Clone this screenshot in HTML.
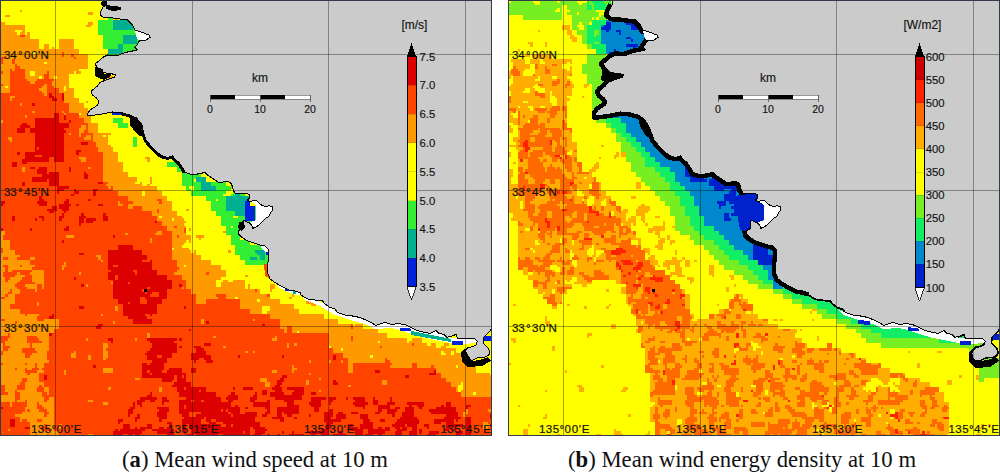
<!DOCTYPE html>
<html><head><meta charset="utf-8"><style>
html,body{margin:0;padding:0;background:#fff;width:1000px;height:472px;overflow:hidden}
.pa{position:absolute;left:0;top:0}
.pb{position:absolute;left:508px;top:0}
.cap{position:absolute;top:447px;font-family:"Liberation Serif",serif;font-size:22.7px;color:#111;white-space:nowrap}
</style></head><body>
<div class="pa"><svg width="492" height="436" viewBox="0 0 492 436" shape-rendering="crispEdges">
<path fill="#ffff00" d="M0 0h210.5v2.5h-210.5zM213 0h211v2.5h-211zM426.5 0h65.5v2.5h-65.5zM0 2.5h326v2.5h-326zM328.5 2.5h163.5v2.5h-163.5zM0 5h157v2.5h-157zM159 5h113v2.5h-113zM274.5 5h80.5v2.5h-80.5zM357.5 5h134.5v2.5h-134.5zM0 7.5h186v2.5h-186zM191 7.5h81v2.5h-81zM274.5 7.5h12v2.5h-12zM289 7.5h203v2.5h-203zM0 10h19.5v2h-19.5zM22 10h166.5v2h-166.5zM191 10h78.5v2h-78.5zM272 10h10v2h-10zM284 10h2.5v2h-2.5zM289 10h147v2h-147zM441 10h51v2h-51zM0 12h88v2.5h-88zM93 12h54v2.5h-54zM149.5 12h245v2.5h-245zM402 12h34v2.5h-34zM438.5 12h53.5v2.5h-53.5zM0 14.5h5v2.5h-5zM10 14.5h98v2.5h-98zM112.5 14.5h223v2.5h-223zM338 14.5h56.5v2.5h-56.5zM402 14.5h90v2.5h-90zM0 17h108v2.5h-108zM112.5 17h2.5v2.5h-2.5zM117.5 17h196v2.5h-196zM316 17h19.5v2.5h-19.5zM338 17h78.5v2.5h-78.5zM419 17h73v2.5h-73zM0 19.5h98v2.5h-98zM132.5 19.5h181v2.5h-181zM316 19.5h19.5v2.5h-19.5zM338 19.5h78.5v2.5h-78.5zM419 19.5h73v2.5h-73zM5 22h83v2.5h-83zM93 22h5v2.5h-5zM132.5 22h63.5v2.5h-63.5zM198.5 22h218v2.5h-218zM419 22h73v2.5h-73zM24.5 24.5h61.5v2.5h-61.5zM90.5 24.5h7.5v2.5h-7.5zM142 24.5h51.5v2.5h-51.5zM196 24.5h10v2.5h-10zM210.5 24.5h24.5v2.5h-24.5zM237.5 24.5h27v2.5h-27zM269.5 24.5h85.5v2.5h-85.5zM357.5 24.5h134.5v2.5h-134.5zM24.5 27h73.5v2.5h-73.5zM142 27h39.5v2.5h-39.5zM184 27h7v2.5h-7zM193.5 27h103v2.5h-103zM301.5 27h112.5v2.5h-112.5zM416.5 27h75.5v2.5h-75.5zM14.5 29.5h7.5v2.5h-7.5zM24.5 29.5h73.5v2.5h-73.5zM152 29.5h144.5v2.5h-144.5zM301.5 29.5h110v2.5h-110zM416.5 29.5h39v2.5h-39zM458 29.5h34v2.5h-34zM17 32h2.5v2.5h-2.5zM24.5 32h2.5v2.5h-2.5zM29.5 32h68.5v2.5h-68.5zM152 32h257v2.5h-257zM416.5 32h37v2.5h-37zM458 32h34v2.5h-34zM29.5 34.5h73.5v2.5h-73.5zM152 34.5h66v2.5h-66zM220.5 34.5h59v2.5h-59zM282 34.5h4.5v2.5h-4.5zM291.5 34.5h88.5v2.5h-88.5zM384.5 34.5h69v2.5h-69zM455.5 34.5h36.5v2.5h-36.5zM29.5 37h73.5v2h-73.5zM152 37h54v2h-54zM208.5 37h73.5v2h-73.5zM289 37h91v2h-91zM387 37h105v2h-105zM39 39h20v2.5h-20zM73.5 39h29.5v2.5h-29.5zM147 39h59v2.5h-59zM208.5 39h73.5v2.5h-73.5zM286.5 39h81v2.5h-81zM370 39h122v2.5h-122zM39 41.5h20v2.5h-20zM73.5 41.5h29.5v2.5h-29.5zM147 41.5h196v2.5h-196zM345.5 41.5h146.5v2.5h-146.5zM39 44h5v2.5h-5zM49 44h10v2.5h-10zM73.5 44h29.5v2.5h-29.5zM147 44h12v2.5h-12zM166.5 44h122.5v2.5h-122.5zM296.5 44h195.5v2.5h-195.5zM39 46.5h5v2.5h-5zM49 46.5h2.5v2.5h-2.5zM54 46.5h5v2.5h-5zM73.5 46.5h29.5v2.5h-29.5zM147 46.5h14.5v2.5h-14.5zM166.5 46.5h125v2.5h-125zM294 46.5h32v2.5h-32zM328.5 46.5h163.5v2.5h-163.5zM78.5 49h29.5v2.5h-29.5zM137 49h34.5v2.5h-34.5zM174 49h103v2.5h-103zM279.5 49h210.5v2.5h-210.5zM32 51.5h5v2.5h-5zM78.5 51.5h29.5v2.5h-29.5zM137 51.5h34.5v2.5h-34.5zM174 51.5h103v2.5h-103zM279.5 51.5h66v2.5h-66zM348 51.5h93v2.5h-93zM443.5 51.5h48.5v2.5h-48.5zM88 54h20v2.5h-20zM117.5 54h54v2.5h-54zM174 54h188.5v2.5h-188.5zM367.5 54h78.5v2.5h-78.5zM448.5 54h43.5v2.5h-43.5zM88 56.5h20v2.5h-20zM117.5 56.5h51.5v2.5h-51.5zM174 56.5h272v2.5h-272zM448.5 56.5h43.5v2.5h-43.5zM88 59h147v2.5h-147zM237.5 59h233v2.5h-233zM475.5 59h16.5v2.5h-16.5zM44 61.5h2.5v2h-2.5zM88 61.5h110.5v2h-110.5zM201 61.5h291v2h-291zM88 63.5h108v2.5h-108zM201 63.5h90.5v2.5h-90.5zM294 63.5h198v2.5h-198zM88 66h39.5v2.5h-39.5zM130 66h159v2.5h-159zM291.5 66h171.5v2.5h-171.5zM465.5 66h26.5v2.5h-26.5zM78.5 68.5h413.5v2.5h-413.5zM29.5 71h5v2.5h-5zM73.5 71h2.5v2.5h-2.5zM81 71h85.5v2.5h-85.5zM171.5 71h83.5v2.5h-83.5zM257 71h135v2.5h-135zM394.5 71h97.5v2.5h-97.5zM29.5 73.5h5v2.5h-5zM68.5 73.5h39.5v2.5h-39.5zM110.5 73.5h110v2.5h-110zM223 73.5h166.5v2.5h-166.5zM394.5 73.5h97.5v2.5h-97.5zM39 76h2.5v2.5h-2.5zM54 76h2.5v2.5h-2.5zM68.5 76h39.5v2.5h-39.5zM112.5 76h379.5v2.5h-379.5zM68.5 78.5h127.5v2.5h-127.5zM198.5 78.5h34.5v2.5h-34.5zM235 78.5h132.5v2.5h-132.5zM370 78.5h93v2.5h-93zM468 78.5h24v2.5h-24zM68.5 81h296.5v2.5h-296.5zM367.5 81h7.5v2.5h-7.5zM377.5 81h114.5v2.5h-114.5zM68.5 83.5h228v2.5h-228zM299 83.5h7v2.5h-7zM311 83.5h51.5v2.5h-51.5zM367.5 83.5h95.5v2.5h-95.5zM465.5 83.5h26.5v2.5h-26.5zM5 86h2.5v2h-2.5zM63.5 86h2.5v2h-2.5zM68.5 86h423.5v2h-423.5zM63.5 88h2.5v2.5h-2.5zM73.5 88h81v2.5h-81zM157 88h88v2.5h-88zM250 88h242v2.5h-242zM73.5 90.5h418.5v2.5h-418.5zM73.5 93h71v2.5h-71zM147 93h345v2.5h-345zM73.5 95.5h71v2.5h-71zM149.5 95.5h17v2.5h-17zM169 95.5h223v2.5h-223zM394.5 95.5h97.5v2.5h-97.5zM78.5 98h66v2.5h-66zM152 98h14.5v2.5h-14.5zM169 98h22v2.5h-22zM193.5 98h135v2.5h-135zM333 98h59v2.5h-59zM394.5 98h97.5v2.5h-97.5zM78.5 100.5h7.5v2.5h-7.5zM88 100.5h22.5v2.5h-22.5zM115 100.5h12.5v2.5h-12.5zM130 100.5h58.5v2.5h-58.5zM196 100.5h132.5v2.5h-132.5zM335.5 100.5h156.5v2.5h-156.5zM83.5 103h105v2.5h-105zM196 103h135v2.5h-135zM335.5 103h34.5v2.5h-34.5zM375 103h117v2.5h-117zM83.5 105.5h125v2.5h-125zM210.5 105.5h64v2.5h-64zM277 105.5h90.5v2.5h-90.5zM375 105.5h117v2.5h-117zM88 108h88.5v2.5h-88.5zM179 108h27v2.5h-27zM215.5 108h51.5v2.5h-51.5zM272 108h2.5v2.5h-2.5zM277 108h44v2.5h-44zM323.5 108h46.5v2.5h-46.5zM372.5 108h119.5v2.5h-119.5zM88 110.5h88.5v2h-88.5zM179 110.5h29.5v2h-29.5zM210.5 110.5h7.5v2h-7.5zM220.5 110.5h271.5v2h-271.5zM78.5 112.5h2.5v2.5h-2.5zM90.5 112.5h108v2.5h-108zM203.5 112.5h288.5v2.5h-288.5zM90.5 115h71v2.5h-71zM169 115h201v2.5h-201zM372.5 115h119.5v2.5h-119.5zM90.5 117.5h22v2.5h-22zM122.5 117.5h49v2.5h-49zM176.5 117.5h134.5v2.5h-134.5zM316 117.5h135v2.5h-135zM455.5 117.5h36.5v2.5h-36.5zM90.5 120h22v2.5h-22zM122.5 120h171.5v2.5h-171.5zM296.5 120h115v2.5h-115zM414 120h39.5v2.5h-39.5zM455.5 120h36.5v2.5h-36.5zM98 122.5h19.5v2.5h-19.5zM127.5 122.5h301.5v2.5h-301.5zM433.5 122.5h58.5v2.5h-58.5zM98 125h19.5v2.5h-19.5zM127.5 125h54v2.5h-54zM184 125h2v2.5h-2zM188.5 125h68.5v2.5h-68.5zM262 125h12.5v2.5h-12.5zM279.5 125h149.5v2.5h-149.5zM433.5 125h32v2.5h-32zM470.5 125h21.5v2.5h-21.5zM98 127.5h159v2.5h-159zM262 127.5h12.5v2.5h-12.5zM279.5 127.5h58.5v2.5h-58.5zM340.5 127.5h125v2.5h-125zM473 127.5h19v2.5h-19zM98 130h132.5v2.5h-132.5zM233 130h105v2.5h-105zM340.5 130h127.5v2.5h-127.5zM470.5 130h21.5v2.5h-21.5zM110.5 132.5h242.5v2.5h-242.5zM355 132.5h137v2.5h-137zM103 135h2.5v2h-2.5zM108 135h112.5v2h-112.5zM225.5 135h78.5v2h-78.5zM306 135h66.5v2h-66.5zM375 135h117v2h-117zM108 137h24.5v2.5h-24.5zM137 137h47v2.5h-47zM186 137h37v2.5h-37zM225.5 137h134.5v2.5h-134.5zM362.5 137h37v2.5h-37zM402 137h90v2.5h-90zM108 139.5h24.5v2.5h-24.5zM137 139.5h223v2.5h-223zM365 139.5h127v2.5h-127zM108 142h24.5v2.5h-24.5zM137 142h71.5v2.5h-71.5zM213 142h24.5v2.5h-24.5zM242.5 142h115v2.5h-115zM360 142h22v2.5h-22zM384.5 142h107.5v2.5h-107.5zM110.5 144.5h22v2.5h-22zM137 144.5h27v2.5h-27zM166.5 144.5h73.5v2.5h-73.5zM242.5 144.5h137.5v2.5h-137.5zM384.5 144.5h107.5v2.5h-107.5zM112.5 147h267.5v2.5h-267.5zM382 147h110v2.5h-110zM112.5 149.5h191.5v2.5h-191.5zM306 149.5h59v2.5h-59zM367.5 149.5h41.5v2.5h-41.5zM419 149.5h44v2.5h-44zM465.5 149.5h26.5v2.5h-26.5zM117.5 152h247.5v2.5h-247.5zM370 152h39v2.5h-39zM419 152h44v2.5h-44zM465.5 152h26.5v2.5h-26.5zM117.5 154.5h188.5v2.5h-188.5zM308.5 154.5h56.5v2.5h-56.5zM370 154.5h29.5v2.5h-29.5zM402 154.5h7v2.5h-7zM421.5 154.5h41.5v2.5h-41.5zM465.5 154.5h12.5v2.5h-12.5zM480 154.5h10v2.5h-10zM117.5 157h27v2h-27zM149.5 157h36.5v2h-36.5zM188.5 157h117.5v2h-117.5zM308.5 157h20v2h-20zM335.5 157h29.5v2h-29.5zM367.5 157h34.5v2h-34.5zM404.5 157h14.5v2h-14.5zM421.5 157h70.5v2h-70.5zM117.5 159h29.5v2.5h-29.5zM149.5 159h36.5v2.5h-36.5zM188.5 159h108v2.5h-108zM299 159h32v2.5h-32zM333 159h159v2.5h-159zM122.5 161.5h44v2.5h-44zM181.5 161.5h112.5v2.5h-112.5zM299 161.5h193v2.5h-193zM122.5 164h44v2.5h-44zM181.5 164h75.5v2.5h-75.5zM259.5 164h37v2.5h-37zM301.5 164h159v2.5h-159zM463 164h29v2.5h-29zM122.5 166.5h54v2.5h-54zM181.5 166.5h7v2.5h-7zM191 166.5h27v2.5h-27zM220.5 166.5h110.5v2.5h-110.5zM333 166.5h125v2.5h-125zM460.5 166.5h31.5v2.5h-31.5zM122.5 169h54v2.5h-54zM181.5 169h7v2.5h-7zM191 169h184v2.5h-184zM377.5 169h114.5v2.5h-114.5zM127.5 171.5h54v2.5h-54zM201 171.5h291v2.5h-291zM127.5 174h54v2.5h-54zM201 174h90.5v2.5h-90.5zM294 174h61v2.5h-61zM362.5 174h129.5v2.5h-129.5zM137 176.5h12.5v2.5h-12.5zM152 176.5h29.5v2.5h-29.5zM206 176.5h9.5v2.5h-9.5zM218 176.5h233v2.5h-233zM453.5 176.5h38.5v2.5h-38.5zM137 179h12.5v2.5h-12.5zM152 179h29.5v2.5h-29.5zM193.5 179h2.5v2.5h-2.5zM206 179h186v2.5h-186zM394.5 179h56.5v2.5h-56.5zM453.5 179h38.5v2.5h-38.5zM135 181.5h4.5v2.5h-4.5zM142 181.5h7.5v2.5h-7.5zM152 181.5h29.5v2.5h-29.5zM225.5 181.5h183.5v2.5h-183.5zM411.5 181.5h42v2.5h-42zM458 181.5h34v2.5h-34zM142 184h5v2h-5zM149.5 184h32v2h-32zM225.5 184h58.5v2h-58.5zM286.5 184h51.5v2h-51.5zM340.5 184h151.5v2h-151.5zM157 186h29v2.5h-29zM188.5 186h5v2.5h-5zM233 186h46.5v2.5h-46.5zM284 186h7.5v2.5h-7.5zM294 186h198v2.5h-198zM157 188.5h29v2.5h-29zM191 188.5h2.5v2.5h-2.5zM230.5 188.5h61v2.5h-61zM294 188.5h198v2.5h-198zM142 191h2.5v2.5h-2.5zM161.5 191h29.5v2.5h-29.5zM225.5 191h7.5v2.5h-7.5zM245 191h245v2.5h-245zM142 193.5h2.5v2.5h-2.5zM161.5 193.5h29.5v2.5h-29.5zM223 193.5h7.5v2.5h-7.5zM245 193.5h120v2.5h-120zM367.5 193.5h124.5v2.5h-124.5zM166.5 196h39.5v2.5h-39.5zM250 196h76v2.5h-76zM328.5 196h9.5v2.5h-9.5zM340.5 196h108v2.5h-108zM451 196h41v2.5h-41zM166.5 198.5h39.5v2.5h-39.5zM215.5 198.5h2.5v2.5h-2.5zM250 198.5h76v2.5h-76zM328.5 198.5h9.5v2.5h-9.5zM340.5 198.5h151.5v2.5h-151.5zM171.5 201h39v2.5h-39zM250 201h76v2.5h-76zM333 201h59v2.5h-59zM394.5 201h97.5v2.5h-97.5zM171.5 203.5h39v2.5h-39zM250 203.5h22v2.5h-22zM274.5 203.5h54v2.5h-54zM338 203.5h54v2.5h-54zM394.5 203.5h97.5v2.5h-97.5zM171.5 206h39v2.5h-39zM264.5 206h66.5v2.5h-66.5zM338 206h42v2.5h-42zM382 206h10v2.5h-10zM394.5 206h97.5v2.5h-97.5zM171.5 208.5h14.5v2h-14.5zM188.5 208.5h22v2h-22zM264.5 208.5h68.5v2h-68.5zM335.5 208.5h46.5v2h-46.5zM384.5 208.5h107.5v2h-107.5zM176.5 210.5h39v2.5h-39zM269.5 210.5h12.5v2.5h-12.5zM286.5 210.5h115.5v2.5h-115.5zM404.5 210.5h87.5v2.5h-87.5zM176.5 213h39v2.5h-39zM269.5 213h14.5v2.5h-14.5zM289 213h140v2.5h-140zM433.5 213h34.5v2.5h-34.5zM473 213h19v2.5h-19zM159 215.5h2.5v2.5h-2.5zM181.5 215.5h39v2.5h-39zM233 215.5h4.5v2.5h-4.5zM269.5 215.5h108v2.5h-108zM380 215.5h51v2.5h-51zM433.5 215.5h34.5v2.5h-34.5zM473 215.5h19v2.5h-19zM171.5 218h2.5v2.5h-2.5zM184 218h36.5v2.5h-36.5zM269.5 218h14.5v2.5h-14.5zM286.5 218h91v2.5h-91zM380 218h26.5v2.5h-26.5zM409 218h56.5v2.5h-56.5zM475.5 218h16.5v2.5h-16.5zM186 220.5h34.5v2.5h-34.5zM257 220.5h2.5v2.5h-2.5zM264.5 220.5h19.5v2.5h-19.5zM286.5 220.5h49v2.5h-49zM338 220.5h130v2.5h-130zM475.5 220.5h16.5v2.5h-16.5zM184 223h36.5v2.5h-36.5zM259.5 223h61.5v2.5h-61.5zM323.5 223h27v2.5h-27zM357.5 223h115.5v2.5h-115.5zM475.5 223h14.5v2.5h-14.5zM186 225.5h39.5v2.5h-39.5zM230.5 225.5h2.5v2.5h-2.5zM245 225.5h108v2.5h-108zM360 225.5h44.5v2.5h-44.5zM406.5 225.5h81v2.5h-81zM186 228h2.5v2.5h-2.5zM191 228h34.5v2.5h-34.5zM245 228h83.5v2.5h-83.5zM331 228h24v2.5h-24zM357.5 228h86v2.5h-86zM448.5 228h39v2.5h-39zM186 230.5h37v2.5h-37zM240 230.5h86v2.5h-86zM331 230.5h112.5v2.5h-112.5zM448.5 230.5h41.5v2.5h-41.5zM186 233h39.5v2h-39.5zM240 233h86v2h-86zM331 233h115v2h-115zM448.5 233h5v2h-5zM455.5 233h36.5v2h-36.5zM191 235h5v2.5h-5zM203.5 235h27v2.5h-27zM240 235h252v2.5h-252zM191 237.5h7.5v2.5h-7.5zM201 237.5h29.5v2.5h-29.5zM240 237.5h135v2.5h-135zM377.5 237.5h107.5v2.5h-107.5zM487.5 237.5h4.5v2.5h-4.5zM186 240h2.5v2.5h-2.5zM191 240h39.5v2.5h-39.5zM250 240h242v2.5h-242zM184 242.5h46.5v2.5h-46.5zM250 242.5h132v2.5h-132zM384.5 242.5h81v2.5h-81zM470.5 242.5h21.5v2.5h-21.5zM181.5 245h53.5v2.5h-53.5zM264.5 245h37v2.5h-37zM304 245h14.5v2.5h-14.5zM321 245h59v2.5h-59zM387 245h81v2.5h-81zM470.5 245h21.5v2.5h-21.5zM171.5 247.5h2.5v2.5h-2.5zM188.5 247.5h46.5v2.5h-46.5zM264.5 247.5h37v2.5h-37zM304 247.5h183.5v2.5h-183.5zM490 247.5h2v2.5h-2zM191 250h2.5v2.5h-2.5zM196 250h32v2.5h-32zM230.5 250h4.5v2.5h-4.5zM269.5 250h215.5v2.5h-215.5zM196 252.5h39v2.5h-39zM269.5 252.5h218v2.5h-218zM201 255h39v2h-39zM269.5 255h34.5v2h-34.5zM306 255h32v2h-32zM340.5 255h34.5v2h-34.5zM380 255h112v2h-112zM201 257h39v2.5h-39zM269.5 257h196v2.5h-196zM470.5 257h21.5v2.5h-21.5zM210.5 259.5h34.5v2.5h-34.5zM269.5 259.5h56.5v2.5h-56.5zM328.5 259.5h29v2.5h-29zM362.5 259.5h73.5v2.5h-73.5zM441 259.5h22v2.5h-22zM468 259.5h24v2.5h-24zM210.5 262h34.5v2.5h-34.5zM269.5 262h56.5v2.5h-56.5zM331 262h26.5v2.5h-26.5zM362.5 262h73.5v2.5h-73.5zM441 262h49v2.5h-49zM184 264.5h2v2.5h-2zM220.5 264.5h137v2.5h-137zM360 264.5h127.5v2.5h-127.5zM220.5 267h174v2.5h-174zM399.5 267h88v2.5h-88zM490 267h2v2.5h-2zM225.5 269.5h105.5v2.5h-105.5zM333 269.5h54v2.5h-54zM389.5 269.5h2.5v2.5h-2.5zM399.5 269.5h7v2.5h-7zM409 269.5h42v2.5h-42zM453.5 269.5h38.5v2.5h-38.5zM225.5 272h105.5v2.5h-105.5zM333 272h73.5v2.5h-73.5zM409 272h10v2.5h-10zM421.5 272h70.5v2.5h-70.5zM225.5 274.5h19.5v2.5h-19.5zM247.5 274.5h125v2.5h-125zM375 274.5h41.5v2.5h-41.5zM419 274.5h73v2.5h-73zM220.5 277h154.5v2.5h-154.5zM377.5 277h14.5v2.5h-14.5zM394.5 277h34.5v2.5h-34.5zM431 277h61v2.5h-61zM215.5 279.5h7.5v2.5h-7.5zM228 279.5h5v2.5h-5zM245 279.5h81v2.5h-81zM331 279.5h44v2.5h-44zM377.5 279.5h14.5v2.5h-14.5zM394.5 279.5h97.5v2.5h-97.5zM215.5 282h5v2h-5zM245 282h81v2h-81zM331 282h161v2h-161zM215.5 284h5v2.5h-5zM245 284h2.5v2.5h-2.5zM250 284h19.5v2.5h-19.5zM274.5 284h217.5v2.5h-217.5zM245 286.5h2.5v2.5h-2.5zM250 286.5h19.5v2.5h-19.5zM274.5 286.5h217.5v2.5h-217.5zM259.5 289h10v2.5h-10zM272 289h24.5v2.5h-24.5zM299 289h93v2.5h-93zM399.5 289h63.5v2.5h-63.5zM465.5 289h26.5v2.5h-26.5zM259.5 291.5h34.5v2.5h-34.5zM296.5 291.5h85.5v2.5h-85.5zM384.5 291.5h10v2.5h-10zM399.5 291.5h92.5v2.5h-92.5zM269.5 294h22v2.5h-22zM294 294h27v2.5h-27zM323.5 294h58.5v2.5h-58.5zM387 294h42v2.5h-42zM433.5 294h58.5v2.5h-58.5zM235 296.5h2.5v2.5h-2.5zM269.5 296.5h19.5v2.5h-19.5zM291.5 296.5h66v2.5h-66zM360 296.5h22v2.5h-22zM387 296.5h42v2.5h-42zM433.5 296.5h58.5v2.5h-58.5zM257 299h2.5v2.5h-2.5zM279.5 299h26.5v2.5h-26.5zM308.5 299h183.5v2.5h-183.5zM279.5 301.5h26.5v2.5h-26.5zM313.5 301.5h73.5v2.5h-73.5zM389.5 301.5h102.5v2.5h-102.5zM294 304h17v2h-17zM316 304h176v2h-176zM262 306h7.5v2.5h-7.5zM294 306h56.5v2.5h-56.5zM353 306h139v2.5h-139zM262 308.5h7.5v2.5h-7.5zM299 308.5h49v2.5h-49zM353 308.5h139v2.5h-139zM262 311h5v2.5h-5zM299 311h49v2.5h-49zM353 311h139v2.5h-139zM323.5 313.5h27v2.5h-27zM353 313.5h139v2.5h-139zM323.5 316h166.5v2.5h-166.5zM338 318.5h152v2.5h-152zM338 321h103v2.5h-103zM443.5 321h46.5v2.5h-46.5zM353 323.5h2v2.5h-2zM362.5 323.5h129.5v2.5h-129.5zM362.5 326h129.5v2.5h-129.5zM377.5 328.5h114.5v2.5h-114.5zM296.5 331h2.5v2h-2.5zM377.5 331h56v2h-56zM436 331h56v2h-56zM387 333h86v2.5h-86zM475.5 333h16.5v2.5h-16.5zM387 335.5h105v2.5h-105zM406.5 338h5v2.5h-5zM421.5 338h70.5v2.5h-70.5zM377.5 340.5h2.5v2.5h-2.5zM406.5 340.5h2.5v2.5h-2.5zM421.5 340.5h70.5v2.5h-70.5zM426.5 343h4.5v2.5h-4.5zM436 343h7.5v2.5h-7.5zM448.5 343h43.5v2.5h-43.5zM328.5 345.5h2.5v2.5h-2.5zM436 345.5h5v2.5h-5zM446 345.5h46v2.5h-46zM340.5 348h2.5v2.5h-2.5zM455.5 348h36.5v2.5h-36.5zM441 350.5h2.5v2.5h-2.5zM451 350.5h2.5v2.5h-2.5zM455.5 350.5h5v2.5h-5zM463 350.5h29v2.5h-29zM441 353h5v2h-5zM451 353h2.5v2h-2.5zM465.5 353h26.5v2h-26.5zM370 355h2.5v2.5h-2.5zM465.5 355h26.5v2.5h-26.5zM465.5 357.5h26.5v2.5h-26.5zM465.5 360h26.5v2.5h-26.5zM475.5 362.5h16.5v2.5h-16.5zM455.5 365h2.5v2.5h-2.5zM475.5 365h16.5v2.5h-16.5zM475.5 367.5h16.5v2.5h-16.5zM475.5 370h16.5v2.5h-16.5zM490 372.5h2v2.5h-2zM460.5 382h2.5v2.5h-2.5zM458 384.5h5v2.5h-5zM458 387h5v2.5h-5zM458 389.5h2.5v2.5h-2.5zM473 392h2.5v2.5h-2.5z"/>
<path fill="#ff9900" d="M210.5 0h2.5v2.5h-2.5zM424 0h2.5v2.5h-2.5zM326 2.5h2.5v2.5h-2.5zM157 5h2v2.5h-2zM272 5h2.5v2.5h-2.5zM355 5h2.5v2.5h-2.5zM186 7.5h5v2.5h-5zM272 7.5h2.5v2.5h-2.5zM286.5 7.5h2.5v2.5h-2.5zM19.5 10h2.5v2h-2.5zM188.5 10h2.5v2h-2.5zM269.5 10h2.5v2h-2.5zM282 10h2v2h-2zM286.5 10h2.5v2h-2.5zM436 10h5v2h-5zM88 12h5v2.5h-5zM147 12h2.5v2.5h-2.5zM394.5 12h7.5v2.5h-7.5zM436 12h2.5v2.5h-2.5zM5 14.5h5v2.5h-5zM335.5 14.5h2.5v2.5h-2.5zM394.5 14.5h7.5v2.5h-7.5zM115 17h2.5v2.5h-2.5zM313.5 17h2.5v2.5h-2.5zM335.5 17h2.5v2.5h-2.5zM416.5 17h2.5v2.5h-2.5zM313.5 19.5h2.5v2.5h-2.5zM335.5 19.5h2.5v2.5h-2.5zM416.5 19.5h2.5v2.5h-2.5zM0 22h5v2.5h-5zM88 22h5v2.5h-5zM196 22h2.5v2.5h-2.5zM416.5 22h2.5v2.5h-2.5zM0 24.5h24.5v2.5h-24.5zM86 24.5h4.5v2.5h-4.5zM193.5 24.5h2.5v2.5h-2.5zM206 24.5h4.5v2.5h-4.5zM235 24.5h2.5v2.5h-2.5zM264.5 24.5h5v2.5h-5zM355 24.5h2.5v2.5h-2.5zM0 27h24.5v2.5h-24.5zM181.5 27h2.5v2.5h-2.5zM191 27h2.5v2.5h-2.5zM296.5 27h5v2.5h-5zM414 27h2.5v2.5h-2.5zM0 29.5h14.5v2.5h-14.5zM22 29.5h2.5v2.5h-2.5zM296.5 29.5h5v2.5h-5zM411.5 29.5h5v2.5h-5zM455.5 29.5h2.5v2.5h-2.5zM0 32h17v2.5h-17zM19.5 32h5v2.5h-5zM27 32h2.5v2.5h-2.5zM409 32h7.5v2.5h-7.5zM453.5 32h4.5v2.5h-4.5zM0 34.5h19.5v2.5h-19.5zM24.5 34.5h5v2.5h-5zM218 34.5h2.5v2.5h-2.5zM279.5 34.5h2.5v2.5h-2.5zM286.5 34.5h5v2.5h-5zM380 34.5h4.5v2.5h-4.5zM453.5 34.5h2v2.5h-2zM0 37h29.5v2h-29.5zM206 37h2.5v2h-2.5zM282 37h7v2h-7zM380 37h7v2h-7zM0 39h39v2.5h-39zM59 39h14.5v2.5h-14.5zM206 39h2.5v2.5h-2.5zM282 39h4.5v2.5h-4.5zM367.5 39h2.5v2.5h-2.5zM0 41.5h39v2.5h-39zM59 41.5h14.5v2.5h-14.5zM343 41.5h2.5v2.5h-2.5zM0 44h39v2.5h-39zM44 44h5v2.5h-5zM59 44h14.5v2.5h-14.5zM159 44h7.5v2.5h-7.5zM289 44h7.5v2.5h-7.5zM0 46.5h39v2.5h-39zM44 46.5h5v2.5h-5zM51.5 46.5h2.5v2.5h-2.5zM59 46.5h14.5v2.5h-14.5zM161.5 46.5h5v2.5h-5zM291.5 46.5h2.5v2.5h-2.5zM326 46.5h2.5v2.5h-2.5zM0 49h78.5v2.5h-78.5zM171.5 49h2.5v2.5h-2.5zM277 49h2.5v2.5h-2.5zM490 49h2v2.5h-2zM0 51.5h32v2.5h-32zM37 51.5h24.5v2.5h-24.5zM63.5 51.5h15v2.5h-15zM171.5 51.5h2.5v2.5h-2.5zM277 51.5h2.5v2.5h-2.5zM345.5 51.5h2.5v2.5h-2.5zM441 51.5h2.5v2.5h-2.5zM0 54h61.5v2.5h-61.5zM63.5 54h7.5v2.5h-7.5zM73.5 54h14.5v2.5h-14.5zM171.5 54h2.5v2.5h-2.5zM362.5 54h5v2.5h-5zM446 54h2.5v2.5h-2.5zM5 56.5h68.5v2.5h-68.5zM76 56.5h12v2.5h-12zM169 56.5h5v2.5h-5zM446 56.5h2.5v2.5h-2.5zM2.5 59h9.5v2.5h-9.5zM14.5 59h73.5v2.5h-73.5zM235 59h2.5v2.5h-2.5zM470.5 59h5v2.5h-5zM2.5 61.5h9.5v2h-9.5zM14.5 61.5h29.5v2h-29.5zM46.5 61.5h41.5v2h-41.5zM198.5 61.5h2.5v2h-2.5zM0 63.5h14.5v2.5h-14.5zM17 63.5h71v2.5h-71zM196 63.5h5v2.5h-5zM291.5 63.5h2.5v2.5h-2.5zM0 66h14.5v2.5h-14.5zM19.5 66h68.5v2.5h-68.5zM127.5 66h2.5v2.5h-2.5zM289 66h2.5v2.5h-2.5zM463 66h2.5v2.5h-2.5zM0 68.5h10v2.5h-10zM12 68.5h2.5v2.5h-2.5zM24.5 68.5h54v2.5h-54zM2.5 71h7.5v2.5h-7.5zM24.5 71h5v2.5h-5zM34.5 71h12v2.5h-12zM49 71h24.5v2.5h-24.5zM76 71h5v2.5h-5zM166.5 71h5v2.5h-5zM255 71h2v2.5h-2zM392 71h2.5v2.5h-2.5zM0 73.5h10v2.5h-10zM24.5 73.5h5v2.5h-5zM34.5 73.5h9.5v2.5h-9.5zM49 73.5h19.5v2.5h-19.5zM108 73.5h2.5v2.5h-2.5zM220.5 73.5h2.5v2.5h-2.5zM389.5 73.5h5v2.5h-5zM0 76h10v2.5h-10zM24.5 76h14.5v2.5h-14.5zM41.5 76h2.5v2.5h-2.5zM49 76h5v2.5h-5zM56.5 76h12v2.5h-12zM108 76h4.5v2.5h-4.5zM0 78.5h10v2.5h-10zM27 78.5h10v2.5h-10zM54 78.5h14.5v2.5h-14.5zM196 78.5h2.5v2.5h-2.5zM233 78.5h2v2.5h-2zM367.5 78.5h2.5v2.5h-2.5zM463 78.5h5v2.5h-5zM0 81h10v2.5h-10zM29.5 81h5v2.5h-5zM51.5 81h17v2.5h-17zM365 81h2.5v2.5h-2.5zM375 81h2.5v2.5h-2.5zM2.5 83.5h7.5v2.5h-7.5zM44 83.5h2.5v2.5h-2.5zM51.5 83.5h17v2.5h-17zM296.5 83.5h2.5v2.5h-2.5zM306 83.5h5v2.5h-5zM362.5 83.5h5v2.5h-5zM463 83.5h2.5v2.5h-2.5zM0 86h5v2h-5zM7.5 86h2.5v2h-2.5zM41.5 86h5v2h-5zM54 86h9.5v2h-9.5zM66 86h2.5v2h-2.5zM0 88h10v2.5h-10zM39 88h7.5v2.5h-7.5zM59 88h4.5v2.5h-4.5zM66 88h7.5v2.5h-7.5zM154.5 88h2.5v2.5h-2.5zM245 88h5v2.5h-5zM0 90.5h10v2.5h-10zM41.5 90.5h5v2.5h-5zM59 90.5h14.5v2.5h-14.5zM44 93h2.5v2.5h-2.5zM63.5 93h10v2.5h-10zM144.5 93h2.5v2.5h-2.5zM10 95.5h4.5v2.5h-4.5zM63.5 95.5h10v2.5h-10zM144.5 95.5h5v2.5h-5zM166.5 95.5h2.5v2.5h-2.5zM392 95.5h2.5v2.5h-2.5zM10 98h2v2.5h-2zM63.5 98h15v2.5h-15zM144.5 98h7.5v2.5h-7.5zM166.5 98h2.5v2.5h-2.5zM191 98h2.5v2.5h-2.5zM328.5 98h4.5v2.5h-4.5zM392 98h2.5v2.5h-2.5zM63.5 100.5h15v2.5h-15zM86 100.5h2v2.5h-2zM110.5 100.5h4.5v2.5h-4.5zM127.5 100.5h2.5v2.5h-2.5zM188.5 100.5h7.5v2.5h-7.5zM328.5 100.5h7v2.5h-7zM19.5 103h2.5v2.5h-2.5zM68.5 103h15v2.5h-15zM188.5 103h7.5v2.5h-7.5zM331 103h4.5v2.5h-4.5zM370 103h5v2.5h-5zM68.5 105.5h15v2.5h-15zM208.5 105.5h2v2.5h-2zM274.5 105.5h2.5v2.5h-2.5zM367.5 105.5h7.5v2.5h-7.5zM68.5 108h19.5v2.5h-19.5zM176.5 108h2.5v2.5h-2.5zM206 108h9.5v2.5h-9.5zM267 108h5v2.5h-5zM274.5 108h2.5v2.5h-2.5zM321 108h2.5v2.5h-2.5zM370 108h2.5v2.5h-2.5zM32 110.5h2.5v2h-2.5zM61.5 110.5h2v2h-2zM68.5 110.5h19.5v2h-19.5zM176.5 110.5h2.5v2h-2.5zM208.5 110.5h2v2h-2zM218 110.5h2.5v2h-2.5zM63.5 112.5h2.5v2.5h-2.5zM81 112.5h9.5v2.5h-9.5zM198.5 112.5h5v2.5h-5zM24.5 115h2.5v2.5h-2.5zM78.5 115h12v2.5h-12zM161.5 115h7.5v2.5h-7.5zM370 115h2.5v2.5h-2.5zM83.5 117.5h7v2.5h-7zM171.5 117.5h5v2.5h-5zM311 117.5h5v2.5h-5zM451 117.5h4.5v2.5h-4.5zM0 120h2.5v2.5h-2.5zM83.5 120h7v2.5h-7zM294 120h2.5v2.5h-2.5zM411.5 120h2.5v2.5h-2.5zM453.5 120h2v2.5h-2zM88 122.5h10v2.5h-10zM429 122.5h4.5v2.5h-4.5zM81 125h5v2.5h-5zM88 125h10v2.5h-10zM181.5 125h2.5v2.5h-2.5zM186 125h2.5v2.5h-2.5zM257 125h5v2.5h-5zM274.5 125h5v2.5h-5zM429 125h4.5v2.5h-4.5zM465.5 125h5v2.5h-5zM78.5 127.5h7.5v2.5h-7.5zM88 127.5h10v2.5h-10zM257 127.5h5v2.5h-5zM274.5 127.5h5v2.5h-5zM338 127.5h2.5v2.5h-2.5zM465.5 127.5h7.5v2.5h-7.5zM78.5 130h5v2.5h-5zM88 130h10v2.5h-10zM230.5 130h2.5v2.5h-2.5zM338 130h2.5v2.5h-2.5zM468 130h2.5v2.5h-2.5zM68.5 132.5h2.5v2.5h-2.5zM78.5 132.5h2.5v2.5h-2.5zM93 132.5h17.5v2.5h-17.5zM353 132.5h2v2.5h-2zM78.5 135h2.5v2h-2.5zM86 135h4.5v2h-4.5zM93 135h10v2h-10zM105.5 135h2.5v2h-2.5zM220.5 135h5v2h-5zM304 135h2v2h-2zM372.5 135h2.5v2h-2.5zM7.5 137h4.5v2.5h-4.5zM83.5 137h7v2.5h-7zM93 137h15v2.5h-15zM184 137h2v2.5h-2zM223 137h2.5v2.5h-2.5zM360 137h2.5v2.5h-2.5zM399.5 137h2.5v2.5h-2.5zM10 139.5h2v2.5h-2zM93 139.5h15v2.5h-15zM360 139.5h5v2.5h-5zM95.5 142h12.5v2.5h-12.5zM208.5 142h4.5v2.5h-4.5zM237.5 142h5v2.5h-5zM357.5 142h2.5v2.5h-2.5zM382 142h2.5v2.5h-2.5zM95.5 144.5h15v2.5h-15zM164 144.5h2.5v2.5h-2.5zM240 144.5h2.5v2.5h-2.5zM380 144.5h4.5v2.5h-4.5zM98 147h14.5v2.5h-14.5zM380 147h2v2.5h-2zM98 149.5h14.5v2.5h-14.5zM304 149.5h2v2.5h-2zM365 149.5h2.5v2.5h-2.5zM409 149.5h10v2.5h-10zM463 149.5h2.5v2.5h-2.5zM103 152h14.5v2.5h-14.5zM365 152h5v2.5h-5zM409 152h10v2.5h-10zM463 152h2.5v2.5h-2.5zM103 154.5h14.5v2.5h-14.5zM306 154.5h2.5v2.5h-2.5zM365 154.5h5v2.5h-5zM399.5 154.5h2.5v2.5h-2.5zM409 154.5h12.5v2.5h-12.5zM463 154.5h2.5v2.5h-2.5zM478 154.5h2v2.5h-2zM490 154.5h2v2.5h-2zM78.5 157h7.5v2h-7.5zM103 157h14.5v2h-14.5zM144.5 157h5v2h-5zM186 157h2.5v2h-2.5zM306 157h2.5v2h-2.5zM328.5 157h7v2h-7zM365 157h2.5v2h-2.5zM402 157h2.5v2h-2.5zM419 157h2.5v2h-2.5zM81 159h5v2.5h-5zM103 159h14.5v2.5h-14.5zM147 159h2.5v2.5h-2.5zM186 159h2.5v2.5h-2.5zM296.5 159h2.5v2.5h-2.5zM331 159h2v2.5h-2zM103 161.5h19.5v2.5h-19.5zM294 161.5h5v2.5h-5zM103 164h19.5v2.5h-19.5zM257 164h2.5v2.5h-2.5zM296.5 164h5v2.5h-5zM460.5 164h2.5v2.5h-2.5zM22 166.5h2.5v2.5h-2.5zM88 166.5h2.5v2.5h-2.5zM103 166.5h19.5v2.5h-19.5zM188.5 166.5h2.5v2.5h-2.5zM218 166.5h2.5v2.5h-2.5zM331 166.5h2v2.5h-2zM458 166.5h2.5v2.5h-2.5zM22 169h2.5v2.5h-2.5zM103 169h19.5v2.5h-19.5zM188.5 169h2.5v2.5h-2.5zM375 169h2.5v2.5h-2.5zM103 171.5h24.5v2.5h-24.5zM103 174h24.5v2.5h-24.5zM291.5 174h2.5v2.5h-2.5zM355 174h7.5v2.5h-7.5zM103 176.5h34v2.5h-34zM149.5 176.5h2.5v2.5h-2.5zM215.5 176.5h2.5v2.5h-2.5zM451 176.5h2.5v2.5h-2.5zM103 179h34v2.5h-34zM149.5 179h2.5v2.5h-2.5zM392 179h2.5v2.5h-2.5zM451 179h2.5v2.5h-2.5zM108 181.5h27v2.5h-27zM139.5 181.5h2.5v2.5h-2.5zM149.5 181.5h2.5v2.5h-2.5zM409 181.5h2.5v2.5h-2.5zM453.5 181.5h4.5v2.5h-4.5zM105.5 184h36.5v2h-36.5zM147 184h2.5v2h-2.5zM284 184h2.5v2h-2.5zM338 184h2.5v2h-2.5zM108 186h2.5v2.5h-2.5zM112.5 186h44.5v2.5h-44.5zM230.5 186h2.5v2.5h-2.5zM279.5 186h4.5v2.5h-4.5zM291.5 186h2.5v2.5h-2.5zM112.5 188.5h44.5v2.5h-44.5zM291.5 188.5h2.5v2.5h-2.5zM117.5 191h24.5v2.5h-24.5zM144.5 191h17v2.5h-17zM490 191h2v2.5h-2zM117.5 193.5h24.5v2.5h-24.5zM144.5 193.5h17v2.5h-17zM365 193.5h2.5v2.5h-2.5zM127.5 196h39v2.5h-39zM326 196h2.5v2.5h-2.5zM338 196h2.5v2.5h-2.5zM448.5 196h2.5v2.5h-2.5zM127.5 198.5h29.5v2.5h-29.5zM161.5 198.5h5v2.5h-5zM326 198.5h2.5v2.5h-2.5zM338 198.5h2.5v2.5h-2.5zM117.5 201h2.5v2.5h-2.5zM132.5 201h26.5v2.5h-26.5zM161.5 201h10v2.5h-10zM326 201h7v2.5h-7zM392 201h2.5v2.5h-2.5zM117.5 203.5h5v2.5h-5zM127.5 203.5h44v2.5h-44zM272 203.5h2.5v2.5h-2.5zM328.5 203.5h9.5v2.5h-9.5zM392 203.5h2.5v2.5h-2.5zM127.5 206h5v2.5h-5zM142 206h29.5v2.5h-29.5zM331 206h7v2.5h-7zM380 206h2v2.5h-2zM392 206h2.5v2.5h-2.5zM142 208.5h15v2h-15zM159 208.5h12.5v2h-12.5zM186 208.5h2.5v2h-2.5zM333 208.5h2.5v2h-2.5zM382 208.5h2.5v2h-2.5zM152 210.5h5v2.5h-5zM159 210.5h17.5v2.5h-17.5zM282 210.5h4.5v2.5h-4.5zM402 210.5h2.5v2.5h-2.5zM152 213h24.5v2.5h-24.5zM284 213h5v2.5h-5zM429 213h4.5v2.5h-4.5zM468 213h5v2.5h-5zM157 215.5h2v2.5h-2zM161.5 215.5h20v2.5h-20zM377.5 215.5h2.5v2.5h-2.5zM431 215.5h2.5v2.5h-2.5zM468 215.5h5v2.5h-5zM157 218h14.5v2.5h-14.5zM174 218h10v2.5h-10zM284 218h2.5v2.5h-2.5zM377.5 218h2.5v2.5h-2.5zM406.5 218h2.5v2.5h-2.5zM465.5 218h10v2.5h-10zM161.5 220.5h24.5v2.5h-24.5zM284 220.5h2.5v2.5h-2.5zM335.5 220.5h2.5v2.5h-2.5zM468 220.5h7.5v2.5h-7.5zM161.5 223h22.5v2.5h-22.5zM321 223h2.5v2.5h-2.5zM350.5 223h7v2.5h-7zM473 223h2.5v2.5h-2.5zM490 223h2v2.5h-2zM166.5 225.5h7.5v2.5h-7.5zM176.5 225.5h9.5v2.5h-9.5zM353 225.5h7v2.5h-7zM404.5 225.5h2v2.5h-2zM487.5 225.5h4.5v2.5h-4.5zM166.5 228h17.5v2.5h-17.5zM188.5 228h2.5v2.5h-2.5zM328.5 228h2.5v2.5h-2.5zM355 228h2.5v2.5h-2.5zM443.5 228h5v2.5h-5zM487.5 228h4.5v2.5h-4.5zM0 230.5h5v2.5h-5zM157 230.5h4.5v2.5h-4.5zM171.5 230.5h12.5v2.5h-12.5zM223 230.5h2.5v2.5h-2.5zM326 230.5h5v2.5h-5zM443.5 230.5h5v2.5h-5zM490 230.5h2v2.5h-2zM0 233h5v2h-5zM125 233h2.5v2h-2.5zM154.5 233h7v2h-7zM171.5 233h14.5v2h-14.5zM326 233h5v2h-5zM446 233h2.5v2h-2.5zM453.5 233h2v2h-2zM0 235h2.5v2.5h-2.5zM66 235h7.5v2.5h-7.5zM171.5 235h5v2.5h-5zM179 235h12v2.5h-12zM196 235h7.5v2.5h-7.5zM0 237.5h2.5v2.5h-2.5zM149.5 237.5h2.5v2.5h-2.5zM171.5 237.5h19.5v2.5h-19.5zM198.5 237.5h2.5v2.5h-2.5zM375 237.5h2.5v2.5h-2.5zM485 237.5h2.5v2.5h-2.5zM0 240h10v2.5h-10zM149.5 240h2.5v2.5h-2.5zM171.5 240h14.5v2.5h-14.5zM188.5 240h2.5v2.5h-2.5zM0 242.5h10v2.5h-10zM171.5 242.5h12.5v2.5h-12.5zM382 242.5h2.5v2.5h-2.5zM465.5 242.5h5v2.5h-5zM0 245h10v2.5h-10zM171.5 245h10v2.5h-10zM301.5 245h2.5v2.5h-2.5zM318.5 245h2.5v2.5h-2.5zM380 245h7v2.5h-7zM468 245h2.5v2.5h-2.5zM2.5 247.5h7.5v2.5h-7.5zM174 247.5h14.5v2.5h-14.5zM301.5 247.5h2.5v2.5h-2.5zM487.5 247.5h2.5v2.5h-2.5zM2.5 250h12v2.5h-12zM171.5 250h19.5v2.5h-19.5zM193.5 250h2.5v2.5h-2.5zM228 250h2.5v2.5h-2.5zM485 250h7v2.5h-7zM0 252.5h14.5v2.5h-14.5zM171.5 252.5h24.5v2.5h-24.5zM487.5 252.5h4.5v2.5h-4.5zM0 255h19.5v2h-19.5zM95.5 255h5v2h-5zM171.5 255h29.5v2h-29.5zM304 255h2v2h-2zM338 255h2.5v2h-2.5zM375 255h5v2h-5zM0 257h2.5v2.5h-2.5zM7.5 257h9.5v2.5h-9.5zM29.5 257h5v2.5h-5zM98 257h2.5v2.5h-2.5zM171.5 257h29.5v2.5h-29.5zM465.5 257h5v2.5h-5zM0 259.5h29.5v2.5h-29.5zM100.5 259.5h2.5v2.5h-2.5zM176.5 259.5h34v2.5h-34zM326 259.5h2.5v2.5h-2.5zM357.5 259.5h5v2.5h-5zM436 259.5h5v2.5h-5zM463 259.5h5v2.5h-5zM0 262h29.5v2.5h-29.5zM63.5 262h2.5v2.5h-2.5zM176.5 262h34v2.5h-34zM326 262h5v2.5h-5zM357.5 262h5v2.5h-5zM436 262h5v2.5h-5zM490 262h2v2.5h-2zM0 264.5h2.5v2.5h-2.5zM7.5 264.5h12v2.5h-12zM22 264.5h12.5v2.5h-12.5zM61.5 264.5h4.5v2.5h-4.5zM176.5 264.5h7.5v2.5h-7.5zM186 264.5h34.5v2.5h-34.5zM357.5 264.5h2.5v2.5h-2.5zM487.5 264.5h4.5v2.5h-4.5zM0 267h5v2.5h-5zM7.5 267h24.5v2.5h-24.5zM61.5 267h2v2.5h-2zM179 267h41.5v2.5h-41.5zM394.5 267h5v2.5h-5zM487.5 267h2.5v2.5h-2.5zM0 269.5h5v2.5h-5zM7.5 269.5h4.5v2.5h-4.5zM32 269.5h12v2.5h-12zM176.5 269.5h49v2.5h-49zM331 269.5h2v2.5h-2zM387 269.5h2.5v2.5h-2.5zM392 269.5h7.5v2.5h-7.5zM406.5 269.5h2.5v2.5h-2.5zM451 269.5h2.5v2.5h-2.5zM0 272h2.5v2.5h-2.5zM17 272h2.5v2.5h-2.5zM29.5 272h14.5v2.5h-14.5zM78.5 272h2.5v2.5h-2.5zM174 272h32v2.5h-32zM208.5 272h17v2.5h-17zM331 272h2v2.5h-2zM406.5 272h2.5v2.5h-2.5zM419 272h2.5v2.5h-2.5zM0 274.5h2.5v2.5h-2.5zM14.5 274.5h10v2.5h-10zM32 274.5h12v2.5h-12zM181.5 274.5h44v2.5h-44zM245 274.5h2.5v2.5h-2.5zM372.5 274.5h2.5v2.5h-2.5zM416.5 274.5h2.5v2.5h-2.5zM0 277h5v2.5h-5zM10 277h12v2.5h-12zM32 277h12v2.5h-12zM181.5 277h39v2.5h-39zM375 277h2.5v2.5h-2.5zM392 277h2.5v2.5h-2.5zM429 277h2v2.5h-2zM0 279.5h5v2.5h-5zM7.5 279.5h12v2.5h-12zM32 279.5h12v2.5h-12zM186 279.5h29.5v2.5h-29.5zM223 279.5h5v2.5h-5zM233 279.5h12v2.5h-12zM326 279.5h5v2.5h-5zM375 279.5h2.5v2.5h-2.5zM392 279.5h2.5v2.5h-2.5zM0 282h17v2h-17zM34.5 282h9.5v2h-9.5zM110.5 282h2v2h-2zM186 282h29.5v2h-29.5zM220.5 282h24.5v2h-24.5zM326 282h5v2h-5zM0 284h14.5v2.5h-14.5zM24.5 284h12.5v2.5h-12.5zM41.5 284h2.5v2.5h-2.5zM86 284h2v2.5h-2zM186 284h29.5v2.5h-29.5zM220.5 284h24.5v2.5h-24.5zM247.5 284h2.5v2.5h-2.5zM269.5 284h5v2.5h-5zM0 286.5h17v2.5h-17zM27 286.5h10v2.5h-10zM41.5 286.5h2.5v2.5h-2.5zM181.5 286.5h2.5v2.5h-2.5zM186 286.5h59v2.5h-59zM247.5 286.5h2.5v2.5h-2.5zM269.5 286.5h5v2.5h-5zM0 289h10v2.5h-10zM12 289h7.5v2.5h-7.5zM34.5 289h2.5v2.5h-2.5zM191 289h64v2.5h-64zM257 289h2.5v2.5h-2.5zM269.5 289h2.5v2.5h-2.5zM296.5 289h2.5v2.5h-2.5zM392 289h7.5v2.5h-7.5zM463 289h2.5v2.5h-2.5zM0 291.5h7.5v2.5h-7.5zM12 291.5h7.5v2.5h-7.5zM191 291.5h68.5v2.5h-68.5zM294 291.5h2.5v2.5h-2.5zM382 291.5h2.5v2.5h-2.5zM394.5 291.5h5v2.5h-5zM0 294h5v2.5h-5zM7.5 294h7v2.5h-7zM196 294h19.5v2.5h-19.5zM225.5 294h41.5v2.5h-41.5zM291.5 294h2.5v2.5h-2.5zM321 294h2.5v2.5h-2.5zM382 294h5v2.5h-5zM429 294h4.5v2.5h-4.5zM5 296.5h9.5v2.5h-9.5zM196 296.5h22v2.5h-22zM225.5 296.5h9.5v2.5h-9.5zM237.5 296.5h32v2.5h-32zM289 296.5h2.5v2.5h-2.5zM357.5 296.5h2.5v2.5h-2.5zM382 296.5h5v2.5h-5zM429 296.5h4.5v2.5h-4.5zM0 299h14.5v2.5h-14.5zM196 299h10v2.5h-10zM240 299h17v2.5h-17zM259.5 299h20v2.5h-20zM306 299h2.5v2.5h-2.5zM0 301.5h14.5v2.5h-14.5zM37 301.5h2v2.5h-2zM196 301.5h10v2.5h-10zM240 301.5h39.5v2.5h-39.5zM306 301.5h7.5v2.5h-7.5zM387 301.5h2.5v2.5h-2.5zM0 304h10v2h-10zM37 304h2v2h-2zM240 304h54v2h-54zM311 304h5v2h-5zM0 306h10v2.5h-10zM115 306h2.5v2.5h-2.5zM240 306h22v2.5h-22zM269.5 306h24.5v2.5h-24.5zM350.5 306h2.5v2.5h-2.5zM0 308.5h19.5v2.5h-19.5zM115 308.5h2.5v2.5h-2.5zM250 308.5h12v2.5h-12zM269.5 308.5h29.5v2.5h-29.5zM348 308.5h5v2.5h-5zM0 311h19.5v2.5h-19.5zM250 311h12v2.5h-12zM267 311h32v2.5h-32zM348 311h5v2.5h-5zM0 313.5h24.5v2.5h-24.5zM27 313.5h12v2.5h-12zM100.5 313.5h2.5v2.5h-2.5zM269.5 313.5h54v2.5h-54zM350.5 313.5h2.5v2.5h-2.5zM0 316h37v2.5h-37zM269.5 316h54v2.5h-54zM490 316h2v2.5h-2zM5 318.5h32v2.5h-32zM44 318.5h15v2.5h-15zM201 318.5h2.5v2.5h-2.5zM252.5 318.5h2.5v2.5h-2.5zM279.5 318.5h58.5v2.5h-58.5zM490 318.5h2v2.5h-2zM0 321h14.5v2.5h-14.5zM17 321h42v2.5h-42zM112.5 321h2.5v2.5h-2.5zM201 321h2.5v2.5h-2.5zM279.5 321h58.5v2.5h-58.5zM441 321h2.5v2.5h-2.5zM490 321h2v2.5h-2zM0 323.5h59v2.5h-59zM279.5 323.5h71v2.5h-71zM355 323.5h7.5v2.5h-7.5zM0 326h59v2.5h-59zM279.5 326h7v2.5h-7zM291.5 326h59v2.5h-59zM353 326h9.5v2.5h-9.5zM0 328.5h54v2.5h-54zM284 328.5h2.5v2.5h-2.5zM291.5 328.5h86v2.5h-86zM0 331h54v2h-54zM284 331h2.5v2h-2.5zM291.5 331h5v2h-5zM299 331h78.5v2h-78.5zM433.5 331h2.5v2h-2.5zM0 333h7.5v2.5h-7.5zM10 333h39v2.5h-39zM147 333h2.5v2.5h-2.5zM328.5 333h58.5v2.5h-58.5zM473 333h2.5v2.5h-2.5zM10 335.5h17v2.5h-17zM37 335.5h12v2.5h-12zM147 335.5h2.5v2.5h-2.5zM213 335.5h2.5v2.5h-2.5zM274.5 335.5h2.5v2.5h-2.5zM328.5 335.5h22v2.5h-22zM353 335.5h34v2.5h-34zM7.5 338h19.5v2.5h-19.5zM39 338h10v2.5h-10zM86 338h2v2.5h-2zM135 338h2v2.5h-2zM272 338h5v2.5h-5zM328.5 338h22v2.5h-22zM353 338h53.5v2.5h-53.5zM411.5 338h10v2.5h-10zM5 340.5h22v2.5h-22zM41.5 340.5h7.5v2.5h-7.5zM328.5 340.5h49v2.5h-49zM380 340.5h26.5v2.5h-26.5zM409 340.5h12.5v2.5h-12.5zM0 343h2.5v2.5h-2.5zM5 343h24.5v2.5h-24.5zM32 343h17v2.5h-17zM103 343h5v2.5h-5zM286.5 343h2.5v2.5h-2.5zM294 343h2.5v2.5h-2.5zM328.5 343h83v2.5h-83zM414 343h12.5v2.5h-12.5zM431 343h5v2.5h-5zM443.5 343h5v2.5h-5zM0 345.5h2.5v2.5h-2.5zM10 345.5h19.5v2.5h-19.5zM32 345.5h17v2.5h-17zM103 345.5h5v2.5h-5zM223 345.5h2.5v2.5h-2.5zM286.5 345.5h2.5v2.5h-2.5zM331 345.5h49v2.5h-49zM382 345.5h54v2.5h-54zM441 345.5h5v2.5h-5zM0 348h2.5v2.5h-2.5zM7.5 348h14.5v2.5h-14.5zM34.5 348h14.5v2.5h-14.5zM103 348h2.5v2.5h-2.5zM333 348h7.5v2.5h-7.5zM343 348h112.5v2.5h-112.5zM2.5 350.5h19.5v2.5h-19.5zM37 350.5h9.5v2.5h-9.5zM73.5 350.5h2.5v2.5h-2.5zM103 350.5h5v2.5h-5zM245 350.5h2.5v2.5h-2.5zM252.5 350.5h2.5v2.5h-2.5zM333 350.5h108v2.5h-108zM443.5 350.5h7.5v2.5h-7.5zM453.5 350.5h2v2.5h-2zM460.5 350.5h2.5v2.5h-2.5zM2.5 353h22v2h-22zM32 353h14.5v2h-14.5zM71 353h5v2h-5zM103 353h5v2h-5zM343 353h98v2h-98zM446 353h5v2h-5zM453.5 353h12v2h-12zM0 355h24.5v2.5h-24.5zM29.5 355h17v2.5h-17zM71 355h5v2.5h-5zM88 355h2.5v2.5h-2.5zM103 355h5v2.5h-5zM343 355h27v2.5h-27zM372.5 355h93v2.5h-93zM0 357.5h46.5v2.5h-46.5zM88 357.5h2.5v2.5h-2.5zM103 357.5h2.5v2.5h-2.5zM348 357.5h36.5v2.5h-36.5zM387 357.5h78.5v2.5h-78.5zM0 360h49v2.5h-49zM308.5 360h2.5v2.5h-2.5zM328.5 360h2.5v2.5h-2.5zM340.5 360h2.5v2.5h-2.5zM348 360h36.5v2.5h-36.5zM389.5 360h76v2.5h-76zM2.5 362.5h22v2.5h-22zM27 362.5h7.5v2.5h-7.5zM37 362.5h7v2.5h-7zM348 362.5h5v2.5h-5zM392 362.5h19.5v2.5h-19.5zM416.5 362.5h59v2.5h-59zM0 365h34.5v2.5h-34.5zM37 365h7v2.5h-7zM291.5 365h2.5v2.5h-2.5zM348 365h5v2.5h-5zM389.5 365h22v2.5h-22zM416.5 365h14.5v2.5h-14.5zM433.5 365h22v2.5h-22zM458 365h17.5v2.5h-17.5zM0 367.5h14.5v2.5h-14.5zM17 367.5h7.5v2.5h-7.5zM27 367.5h5v2.5h-5zM39 367.5h2.5v2.5h-2.5zM103 367.5h9.5v2.5h-9.5zM291.5 367.5h5v2.5h-5zM348 367.5h5v2.5h-5zM436 367.5h39.5v2.5h-39.5zM0 370h24.5v2.5h-24.5zM37 370h7v2.5h-7zM63.5 370h2.5v2.5h-2.5zM103 370h9.5v2.5h-9.5zM272 370h5v2.5h-5zM291.5 370h2.5v2.5h-2.5zM348 370h5v2.5h-5zM436 370h39.5v2.5h-39.5zM0 372.5h27v2.5h-27zM29.5 372.5h9.5v2.5h-9.5zM63.5 372.5h2.5v2.5h-2.5zM308.5 372.5h2.5v2.5h-2.5zM441 372.5h49v2.5h-49zM0 375h39v2.5h-39zM441 375h51v2.5h-51zM0 377.5h22v2.5h-22zM27 377.5h12v2.5h-12zM135 377.5h4.5v2.5h-4.5zM259.5 377.5h7.5v2.5h-7.5zM318.5 377.5h2.5v2.5h-2.5zM446 377.5h46v2.5h-46zM0 380h22v2h-22zM27 380h12v2h-12zM259.5 380h7.5v2h-7.5zM306 380h2.5v2h-2.5zM382 380h5v2h-5zM446 380h46v2h-46zM0 382h19.5v2.5h-19.5zM24.5 382h19.5v2.5h-19.5zM264.5 382h5v2.5h-5zM306 382h2.5v2.5h-2.5zM382 382h5v2.5h-5zM451 382h9.5v2.5h-9.5zM463 382h29v2.5h-29zM5 384.5h12v2.5h-12zM24.5 384.5h14.5v2.5h-14.5zM41.5 384.5h2.5v2.5h-2.5zM264.5 384.5h5v2.5h-5zM348 384.5h2.5v2.5h-2.5zM451 384.5h7v2.5h-7zM463 384.5h29v2.5h-29zM5 387h12v2.5h-12zM24.5 387h12.5v2.5h-12.5zM44 387h5v2.5h-5zM108 387h2.5v2.5h-2.5zM159 387h2.5v2.5h-2.5zM455.5 387h2.5v2.5h-2.5zM463 387h29v2.5h-29zM5 389.5h9.5v2.5h-9.5zM17 389.5h20v2.5h-20zM44 389.5h5v2.5h-5zM159 389.5h2.5v2.5h-2.5zM318.5 389.5h2.5v2.5h-2.5zM455.5 389.5h2.5v2.5h-2.5zM460.5 389.5h31.5v2.5h-31.5zM7.5 392h7v2.5h-7zM19.5 392h22v2.5h-22zM46.5 392h2.5v2.5h-2.5zM460.5 392h12.5v2.5h-12.5zM475.5 392h16.5v2.5h-16.5zM0 394.5h14.5v2.5h-14.5zM19.5 394.5h22v2.5h-22zM460.5 394.5h31.5v2.5h-31.5zM0 397h14.5v2.5h-14.5zM19.5 397h24.5v2.5h-24.5zM49 397h5v2.5h-5zM0 399.5h14.5v2.5h-14.5zM17 399.5h7.5v2.5h-7.5zM27 399.5h17v2.5h-17zM46.5 399.5h7.5v2.5h-7.5zM88 399.5h5v2.5h-5zM10 402h2v2.5h-2zM27 402h10v2.5h-10zM39 402h15v2.5h-15zM103 402h5v2.5h-5zM10 404.5h2v2h-2zM27 404.5h10v2h-10zM41.5 404.5h12.5v2h-12.5zM24.5 406.5h12.5v2.5h-12.5zM44 406.5h10v2.5h-10zM24.5 409h2.5v2.5h-2.5zM29.5 409h9.5v2.5h-9.5zM46.5 409h7.5v2.5h-7.5zM465.5 409h2.5v2.5h-2.5zM487.5 409h4.5v2.5h-4.5zM22 411.5h22v2.5h-22zM49 411.5h5v2.5h-5zM463 411.5h5v2.5h-5zM14.5 414h29.5v2.5h-29.5zM46.5 414h7.5v2.5h-7.5zM463 414h2.5v2.5h-2.5zM19.5 416.5h34.5v2.5h-34.5zM19.5 419h2.5v2.5h-2.5zM27 419h10v2.5h-10zM41.5 419h12.5v2.5h-12.5zM29.5 421.5h24.5v2.5h-24.5zM482.5 421.5h5v2.5h-5zM29.5 424h14.5v2.5h-14.5zM46.5 424h7.5v2.5h-7.5zM59 424h2.5v2.5h-2.5zM482.5 424h7.5v2.5h-7.5zM29.5 426.5h9.5v2.5h-9.5zM49 426.5h5v2.5h-5zM59 426.5h2.5v2.5h-2.5zM482.5 426.5h5v2.5h-5zM7.5 429h2.5v2h-2.5zM29.5 429h12v2h-12zM51.5 429h2.5v2h-2.5zM29.5 431h29.5v2.5h-29.5zM29.5 433.5h5v2.5h-5zM37 433.5h9.5v2.5h-9.5zM49 433.5h10v2.5h-10zM88 433.5h5v2.5h-5z"/>
<path fill="#33ee33" d="M108 14.5h4.5v2.5h-4.5zM108 17h4.5v2.5h-4.5zM98 19.5h14.5v2.5h-14.5zM98 22h14.5v2.5h-14.5zM98 24.5h14.5v2.5h-14.5zM132.5 24.5h9.5v2.5h-9.5zM98 27h14.5v2.5h-14.5zM132.5 27h9.5v2.5h-9.5zM98 29.5h54v2.5h-54zM98 32h54v2.5h-54zM103 34.5h19.5v2.5h-19.5zM137 34.5h15v2.5h-15zM103 37h19.5v2h-19.5zM137 37h15v2h-15zM103 39h19.5v2.5h-19.5zM137 39h10v2.5h-10zM103 41.5h19.5v2.5h-19.5zM137 41.5h10v2.5h-10zM103 44h14.5v2.5h-14.5zM122.5 44h24.5v2.5h-24.5zM103 46.5h14.5v2.5h-14.5zM122.5 46.5h24.5v2.5h-24.5zM122.5 49h14.5v2.5h-14.5zM122.5 51.5h14.5v2.5h-14.5zM108 54h9.5v2.5h-9.5zM108 56.5h9.5v2.5h-9.5zM112.5 117.5h10v2.5h-10zM112.5 120h10v2.5h-10zM117.5 122.5h10v2.5h-10zM117.5 125h10v2.5h-10zM132.5 137h4.5v2.5h-4.5zM132.5 139.5h4.5v2.5h-4.5zM132.5 142h4.5v2.5h-4.5zM132.5 144.5h4.5v2.5h-4.5zM166.5 161.5h15v2.5h-15zM166.5 164h15v2.5h-15zM176.5 166.5h5v2.5h-5zM176.5 169h5v2.5h-5zM181.5 171.5h19.5v2.5h-19.5zM181.5 174h19.5v2.5h-19.5zM181.5 176.5h14.5v2.5h-14.5zM181.5 179h12v2.5h-12zM181.5 181.5h19.5v2.5h-19.5zM210.5 181.5h15v2.5h-15zM181.5 184h19.5v2h-19.5zM210.5 184h15v2h-15zM186 186h2.5v2.5h-2.5zM193.5 186h7.5v2.5h-7.5zM215.5 186h15v2.5h-15zM186 188.5h5v2.5h-5zM193.5 188.5h7.5v2.5h-7.5zM215.5 188.5h15v2.5h-15zM191 191h34.5v2.5h-34.5zM233 191h2v2.5h-2zM240 191h5v2.5h-5zM191 193.5h32v2.5h-32zM230.5 193.5h4.5v2.5h-4.5zM240 193.5h5v2.5h-5zM206 196h19.5v2.5h-19.5zM206 198.5h9.5v2.5h-9.5zM218 198.5h7.5v2.5h-7.5zM210.5 201h15v2.5h-15zM210.5 203.5h15v2.5h-15zM210.5 206h15v2.5h-15zM255 206h9.5v2.5h-9.5zM210.5 208.5h15v2h-15zM255 208.5h9.5v2h-9.5zM215.5 210.5h19.5v2.5h-19.5zM255 210.5h14.5v2.5h-14.5zM215.5 213h19.5v2.5h-19.5zM255 213h14.5v2.5h-14.5zM220.5 215.5h12.5v2.5h-12.5zM237.5 215.5h7.5v2.5h-7.5zM255 215.5h14.5v2.5h-14.5zM220.5 218h24.5v2.5h-24.5zM255 218h14.5v2.5h-14.5zM220.5 220.5h36.5v2.5h-36.5zM259.5 220.5h5v2.5h-5zM220.5 223h39v2.5h-39zM225.5 225.5h5v2.5h-5zM233 225.5h12v2.5h-12zM225.5 228h19.5v2.5h-19.5zM225.5 230.5h14.5v2.5h-14.5zM225.5 233h14.5v2h-14.5zM230.5 235h9.5v2.5h-9.5zM230.5 237.5h9.5v2.5h-9.5zM230.5 240h19.5v2.5h-19.5zM230.5 242.5h19.5v2.5h-19.5zM235 245h29.5v2.5h-29.5zM235 247.5h29.5v2.5h-29.5zM235 250h20v2.5h-20zM264.5 250h5v2.5h-5zM235 252.5h22v2.5h-22zM264.5 252.5h5v2.5h-5zM240 255h19.5v2h-19.5zM264.5 255h5v2h-5zM240 257h10v2.5h-10zM257 257h2.5v2.5h-2.5zM264.5 257h5v2.5h-5zM245 259.5h24.5v2.5h-24.5zM245 262h24.5v2.5h-24.5z"/>
<path fill="#00b090" d="M112.5 19.5h20v2.5h-20zM112.5 22h20v2.5h-20zM112.5 24.5h20v2.5h-20zM112.5 27h20v2.5h-20zM122.5 34.5h14.5v2.5h-14.5zM122.5 37h14.5v2h-14.5zM122.5 39h14.5v2.5h-14.5zM122.5 41.5h14.5v2.5h-14.5zM117.5 44h5v2.5h-5zM117.5 46.5h5v2.5h-5zM108 49h14.5v2.5h-14.5zM108 51.5h14.5v2.5h-14.5zM196 176.5h10v2.5h-10zM196 179h10v2.5h-10zM201 181.5h9.5v2.5h-9.5zM201 184h9.5v2h-9.5zM201 186h14.5v2.5h-14.5zM201 188.5h14.5v2.5h-14.5zM235 191h5v2.5h-5zM235 193.5h5v2.5h-5zM225.5 196h24.5v2.5h-24.5zM225.5 198.5h24.5v2.5h-24.5zM225.5 201h19.5v2.5h-19.5zM225.5 203.5h19.5v2.5h-19.5zM225.5 206h19.5v2.5h-19.5zM225.5 208.5h19.5v2h-19.5zM235 210.5h10v2.5h-10zM235 213h10v2.5h-10zM255 250h9.5v2.5h-9.5zM257 252.5h7.5v2.5h-7.5zM259.5 255h5v2h-5zM250 257h7v2.5h-7zM259.5 257h5v2.5h-5z"/>
<path fill="#ff4400" d="M19.5 34.5h5v2.5h-5zM61.5 51.5h2v2.5h-2zM61.5 54h2v2.5h-2zM71 54h2.5v2.5h-2.5zM0 56.5h5v2.5h-5zM73.5 56.5h2.5v2.5h-2.5zM0 59h2.5v2.5h-2.5zM12 59h2.5v2.5h-2.5zM0 61.5h2.5v2h-2.5zM12 61.5h2.5v2h-2.5zM14.5 63.5h2.5v2.5h-2.5zM14.5 66h5v2.5h-5zM10 68.5h2v2.5h-2zM14.5 68.5h10v2.5h-10zM0 71h2.5v2.5h-2.5zM10 71h14.5v2.5h-14.5zM46.5 71h2.5v2.5h-2.5zM10 73.5h14.5v2.5h-14.5zM44 73.5h5v2.5h-5zM10 76h14.5v2.5h-14.5zM44 76h5v2.5h-5zM10 78.5h17v2.5h-17zM37 78.5h17v2.5h-17zM10 81h19.5v2.5h-19.5zM34.5 81h17v2.5h-17zM0 83.5h2.5v2.5h-2.5zM10 83.5h34v2.5h-34zM46.5 83.5h5v2.5h-5zM10 86h31.5v2h-31.5zM46.5 86h7.5v2h-7.5zM10 88h29v2.5h-29zM46.5 88h12.5v2.5h-12.5zM10 90.5h31.5v2.5h-31.5zM46.5 90.5h12.5v2.5h-12.5zM0 93h44v2.5h-44zM46.5 93h2.5v2.5h-2.5zM51.5 93h10v2.5h-10zM0 95.5h10v2.5h-10zM14.5 95.5h34.5v2.5h-34.5zM54 95.5h7.5v2.5h-7.5zM0 98h10v2.5h-10zM12 98h39.5v2.5h-39.5zM56.5 98h5v2.5h-5zM0 100.5h63.5v2.5h-63.5zM0 103h19.5v2.5h-19.5zM22 103h10v2.5h-10zM34.5 103h34v2.5h-34zM0 105.5h68.5v2.5h-68.5zM0 108h68.5v2.5h-68.5zM0 110.5h32v2h-32zM34.5 110.5h27v2h-27zM63.5 110.5h5v2h-5zM0 112.5h54v2.5h-54zM59 112.5h4.5v2.5h-4.5zM66 112.5h12.5v2.5h-12.5zM0 115h24.5v2.5h-24.5zM27 115h27v2.5h-27zM59 115h4.5v2.5h-4.5zM66 115h12.5v2.5h-12.5zM0 117.5h34.5v2.5h-34.5zM59 117.5h4.5v2.5h-4.5zM66 117.5h17.5v2.5h-17.5zM2.5 120h32v2.5h-32zM59 120h9.5v2.5h-9.5zM71 120h12.5v2.5h-12.5zM0 122.5h22v2.5h-22zM27 122.5h7.5v2.5h-7.5zM68.5 122.5h19.5v2.5h-19.5zM0 125h19.5v2.5h-19.5zM29.5 125h5v2.5h-5zM68.5 125h12.5v2.5h-12.5zM86 125h2v2.5h-2zM0 127.5h17v2.5h-17zM24.5 127.5h5v2.5h-5zM63.5 127.5h15v2.5h-15zM86 127.5h2v2.5h-2zM0 130h17v2.5h-17zM24.5 130h5v2.5h-5zM66 130h12.5v2.5h-12.5zM83.5 130h4.5v2.5h-4.5zM0 132.5h34.5v2.5h-34.5zM63.5 132.5h5v2.5h-5zM71 132.5h7.5v2.5h-7.5zM81 132.5h12v2.5h-12zM0 135h34.5v2h-34.5zM63.5 135h15v2h-15zM81 135h5v2h-5zM90.5 135h2.5v2h-2.5zM0 137h7.5v2.5h-7.5zM12 137h22.5v2.5h-22.5zM63.5 137h20v2.5h-20zM90.5 137h2.5v2.5h-2.5zM0 139.5h10v2.5h-10zM12 139.5h22.5v2.5h-22.5zM63.5 139.5h29.5v2.5h-29.5zM0 142h34.5v2.5h-34.5zM63.5 142h17.5v2.5h-17.5zM88 142h7.5v2.5h-7.5zM0 144.5h34.5v2.5h-34.5zM63.5 144.5h32v2.5h-32zM0 147h34.5v2.5h-34.5zM37 147h2v2.5h-2zM63.5 147h34.5v2.5h-34.5zM0 149.5h34.5v2.5h-34.5zM63.5 149.5h12.5v2.5h-12.5zM81 149.5h17v2.5h-17zM0 152h17v2.5h-17zM19.5 152h5v2.5h-5zM63.5 152h12.5v2.5h-12.5zM78.5 152h24.5v2.5h-24.5zM0 154.5h24.5v2.5h-24.5zM34.5 154.5h7v2.5h-7zM63.5 154.5h39.5v2.5h-39.5zM0 157h24.5v2h-24.5zM49 157h5v2h-5zM63.5 157h15v2h-15zM86 157h17v2h-17zM0 159h22v2.5h-22zM49 159h5v2.5h-5zM63.5 159h17.5v2.5h-17.5zM86 159h17v2.5h-17zM0 161.5h12v2.5h-12zM17 161.5h5v2.5h-5zM27 161.5h76v2.5h-76zM0 164h12v2.5h-12zM17 164h86v2.5h-86zM0 166.5h22v2.5h-22zM24.5 166.5h5v2.5h-5zM34.5 166.5h4.5v2.5h-4.5zM46.5 166.5h22v2.5h-22zM71 166.5h17v2.5h-17zM90.5 166.5h12.5v2.5h-12.5zM0 169h22v2.5h-22zM24.5 169h12.5v2.5h-12.5zM46.5 169h22v2.5h-22zM71 169h32v2.5h-32zM0 171.5h37v2.5h-37zM46.5 171.5h2.5v2.5h-2.5zM59 171.5h24.5v2.5h-24.5zM86 171.5h17v2.5h-17zM0 174h41.5v2.5h-41.5zM59 174h24.5v2.5h-24.5zM88 174h15v2.5h-15zM0 176.5h32v2.5h-32zM59 176.5h24.5v2.5h-24.5zM88 176.5h15v2.5h-15zM0 179h32v2.5h-32zM46.5 179h2.5v2.5h-2.5zM59 179h44v2.5h-44zM0 181.5h22v2.5h-22zM24.5 181.5h24.5v2.5h-24.5zM59 181.5h39v2.5h-39zM103 181.5h5v2.5h-5zM0 184h22v2h-22zM24.5 184h24.5v2h-24.5zM59 184h46.5v2h-46.5zM0 186h56.5v2.5h-56.5zM68.5 186h39.5v2.5h-39.5zM110.5 186h2v2.5h-2zM0 188.5h56.5v2.5h-56.5zM63.5 188.5h10v2.5h-10zM76 188.5h17v2.5h-17zM98 188.5h14.5v2.5h-14.5zM0 191h56.5v2.5h-56.5zM59 191h14.5v2.5h-14.5zM78.5 191h14.5v2.5h-14.5zM95.5 191h22v2.5h-22zM0 193.5h46.5v2.5h-46.5zM49 193.5h22v2.5h-22zM73.5 193.5h19.5v2.5h-19.5zM95.5 193.5h22v2.5h-22zM0 196h39v2.5h-39zM41.5 196h86v2.5h-86zM0 198.5h39v2.5h-39zM44 198.5h22v2.5h-22zM68.5 198.5h19.5v2.5h-19.5zM90.5 198.5h37v2.5h-37zM157 198.5h4.5v2.5h-4.5zM5 201h32v2.5h-32zM46.5 201h17v2.5h-17zM68.5 201h49v2.5h-49zM120 201h12.5v2.5h-12.5zM159 201h2.5v2.5h-2.5zM2.5 203.5h36.5v2.5h-36.5zM46.5 203.5h12.5v2.5h-12.5zM71 203.5h5v2.5h-5zM78.5 203.5h19.5v2.5h-19.5zM103 203.5h14.5v2.5h-14.5zM122.5 203.5h5v2.5h-5zM0 206h51.5v2.5h-51.5zM56.5 206h2.5v2.5h-2.5zM68.5 206h59v2.5h-59zM132.5 206h9.5v2.5h-9.5zM0 208.5h46.5v2h-46.5zM56.5 208.5h5v2h-5zM68.5 208.5h73.5v2h-73.5zM157 208.5h2v2h-2zM0 210.5h49v2.5h-49zM54 210.5h9.5v2.5h-9.5zM66 210.5h86v2.5h-86zM157 210.5h2v2.5h-2zM0 213h61.5v2.5h-61.5zM63.5 213h17.5v2.5h-17.5zM83.5 213h19.5v2.5h-19.5zM105.5 213h46.5v2.5h-46.5zM0 215.5h12v2.5h-12zM14.5 215.5h24.5v2.5h-24.5zM44 215.5h15v2.5h-15zM63.5 215.5h15v2.5h-15zM86 215.5h17v2.5h-17zM108 215.5h49v2.5h-49zM0 218h12v2.5h-12zM14.5 218h20v2.5h-20zM37 218h4.5v2.5h-4.5zM44 218h15v2.5h-15zM61.5 218h17v2.5h-17zM83.5 218h2.5v2.5h-2.5zM95.5 218h7.5v2.5h-7.5zM108 218h49v2.5h-49zM0 220.5h78.5v2.5h-78.5zM83.5 220.5h2.5v2.5h-2.5zM93 220.5h61.5v2.5h-61.5zM157 220.5h4.5v2.5h-4.5zM0 223h78.5v2.5h-78.5zM81 223h80.5v2.5h-80.5zM0 225.5h66v2.5h-66zM68.5 225.5h98v2.5h-98zM174 225.5h2.5v2.5h-2.5zM2.5 228h27v2.5h-27zM32 228h31.5v2.5h-31.5zM68.5 228h98v2.5h-98zM184 228h2v2.5h-2zM5 230.5h152v2.5h-152zM161.5 230.5h10v2.5h-10zM184 230.5h2v2.5h-2zM5 233h120v2h-120zM127.5 233h27v2h-27zM161.5 233h10v2h-10zM2.5 235h63.5v2.5h-63.5zM73.5 235h39v2.5h-39zM115 235h56.5v2.5h-56.5zM176.5 235h2.5v2.5h-2.5zM2.5 237.5h147v2.5h-147zM152 237.5h19.5v2.5h-19.5zM10 240h51.5v2.5h-51.5zM63.5 240h86v2.5h-86zM152 240h19.5v2.5h-19.5zM10 242.5h161.5v2.5h-161.5zM10 245h107.5v2.5h-107.5zM132.5 245h39v2.5h-39zM0 247.5h2.5v2.5h-2.5zM10 247.5h107.5v2.5h-107.5zM132.5 247.5h39v2.5h-39zM0 250h2.5v2.5h-2.5zM14.5 250h93.5v2.5h-93.5zM142 250h29.5v2.5h-29.5zM14.5 252.5h64v2.5h-64zM83.5 252.5h24.5v2.5h-24.5zM142 252.5h29.5v2.5h-29.5zM19.5 255h76v2h-76zM100.5 255h7.5v2h-7.5zM147 255h24.5v2h-24.5zM2.5 257h5v2.5h-5zM17 257h12.5v2.5h-12.5zM34.5 257h63.5v2.5h-63.5zM100.5 257h7.5v2.5h-7.5zM147 257h24.5v2.5h-24.5zM29.5 259.5h71v2.5h-71zM103 259.5h5v2.5h-5zM142 259.5h7.5v2.5h-7.5zM152 259.5h24.5v2.5h-24.5zM29.5 262h34v2.5h-34zM66 262h42v2.5h-42zM152 262h24.5v2.5h-24.5zM2.5 264.5h5v2.5h-5zM19.5 264.5h2.5v2.5h-2.5zM34.5 264.5h27v2.5h-27zM66 264.5h42v2.5h-42zM112.5 264.5h5v2.5h-5zM152 264.5h24.5v2.5h-24.5zM5 267h2.5v2.5h-2.5zM32 267h29.5v2.5h-29.5zM63.5 267h44.5v2.5h-44.5zM152 267h27v2.5h-27zM5 269.5h2.5v2.5h-2.5zM12 269.5h20v2.5h-20zM44 269.5h66.5v2.5h-66.5zM132.5 269.5h4.5v2.5h-4.5zM157 269.5h19.5v2.5h-19.5zM2.5 272h14.5v2.5h-14.5zM19.5 272h10v2.5h-10zM44 272h34.5v2.5h-34.5zM81 272h27v2.5h-27zM135 272h2v2.5h-2zM157 272h17v2.5h-17zM206 272h2.5v2.5h-2.5zM2.5 274.5h12v2.5h-12zM24.5 274.5h7.5v2.5h-7.5zM44 274.5h64v2.5h-64zM115 274.5h2.5v2.5h-2.5zM166.5 274.5h15v2.5h-15zM5 277h5v2.5h-5zM22 277h10v2.5h-10zM44 277h29.5v2.5h-29.5zM76 277h32v2.5h-32zM115 277h2.5v2.5h-2.5zM166.5 277h15v2.5h-15zM5 279.5h2.5v2.5h-2.5zM19.5 279.5h12.5v2.5h-12.5zM44 279.5h68.5v2.5h-68.5zM171.5 279.5h14.5v2.5h-14.5zM17 282h17.5v2h-17.5zM44 282h66.5v2h-66.5zM127.5 282h2.5v2h-2.5zM171.5 282h14.5v2h-14.5zM14.5 284h10v2.5h-10zM37 284h4.5v2.5h-4.5zM44 284h37v2.5h-37zM83.5 284h2.5v2.5h-2.5zM88 284h24.5v2.5h-24.5zM171.5 284h7.5v2.5h-7.5zM181.5 284h4.5v2.5h-4.5zM17 286.5h10v2.5h-10zM37 286.5h4.5v2.5h-4.5zM44 286.5h68.5v2.5h-68.5zM147 286.5h2.5v2.5h-2.5zM171.5 286.5h10v2.5h-10zM184 286.5h2v2.5h-2zM10 289h2v2.5h-2zM19.5 289h15v2.5h-15zM37 289h75.5v2.5h-75.5zM142 289h5v2.5h-5zM166.5 289h24.5v2.5h-24.5zM255 289h2v2.5h-2zM7.5 291.5h4.5v2.5h-4.5zM19.5 291.5h93v2.5h-93zM144.5 291.5h2.5v2.5h-2.5zM152 291.5h7v2.5h-7zM166.5 291.5h24.5v2.5h-24.5zM5 294h2.5v2.5h-2.5zM14.5 294h98v2.5h-98zM149.5 294h9.5v2.5h-9.5zM166.5 294h29.5v2.5h-29.5zM215.5 294h10v2.5h-10zM267 294h2.5v2.5h-2.5zM0 296.5h5v2.5h-5zM14.5 296.5h98v2.5h-98zM139.5 296.5h5v2.5h-5zM166.5 296.5h29.5v2.5h-29.5zM218 296.5h7.5v2.5h-7.5zM14.5 299h103v2.5h-103zM139.5 299h7.5v2.5h-7.5zM161.5 299h34.5v2.5h-34.5zM206 299h34v2.5h-34zM14.5 301.5h22.5v2.5h-22.5zM39 301.5h78.5v2.5h-78.5zM127.5 301.5h2.5v2.5h-2.5zM139.5 301.5h7.5v2.5h-7.5zM161.5 301.5h34.5v2.5h-34.5zM206 301.5h34v2.5h-34zM10 304h27v2h-27zM39 304h83.5v2h-83.5zM157 304h83v2h-83zM10 306h68.5v2.5h-68.5zM83.5 306h31.5v2.5h-31.5zM117.5 306h5v2.5h-5zM157 306h27v2.5h-27zM186 306h54v2.5h-54zM19.5 308.5h95.5v2.5h-95.5zM117.5 308.5h5v2.5h-5zM157 308.5h93v2.5h-93zM19.5 311h103v2.5h-103zM157 311h93v2.5h-93zM24.5 313.5h2.5v2.5h-2.5zM39 313.5h12.5v2.5h-12.5zM54 313.5h46.5v2.5h-46.5zM103 313.5h19.5v2.5h-19.5zM144.5 313.5h5v2.5h-5zM152 313.5h117.5v2.5h-117.5zM37 316h12v2.5h-12zM54 316h73.5v2.5h-73.5zM147 316h122.5v2.5h-122.5zM0 318.5h5v2.5h-5zM37 318.5h7v2.5h-7zM59 318.5h73.5v2.5h-73.5zM152 318.5h49v2.5h-49zM203.5 318.5h49v2.5h-49zM255 318.5h24.5v2.5h-24.5zM14.5 321h2.5v2.5h-2.5zM59 321h53.5v2.5h-53.5zM115 321h17.5v2.5h-17.5zM152 321h49v2.5h-49zM203.5 321h2.5v2.5h-2.5zM208.5 321h71v2.5h-71zM59 323.5h39v2.5h-39zM103 323.5h159v2.5h-159zM264.5 323.5h15v2.5h-15zM350.5 323.5h2.5v2.5h-2.5zM59 326h36.5v2.5h-36.5zM100.5 326h179v2.5h-179zM286.5 326h5v2.5h-5zM350.5 326h2.5v2.5h-2.5zM54 328.5h134.5v2.5h-134.5zM191 328.5h93v2.5h-93zM286.5 328.5h5v2.5h-5zM54 331h230v2h-230zM286.5 331h5v2h-5zM7.5 333h2.5v2.5h-2.5zM51.5 333h95.5v2.5h-95.5zM149.5 333h179v2.5h-179zM0 335.5h10v2.5h-10zM27 335.5h10v2.5h-10zM49 335.5h98v2.5h-98zM149.5 335.5h63.5v2.5h-63.5zM215.5 335.5h59v2.5h-59zM277 335.5h51.5v2.5h-51.5zM350.5 335.5h2.5v2.5h-2.5zM0 338h7.5v2.5h-7.5zM27 338h12v2.5h-12zM49 338h37v2.5h-37zM88 338h20v2.5h-20zM112.5 338h22.5v2.5h-22.5zM137 338h10v2.5h-10zM176.5 338h2.5v2.5h-2.5zM181.5 338h90.5v2.5h-90.5zM277 338h51.5v2.5h-51.5zM350.5 338h2.5v2.5h-2.5zM0 340.5h5v2.5h-5zM27 340.5h14.5v2.5h-14.5zM49 340.5h61.5v2.5h-61.5zM112.5 340.5h37v2.5h-37zM174 340.5h154.5v2.5h-154.5zM2.5 343h2.5v2.5h-2.5zM29.5 343h2.5v2.5h-2.5zM49 343h54v2.5h-54zM108 343h44v2.5h-44zM176.5 343h27v2.5h-27zM210.5 343h76v2.5h-76zM289 343h5v2.5h-5zM296.5 343h32v2.5h-32zM411.5 343h2.5v2.5h-2.5zM2.5 345.5h7.5v2.5h-7.5zM29.5 345.5h2.5v2.5h-2.5zM49 345.5h54v2.5h-54zM108 345.5h44v2.5h-44zM176.5 345.5h2.5v2.5h-2.5zM181.5 345.5h12v2.5h-12zM201 345.5h22v2.5h-22zM225.5 345.5h61v2.5h-61zM289 345.5h39.5v2.5h-39.5zM380 345.5h2v2.5h-2zM2.5 348h5v2.5h-5zM22 348h12.5v2.5h-12.5zM49 348h54v2.5h-54zM105.5 348h44v2.5h-44zM176.5 348h19.5v2.5h-19.5zM203.5 348h129.5v2.5h-129.5zM0 350.5h2.5v2.5h-2.5zM22 350.5h15v2.5h-15zM46.5 350.5h27v2.5h-27zM76 350.5h27v2.5h-27zM108 350.5h39v2.5h-39zM176.5 350.5h19.5v2.5h-19.5zM206 350.5h39v2.5h-39zM247.5 350.5h5v2.5h-5zM255 350.5h78v2.5h-78zM0 353h2.5v2h-2.5zM24.5 353h7.5v2h-7.5zM46.5 353h24.5v2h-24.5zM76 353h27v2h-27zM108 353h36.5v2h-36.5zM171.5 353h19.5v2h-19.5zM206 353h137v2h-137zM24.5 355h5v2.5h-5zM46.5 355h24.5v2.5h-24.5zM76 355h12v2.5h-12zM90.5 355h12.5v2.5h-12.5zM108 355h39v2.5h-39zM157 355h4.5v2.5h-4.5zM171.5 355h19.5v2.5h-19.5zM210.5 355h27v2.5h-27zM240 355h42v2.5h-42zM284 355h49v2.5h-49zM335.5 355h7.5v2.5h-7.5zM46.5 357.5h41.5v2.5h-41.5zM90.5 357.5h12.5v2.5h-12.5zM105.5 357.5h41.5v2.5h-41.5zM166.5 357.5h24.5v2.5h-24.5zM198.5 357.5h5v2.5h-5zM210.5 357.5h122.5v2.5h-122.5zM335.5 357.5h12.5v2.5h-12.5zM384.5 357.5h2.5v2.5h-2.5zM49 360h103v2.5h-103zM166.5 360h27v2.5h-27zM196 360h10v2.5h-10zM213 360h95.5v2.5h-95.5zM311 360h17.5v2.5h-17.5zM331 360h9.5v2.5h-9.5zM343 360h5v2.5h-5zM384.5 360h5v2.5h-5zM0 362.5h2.5v2.5h-2.5zM24.5 362.5h2.5v2.5h-2.5zM34.5 362.5h2.5v2.5h-2.5zM44 362.5h98v2.5h-98zM147 362.5h2.5v2.5h-2.5zM164 362.5h184v2.5h-184zM353 362.5h39v2.5h-39zM411.5 362.5h5v2.5h-5zM34.5 365h2.5v2.5h-2.5zM44 365h49v2.5h-49zM95.5 365h46.5v2.5h-46.5zM164 365h127.5v2.5h-127.5zM294 365h54v2.5h-54zM353 365h36.5v2.5h-36.5zM411.5 365h5v2.5h-5zM431 365h2.5v2.5h-2.5zM14.5 367.5h2.5v2.5h-2.5zM24.5 367.5h2.5v2.5h-2.5zM32 367.5h7v2.5h-7zM41.5 367.5h61.5v2.5h-61.5zM112.5 367.5h29.5v2.5h-29.5zM164 367.5h5v2.5h-5zM181.5 367.5h9.5v2.5h-9.5zM196 367.5h95.5v2.5h-95.5zM296.5 367.5h51.5v2.5h-51.5zM353 367.5h83v2.5h-83zM24.5 370h12.5v2.5h-12.5zM44 370h19.5v2.5h-19.5zM66 370h37v2.5h-37zM112.5 370h29.5v2.5h-29.5zM147 370h2.5v2.5h-2.5zM161.5 370h5v2.5h-5zM181.5 370h9.5v2.5h-9.5zM196 370h76v2.5h-76zM277 370h14.5v2.5h-14.5zM294 370h54v2.5h-54zM353 370h22v2.5h-22zM380 370h53.5v2.5h-53.5zM27 372.5h2.5v2.5h-2.5zM39 372.5h24.5v2.5h-24.5zM66 372.5h76v2.5h-76zM149.5 372.5h2.5v2.5h-2.5zM186 372.5h122.5v2.5h-122.5zM311 372.5h118v2.5h-118zM436 372.5h5v2.5h-5zM39 375h5v2.5h-5zM46.5 375h95.5v2.5h-95.5zM174 375h2.5v2.5h-2.5zM181.5 375h2.5v2.5h-2.5zM186 375h96v2.5h-96zM286.5 375h118v2.5h-118zM409 375h32v2.5h-32zM22 377.5h5v2.5h-5zM39 377.5h5v2.5h-5zM46.5 377.5h88.5v2.5h-88.5zM139.5 377.5h22v2.5h-22zM174 377.5h2.5v2.5h-2.5zM186 377.5h73.5v2.5h-73.5zM267 377.5h12.5v2.5h-12.5zM284 377.5h34.5v2.5h-34.5zM321 377.5h125v2.5h-125zM22 380h5v2h-5zM39 380h122.5v2h-122.5zM171.5 380h5v2h-5zM186 380h73.5v2h-73.5zM267 380h10v2h-10zM284 380h22v2h-22zM308.5 380h24.5v2h-24.5zM335.5 380h46.5v2h-46.5zM387 380h59v2h-59zM19.5 382h5v2.5h-5zM44 382h130v2.5h-130zM191 382h73.5v2.5h-73.5zM269.5 382h7.5v2.5h-7.5zM282 382h24v2.5h-24zM308.5 382h24.5v2.5h-24.5zM338 382h44v2.5h-44zM387 382h64v2.5h-64zM0 384.5h5v2.5h-5zM17 384.5h7.5v2.5h-7.5zM39 384.5h2.5v2.5h-2.5zM44 384.5h127.5v2.5h-127.5zM191 384.5h73.5v2.5h-73.5zM269.5 384.5h5v2.5h-5zM279.5 384.5h68.5v2.5h-68.5zM350.5 384.5h100.5v2.5h-100.5zM0 387h5v2.5h-5zM17 387h7.5v2.5h-7.5zM37 387h7v2.5h-7zM49 387h59v2.5h-59zM110.5 387h48.5v2.5h-48.5zM161.5 387h15v2.5h-15zM184 387h2v2.5h-2zM206 387h27v2.5h-27zM235 387h7.5v2.5h-7.5zM252.5 387h19.5v2.5h-19.5zM282 387h4.5v2.5h-4.5zM304 387h151.5v2.5h-151.5zM0 389.5h5v2.5h-5zM14.5 389.5h2.5v2.5h-2.5zM37 389.5h7v2.5h-7zM49 389.5h110v2.5h-110zM161.5 389.5h15v2.5h-15zM198.5 389.5h2.5v2.5h-2.5zM206 389.5h56v2.5h-56zM267 389.5h7.5v2.5h-7.5zM282 389.5h12v2.5h-12zM304 389.5h14.5v2.5h-14.5zM321 389.5h134.5v2.5h-134.5zM0 392h7.5v2.5h-7.5zM14.5 392h5v2.5h-5zM41.5 392h5v2.5h-5zM49 392h100.5v2.5h-100.5zM152 392h27v2.5h-27zM215.5 392h15v2.5h-15zM235 392h20v2.5h-20zM257 392h5v2.5h-5zM267 392h2.5v2.5h-2.5zM284 392h7.5v2.5h-7.5zM304 392h7v2.5h-7zM316 392h144.5v2.5h-144.5zM14.5 394.5h5v2.5h-5zM41.5 394.5h105.5v2.5h-105.5zM152 394.5h27v2.5h-27zM215.5 394.5h12.5v2.5h-12.5zM237.5 394.5h15v2.5h-15zM257 394.5h12.5v2.5h-12.5zM301.5 394.5h159v2.5h-159zM14.5 397h5v2.5h-5zM44 397h5v2.5h-5zM54 397h85.5v2.5h-85.5zM157 397h4.5v2.5h-4.5zM166.5 397h19.5v2.5h-19.5zM220.5 397h5v2.5h-5zM237.5 397h12.5v2.5h-12.5zM257 397h17.5v2.5h-17.5zM301.5 397h9.5v2.5h-9.5zM326 397h2.5v2.5h-2.5zM335.5 397h10v2.5h-10zM348 397h5v2.5h-5zM365 397h7.5v2.5h-7.5zM375 397h14.5v2.5h-14.5zM392 397h100v2.5h-100zM14.5 399.5h2.5v2.5h-2.5zM24.5 399.5h2.5v2.5h-2.5zM44 399.5h2.5v2.5h-2.5zM54 399.5h34v2.5h-34zM93 399.5h44v2.5h-44zM144.5 399.5h5v2.5h-5zM154.5 399.5h7v2.5h-7zM169 399.5h10v2.5h-10zM191 399.5h2.5v2.5h-2.5zM201 399.5h2.5v2.5h-2.5zM220.5 399.5h7.5v2.5h-7.5zM233 399.5h17v2.5h-17zM255 399.5h12v2.5h-12zM269.5 399.5h14.5v2.5h-14.5zM294 399.5h17v2.5h-17zM321 399.5h7.5v2.5h-7.5zM333 399.5h22v2.5h-22zM365 399.5h7.5v2.5h-7.5zM377.5 399.5h12v2.5h-12zM392 399.5h100v2.5h-100zM0 402h10v2.5h-10zM12 402h15v2.5h-15zM37 402h2v2.5h-2zM54 402h49v2.5h-49zM108 402h24.5v2.5h-24.5zM135 402h2v2.5h-2zM142 402h19.5v2.5h-19.5zM164 402h15v2.5h-15zM230.5 402h22v2.5h-22zM269.5 402h17v2.5h-17zM294 402h14.5v2.5h-14.5zM321 402h7.5v2.5h-7.5zM331 402h22v2.5h-22zM367.5 402h5v2.5h-5zM377.5 402h9.5v2.5h-9.5zM394.5 402h12v2.5h-12zM424 402h22v2.5h-22zM451 402h41v2.5h-41zM0 404.5h10v2h-10zM12 404.5h15v2h-15zM37 404.5h4.5v2h-4.5zM54 404.5h78.5v2h-78.5zM135 404.5h4.5v2h-4.5zM142 404.5h37v2h-37zM184 404.5h2v2h-2zM230.5 404.5h4.5v2h-4.5zM237.5 404.5h15v2h-15zM269.5 404.5h17v2h-17zM299 404.5h12v2h-12zM321 404.5h34v2h-34zM365 404.5h12.5v2h-12.5zM389.5 404.5h19.5v2h-19.5zM411.5 404.5h5v2h-5zM424 404.5h17v2h-17zM443.5 404.5h2.5v2h-2.5zM451 404.5h14.5v2h-14.5zM470.5 404.5h21.5v2h-21.5zM2.5 406.5h22v2.5h-22zM37 406.5h7v2.5h-7zM54 406.5h76v2.5h-76zM135 406.5h22v2.5h-22zM169 406.5h10v2.5h-10zM184 406.5h2v2.5h-2zM240 406.5h5v2.5h-5zM247.5 406.5h17v2.5h-17zM269.5 406.5h7.5v2.5h-7.5zM299 406.5h14.5v2.5h-14.5zM318.5 406.5h44v2.5h-44zM365 406.5h12.5v2.5h-12.5zM389.5 406.5h5v2.5h-5zM399.5 406.5h5v2.5h-5zM414 406.5h5v2.5h-5zM421.5 406.5h14.5v2.5h-14.5zM455.5 406.5h10v2.5h-10zM468 406.5h24v2.5h-24zM0 409h24.5v2.5h-24.5zM27 409h2.5v2.5h-2.5zM39 409h7.5v2.5h-7.5zM54 409h73.5v2.5h-73.5zM132.5 409h26.5v2.5h-26.5zM169 409h10v2.5h-10zM220.5 409h2.5v2.5h-2.5zM225.5 409h2.5v2.5h-2.5zM240 409h27v2.5h-27zM269.5 409h7.5v2.5h-7.5zM299 409h14.5v2.5h-14.5zM318.5 409h10v2.5h-10zM333 409h44.5v2.5h-44.5zM382 409h5v2.5h-5zM397 409h7.5v2.5h-7.5zM414 409h15v2.5h-15zM455.5 409h10v2.5h-10zM468 409h19.5v2.5h-19.5zM0 411.5h22v2.5h-22zM44 411.5h5v2.5h-5zM54 411.5h73.5v2.5h-73.5zM132.5 411.5h24.5v2.5h-24.5zM166.5 411.5h12.5v2.5h-12.5zM188.5 411.5h12.5v2.5h-12.5zM228 411.5h2.5v2.5h-2.5zM240 411.5h5v2.5h-5zM257 411.5h7.5v2.5h-7.5zM269.5 411.5h7.5v2.5h-7.5zM282 411.5h2v2.5h-2zM299 411.5h24.5v2.5h-24.5zM333 411.5h5v2.5h-5zM343 411.5h7.5v2.5h-7.5zM357.5 411.5h17.5v2.5h-17.5zM380 411.5h7v2.5h-7zM394.5 411.5h7.5v2.5h-7.5zM414 411.5h17v2.5h-17zM458 411.5h5v2.5h-5zM468 411.5h24v2.5h-24zM0 414h14.5v2.5h-14.5zM44 414h2.5v2.5h-2.5zM54 414h73.5v2.5h-73.5zM130 414h7v2.5h-7zM139.5 414h17.5v2.5h-17.5zM166.5 414h15v2.5h-15zM188.5 414h7.5v2.5h-7.5zM230.5 414h2.5v2.5h-2.5zM257 414h5v2.5h-5zM267 414h10v2.5h-10zM282 414h4.5v2.5h-4.5zM291.5 414h17v2.5h-17zM311 414h12.5v2.5h-12.5zM333 414h2.5v2.5h-2.5zM345.5 414h14.5v2.5h-14.5zM367.5 414h24.5v2.5h-24.5zM394.5 414h7.5v2.5h-7.5zM414 414h32v2.5h-32zM458 414h5v2.5h-5zM465.5 414h24.5v2.5h-24.5zM0 416.5h19.5v2.5h-19.5zM54 416.5h81v2.5h-81zM139.5 416.5h19.5v2.5h-19.5zM166.5 416.5h17.5v2.5h-17.5zM203.5 416.5h2.5v2.5h-2.5zM255 416.5h17v2.5h-17zM284 416.5h10v2.5h-10zM296.5 416.5h27v2.5h-27zM331 416.5h4.5v2.5h-4.5zM345.5 416.5h14.5v2.5h-14.5zM367.5 416.5h32v2.5h-32zM416.5 416.5h27v2.5h-27zM460.5 416.5h5v2.5h-5zM470.5 416.5h19.5v2.5h-19.5zM0 419h10v2.5h-10zM14.5 419h5v2.5h-5zM22 419h5v2.5h-5zM37 419h4.5v2.5h-4.5zM54 419h63.5v2.5h-63.5zM122.5 419h12.5v2.5h-12.5zM137 419h22v2.5h-22zM161.5 419h20v2.5h-20zM201 419h5v2.5h-5zM210.5 419h5v2.5h-5zM255 419h24.5v2.5h-24.5zM284 419h39.5v2.5h-39.5zM340.5 419h22v2.5h-22zM370 419h10v2.5h-10zM384.5 419h12.5v2.5h-12.5zM419 419h14.5v2.5h-14.5zM453.5 419h2v2.5h-2zM458 419h7.5v2.5h-7.5zM470.5 419h21.5v2.5h-21.5zM0 421.5h10v2.5h-10zM14.5 421.5h15v2.5h-15zM54 421.5h63.5v2.5h-63.5zM120 421.5h46.5v2.5h-46.5zM171.5 421.5h10v2.5h-10zM201 421.5h7.5v2.5h-7.5zM215.5 421.5h7.5v2.5h-7.5zM259.5 421.5h66.5v2.5h-66.5zM333 421.5h29.5v2.5h-29.5zM372.5 421.5h22v2.5h-22zM419 421.5h14.5v2.5h-14.5zM441 421.5h5v2.5h-5zM453.5 421.5h12v2.5h-12zM470.5 421.5h12v2.5h-12zM487.5 421.5h4.5v2.5h-4.5zM0 424h10v2.5h-10zM14.5 424h15v2.5h-15zM44 424h2.5v2.5h-2.5zM54 424h5v2.5h-5zM61.5 424h61v2.5h-61zM130 424h17v2.5h-17zM152 424h17v2.5h-17zM171.5 424h10v2.5h-10zM186 424h2.5v2.5h-2.5zM220.5 424h5v2.5h-5zM230.5 424h2.5v2.5h-2.5zM259.5 424h66.5v2.5h-66.5zM331 424h17v2.5h-17zM353 424h7v2.5h-7zM372.5 424h19.5v2.5h-19.5zM404.5 424h2v2.5h-2zM416.5 424h7.5v2.5h-7.5zM429 424h17v2.5h-17zM463 424h2.5v2.5h-2.5zM470.5 424h12v2.5h-12zM0 426.5h24.5v2.5h-24.5zM39 426.5h10v2.5h-10zM54 426.5h5v2.5h-5zM61.5 426.5h61v2.5h-61zM130 426.5h5v2.5h-5zM137 426.5h2.5v2.5h-2.5zM152 426.5h7v2.5h-7zM164 426.5h2.5v2.5h-2.5zM171.5 426.5h10v2.5h-10zM186 426.5h2.5v2.5h-2.5zM250 426.5h2.5v2.5h-2.5zM264.5 426.5h61.5v2.5h-61.5zM331 426.5h17v2.5h-17zM357.5 426.5h2.5v2.5h-2.5zM372.5 426.5h5v2.5h-5zM382 426.5h2.5v2.5h-2.5zM389.5 426.5h5v2.5h-5zM399.5 426.5h2.5v2.5h-2.5zM406.5 426.5h5v2.5h-5zM416.5 426.5h10v2.5h-10zM429 426.5h17v2.5h-17zM451 426.5h2.5v2.5h-2.5zM455.5 426.5h10v2.5h-10zM470.5 426.5h12v2.5h-12zM487.5 426.5h4.5v2.5h-4.5zM0 429h7.5v2h-7.5zM10 429h19.5v2h-19.5zM41.5 429h10v2h-10zM54 429h61v2h-61zM117.5 429h2.5v2h-2.5zM144.5 429h7.5v2h-7.5zM174 429h7.5v2h-7.5zM186 429h5v2h-5zM250 429h5v2h-5zM267 429h54v2h-54zM328.5 429h22v2h-22zM362.5 429h5v2h-5zM389.5 429h7.5v2h-7.5zM406.5 429h5v2h-5zM416.5 429h2.5v2h-2.5zM421.5 429h22v2h-22zM448.5 429h2.5v2h-2.5zM455.5 429h10v2h-10zM470.5 429h21.5v2h-21.5zM0 431h29.5v2.5h-29.5zM59 431h53.5v2.5h-53.5zM142 431h15v2.5h-15zM174 431h10v2.5h-10zM186 431h5v2.5h-5zM242.5 431h2.5v2.5h-2.5zM250 431h5v2.5h-5zM264.5 431h17.5v2.5h-17.5zM284 431h7.5v2.5h-7.5zM294 431h14.5v2.5h-14.5zM328.5 431h9.5v2.5h-9.5zM343 431h12v2.5h-12zM362.5 431h5v2.5h-5zM384.5 431h10v2.5h-10zM402 431h7v2.5h-7zM416.5 431h2.5v2.5h-2.5zM421.5 431h7.5v2.5h-7.5zM438.5 431h17v2.5h-17zM463 431h2.5v2.5h-2.5zM470.5 431h21.5v2.5h-21.5zM0 433.5h29.5v2.5h-29.5zM34.5 433.5h2.5v2.5h-2.5zM46.5 433.5h2.5v2.5h-2.5zM59 433.5h29v2.5h-29zM93 433.5h19.5v2.5h-19.5zM122.5 433.5h5v2.5h-5zM132.5 433.5h2.5v2.5h-2.5zM139.5 433.5h27v2.5h-27zM174 433.5h12v2.5h-12zM193.5 433.5h2.5v2.5h-2.5zM218 433.5h5v2.5h-5zM250 433.5h2.5v2.5h-2.5zM262 433.5h5v2.5h-5zM269.5 433.5h7.5v2.5h-7.5zM279.5 433.5h9.5v2.5h-9.5zM304 433.5h7v2.5h-7zM316 433.5h5v2.5h-5zM328.5 433.5h4.5v2.5h-4.5zM345.5 433.5h9.5v2.5h-9.5zM362.5 433.5h2.5v2.5h-2.5zM372.5 433.5h5v2.5h-5zM382 433.5h12.5v2.5h-12.5zM402 433.5h7v2.5h-7zM416.5 433.5h10v2.5h-10zM436 433.5h19.5v2.5h-19.5zM460.5 433.5h5v2.5h-5zM470.5 433.5h21.5v2.5h-21.5z"/>
<path fill="#dd0000" d="M49 93h2.5v2.5h-2.5zM61.5 93h2v2.5h-2zM49 95.5h5v2.5h-5zM61.5 95.5h2v2.5h-2zM51.5 98h5v2.5h-5zM61.5 98h2v2.5h-2zM32 103h2.5v2.5h-2.5zM54 112.5h5v2.5h-5zM54 115h5v2.5h-5zM63.5 115h2.5v2.5h-2.5zM34.5 117.5h24.5v2.5h-24.5zM63.5 117.5h2.5v2.5h-2.5zM34.5 120h24.5v2.5h-24.5zM68.5 120h2.5v2.5h-2.5zM22 122.5h5v2.5h-5zM34.5 122.5h34v2.5h-34zM19.5 125h10v2.5h-10zM34.5 125h34v2.5h-34zM17 127.5h7.5v2.5h-7.5zM29.5 127.5h34v2.5h-34zM17 130h7.5v2.5h-7.5zM29.5 130h36.5v2.5h-36.5zM34.5 132.5h29v2.5h-29zM34.5 135h29v2h-29zM34.5 137h29v2.5h-29zM34.5 139.5h29v2.5h-29zM34.5 142h29v2.5h-29zM81 142h7v2.5h-7zM34.5 144.5h29v2.5h-29zM34.5 147h2.5v2.5h-2.5zM39 147h24.5v2.5h-24.5zM34.5 149.5h29v2.5h-29zM76 149.5h5v2.5h-5zM17 152h2.5v2.5h-2.5zM24.5 152h39v2.5h-39zM76 152h2.5v2.5h-2.5zM24.5 154.5h10v2.5h-10zM41.5 154.5h22v2.5h-22zM24.5 157h24.5v2h-24.5zM54 157h9.5v2h-9.5zM22 159h27v2.5h-27zM54 159h9.5v2.5h-9.5zM12 161.5h5v2.5h-5zM22 161.5h5v2.5h-5zM12 164h5v2.5h-5zM29.5 166.5h5v2.5h-5zM39 166.5h7.5v2.5h-7.5zM68.5 166.5h2.5v2.5h-2.5zM37 169h9.5v2.5h-9.5zM68.5 169h2.5v2.5h-2.5zM37 171.5h9.5v2.5h-9.5zM49 171.5h10v2.5h-10zM83.5 171.5h2.5v2.5h-2.5zM41.5 174h17.5v2.5h-17.5zM83.5 174h4.5v2.5h-4.5zM32 176.5h27v2.5h-27zM83.5 176.5h4.5v2.5h-4.5zM32 179h14.5v2.5h-14.5zM49 179h10v2.5h-10zM22 181.5h2.5v2.5h-2.5zM49 181.5h10v2.5h-10zM98 181.5h5v2.5h-5zM22 184h2.5v2h-2.5zM49 184h10v2h-10zM56.5 186h12v2.5h-12zM56.5 188.5h7v2.5h-7zM73.5 188.5h2.5v2.5h-2.5zM93 188.5h5v2.5h-5zM56.5 191h2.5v2.5h-2.5zM73.5 191h5v2.5h-5zM93 191h2.5v2.5h-2.5zM46.5 193.5h2.5v2.5h-2.5zM71 193.5h2.5v2.5h-2.5zM93 193.5h2.5v2.5h-2.5zM39 196h2.5v2.5h-2.5zM39 198.5h5v2.5h-5zM66 198.5h2.5v2.5h-2.5zM88 198.5h2.5v2.5h-2.5zM0 201h5v2.5h-5zM37 201h9.5v2.5h-9.5zM63.5 201h5v2.5h-5zM0 203.5h2.5v2.5h-2.5zM39 203.5h7.5v2.5h-7.5zM59 203.5h12v2.5h-12zM76 203.5h2.5v2.5h-2.5zM98 203.5h5v2.5h-5zM51.5 206h5v2.5h-5zM59 206h9.5v2.5h-9.5zM46.5 208.5h10v2h-10zM61.5 208.5h7v2h-7zM49 210.5h5v2.5h-5zM63.5 210.5h2.5v2.5h-2.5zM61.5 213h2v2.5h-2zM81 213h2.5v2.5h-2.5zM103 213h2.5v2.5h-2.5zM12 215.5h2.5v2.5h-2.5zM39 215.5h5v2.5h-5zM59 215.5h4.5v2.5h-4.5zM78.5 215.5h7.5v2.5h-7.5zM103 215.5h5v2.5h-5zM12 218h2.5v2.5h-2.5zM34.5 218h2.5v2.5h-2.5zM41.5 218h2.5v2.5h-2.5zM59 218h2.5v2.5h-2.5zM78.5 218h5v2.5h-5zM86 218h9.5v2.5h-9.5zM103 218h5v2.5h-5zM78.5 220.5h5v2.5h-5zM86 220.5h7v2.5h-7zM154.5 220.5h2.5v2.5h-2.5zM78.5 223h2.5v2.5h-2.5zM66 225.5h2.5v2.5h-2.5zM0 228h2.5v2.5h-2.5zM29.5 228h2.5v2.5h-2.5zM63.5 228h5v2.5h-5zM112.5 235h2.5v2.5h-2.5zM61.5 240h2v2.5h-2zM117.5 245h15v2.5h-15zM117.5 247.5h15v2.5h-15zM108 250h34v2.5h-34zM78.5 252.5h5v2.5h-5zM108 252.5h34v2.5h-34zM108 255h39v2h-39zM108 257h39v2.5h-39zM108 259.5h34v2.5h-34zM149.5 259.5h2.5v2.5h-2.5zM108 262h44v2.5h-44zM108 264.5h4.5v2.5h-4.5zM117.5 264.5h34.5v2.5h-34.5zM108 267h44v2.5h-44zM110.5 269.5h22v2.5h-22zM137 269.5h20v2.5h-20zM108 272h27v2.5h-27zM137 272h20v2.5h-20zM108 274.5h7v2.5h-7zM117.5 274.5h49v2.5h-49zM73.5 277h2.5v2.5h-2.5zM108 277h7v2.5h-7zM117.5 277h49v2.5h-49zM112.5 279.5h59v2.5h-59zM112.5 282h15v2h-15zM130 282h41.5v2h-41.5zM81 284h2.5v2.5h-2.5zM112.5 284h59v2.5h-59zM179 284h2.5v2.5h-2.5zM112.5 286.5h34.5v2.5h-34.5zM149.5 286.5h22v2.5h-22zM112.5 289h29.5v2.5h-29.5zM147 289h19.5v2.5h-19.5zM112.5 291.5h32v2.5h-32zM147 291.5h5v2.5h-5zM159 291.5h7.5v2.5h-7.5zM112.5 294h37v2.5h-37zM159 294h7.5v2.5h-7.5zM112.5 296.5h27v2.5h-27zM144.5 296.5h22v2.5h-22zM117.5 299h22v2.5h-22zM147 299h14.5v2.5h-14.5zM117.5 301.5h10v2.5h-10zM130 301.5h9.5v2.5h-9.5zM147 301.5h14.5v2.5h-14.5zM122.5 304h34.5v2h-34.5zM78.5 306h5v2.5h-5zM122.5 306h34.5v2.5h-34.5zM184 306h2v2.5h-2zM122.5 308.5h34.5v2.5h-34.5zM122.5 311h34.5v2.5h-34.5zM51.5 313.5h2.5v2.5h-2.5zM122.5 313.5h22v2.5h-22zM149.5 313.5h2.5v2.5h-2.5zM49 316h5v2.5h-5zM127.5 316h19.5v2.5h-19.5zM132.5 318.5h19.5v2.5h-19.5zM132.5 321h19.5v2.5h-19.5zM206 321h2.5v2.5h-2.5zM98 323.5h5v2.5h-5zM262 323.5h2.5v2.5h-2.5zM95.5 326h5v2.5h-5zM188.5 328.5h2.5v2.5h-2.5zM49 333h2.5v2.5h-2.5zM108 338h4.5v2.5h-4.5zM147 338h29.5v2.5h-29.5zM179 338h2.5v2.5h-2.5zM110.5 340.5h2v2.5h-2zM149.5 340.5h24.5v2.5h-24.5zM152 343h24.5v2.5h-24.5zM203.5 343h7v2.5h-7zM152 345.5h24.5v2.5h-24.5zM179 345.5h2.5v2.5h-2.5zM193.5 345.5h7.5v2.5h-7.5zM149.5 348h27v2.5h-27zM196 348h7.5v2.5h-7.5zM147 350.5h29.5v2.5h-29.5zM196 350.5h10v2.5h-10zM144.5 353h27v2h-27zM191 353h15v2h-15zM147 355h10v2.5h-10zM161.5 355h10v2.5h-10zM191 355h19.5v2.5h-19.5zM237.5 355h2.5v2.5h-2.5zM282 355h2v2.5h-2zM333 355h2.5v2.5h-2.5zM147 357.5h19.5v2.5h-19.5zM191 357.5h7.5v2.5h-7.5zM203.5 357.5h7v2.5h-7zM333 357.5h2.5v2.5h-2.5zM152 360h14.5v2.5h-14.5zM193.5 360h2.5v2.5h-2.5zM206 360h7v2.5h-7zM142 362.5h5v2.5h-5zM149.5 362.5h14.5v2.5h-14.5zM93 365h2.5v2.5h-2.5zM142 365h22v2.5h-22zM142 367.5h22v2.5h-22zM169 367.5h12.5v2.5h-12.5zM191 367.5h5v2.5h-5zM142 370h5v2.5h-5zM149.5 370h12v2.5h-12zM166.5 370h15v2.5h-15zM191 370h5v2.5h-5zM375 370h5v2.5h-5zM433.5 370h2.5v2.5h-2.5zM142 372.5h7.5v2.5h-7.5zM152 372.5h34v2.5h-34zM429 372.5h7v2.5h-7zM44 375h2.5v2.5h-2.5zM142 375h32v2.5h-32zM176.5 375h5v2.5h-5zM184 375h2v2.5h-2zM282 375h4.5v2.5h-4.5zM404.5 375h4.5v2.5h-4.5zM44 377.5h2.5v2.5h-2.5zM161.5 377.5h12.5v2.5h-12.5zM176.5 377.5h9.5v2.5h-9.5zM279.5 377.5h4.5v2.5h-4.5zM161.5 380h10v2h-10zM176.5 380h9.5v2h-9.5zM277 380h7v2h-7zM333 380h2.5v2h-2.5zM174 382h17v2.5h-17zM277 382h5v2.5h-5zM333 382h5v2.5h-5zM171.5 384.5h19.5v2.5h-19.5zM274.5 384.5h5v2.5h-5zM176.5 387h7.5v2.5h-7.5zM186 387h20v2.5h-20zM233 387h2v2.5h-2zM242.5 387h10v2.5h-10zM272 387h10v2.5h-10zM286.5 387h17.5v2.5h-17.5zM176.5 389.5h22v2.5h-22zM201 389.5h5v2.5h-5zM262 389.5h5v2.5h-5zM274.5 389.5h7.5v2.5h-7.5zM294 389.5h10v2.5h-10zM149.5 392h2.5v2.5h-2.5zM179 392h36.5v2.5h-36.5zM230.5 392h4.5v2.5h-4.5zM255 392h2v2.5h-2zM262 392h5v2.5h-5zM269.5 392h14.5v2.5h-14.5zM291.5 392h12.5v2.5h-12.5zM311 392h5v2.5h-5zM147 394.5h5v2.5h-5zM179 394.5h36.5v2.5h-36.5zM228 394.5h9.5v2.5h-9.5zM252.5 394.5h4.5v2.5h-4.5zM269.5 394.5h32v2.5h-32zM139.5 397h17.5v2.5h-17.5zM161.5 397h5v2.5h-5zM186 397h34.5v2.5h-34.5zM225.5 397h12v2.5h-12zM250 397h7v2.5h-7zM274.5 397h27v2.5h-27zM311 397h15v2.5h-15zM328.5 397h7v2.5h-7zM345.5 397h2.5v2.5h-2.5zM353 397h12v2.5h-12zM372.5 397h2.5v2.5h-2.5zM389.5 397h2.5v2.5h-2.5zM137 399.5h7.5v2.5h-7.5zM149.5 399.5h5v2.5h-5zM161.5 399.5h7.5v2.5h-7.5zM179 399.5h12v2.5h-12zM193.5 399.5h7.5v2.5h-7.5zM203.5 399.5h17v2.5h-17zM228 399.5h5v2.5h-5zM250 399.5h5v2.5h-5zM267 399.5h2.5v2.5h-2.5zM284 399.5h10v2.5h-10zM311 399.5h10v2.5h-10zM328.5 399.5h4.5v2.5h-4.5zM355 399.5h10v2.5h-10zM372.5 399.5h5v2.5h-5zM389.5 399.5h2.5v2.5h-2.5zM132.5 402h2.5v2.5h-2.5zM137 402h5v2.5h-5zM161.5 402h2.5v2.5h-2.5zM179 402h51.5v2.5h-51.5zM252.5 402h17v2.5h-17zM286.5 402h7.5v2.5h-7.5zM308.5 402h12.5v2.5h-12.5zM328.5 402h2.5v2.5h-2.5zM353 402h14.5v2.5h-14.5zM372.5 402h5v2.5h-5zM387 402h7.5v2.5h-7.5zM406.5 402h17.5v2.5h-17.5zM446 402h5v2.5h-5zM132.5 404.5h2.5v2h-2.5zM139.5 404.5h2.5v2h-2.5zM179 404.5h5v2h-5zM186 404.5h44.5v2h-44.5zM235 404.5h2.5v2h-2.5zM252.5 404.5h17v2h-17zM286.5 404.5h12.5v2h-12.5zM311 404.5h10v2h-10zM355 404.5h10v2h-10zM377.5 404.5h12v2h-12zM409 404.5h2.5v2h-2.5zM416.5 404.5h7.5v2h-7.5zM441 404.5h2.5v2h-2.5zM446 404.5h5v2h-5zM465.5 404.5h5v2h-5zM0 406.5h2.5v2.5h-2.5zM130 406.5h5v2.5h-5zM157 406.5h12v2.5h-12zM179 406.5h5v2.5h-5zM186 406.5h54v2.5h-54zM245 406.5h2.5v2.5h-2.5zM264.5 406.5h5v2.5h-5zM277 406.5h22v2.5h-22zM313.5 406.5h5v2.5h-5zM362.5 406.5h2.5v2.5h-2.5zM377.5 406.5h12v2.5h-12zM394.5 406.5h5v2.5h-5zM404.5 406.5h9.5v2.5h-9.5zM419 406.5h2.5v2.5h-2.5zM436 406.5h19.5v2.5h-19.5zM465.5 406.5h2.5v2.5h-2.5zM127.5 409h5v2.5h-5zM159 409h10v2.5h-10zM179 409h41.5v2.5h-41.5zM223 409h2.5v2.5h-2.5zM228 409h12v2.5h-12zM267 409h2.5v2.5h-2.5zM277 409h22v2.5h-22zM313.5 409h5v2.5h-5zM328.5 409h4.5v2.5h-4.5zM377.5 409h4.5v2.5h-4.5zM387 409h10v2.5h-10zM404.5 409h9.5v2.5h-9.5zM429 409h26.5v2.5h-26.5zM127.5 411.5h5v2.5h-5zM157 411.5h9.5v2.5h-9.5zM179 411.5h9.5v2.5h-9.5zM201 411.5h27v2.5h-27zM230.5 411.5h9.5v2.5h-9.5zM245 411.5h12v2.5h-12zM264.5 411.5h5v2.5h-5zM277 411.5h5v2.5h-5zM284 411.5h15v2.5h-15zM323.5 411.5h9.5v2.5h-9.5zM338 411.5h5v2.5h-5zM350.5 411.5h7v2.5h-7zM375 411.5h5v2.5h-5zM387 411.5h7.5v2.5h-7.5zM402 411.5h12v2.5h-12zM431 411.5h27v2.5h-27zM127.5 414h2.5v2.5h-2.5zM137 414h2.5v2.5h-2.5zM157 414h9.5v2.5h-9.5zM181.5 414h7v2.5h-7zM196 414h34.5v2.5h-34.5zM233 414h24v2.5h-24zM262 414h5v2.5h-5zM277 414h5v2.5h-5zM286.5 414h5v2.5h-5zM308.5 414h2.5v2.5h-2.5zM323.5 414h9.5v2.5h-9.5zM335.5 414h10v2.5h-10zM360 414h7.5v2.5h-7.5zM392 414h2.5v2.5h-2.5zM402 414h12v2.5h-12zM446 414h12v2.5h-12zM490 414h2v2.5h-2zM135 416.5h4.5v2.5h-4.5zM159 416.5h7.5v2.5h-7.5zM184 416.5h19.5v2.5h-19.5zM206 416.5h49v2.5h-49zM272 416.5h12v2.5h-12zM294 416.5h2.5v2.5h-2.5zM323.5 416.5h7.5v2.5h-7.5zM335.5 416.5h10v2.5h-10zM360 416.5h7.5v2.5h-7.5zM399.5 416.5h17v2.5h-17zM443.5 416.5h17v2.5h-17zM465.5 416.5h5v2.5h-5zM490 416.5h2v2.5h-2zM10 419h4.5v2.5h-4.5zM117.5 419h5v2.5h-5zM135 419h2v2.5h-2zM159 419h2.5v2.5h-2.5zM181.5 419h19.5v2.5h-19.5zM206 419h4.5v2.5h-4.5zM215.5 419h39.5v2.5h-39.5zM279.5 419h4.5v2.5h-4.5zM323.5 419h17v2.5h-17zM362.5 419h7.5v2.5h-7.5zM380 419h4.5v2.5h-4.5zM397 419h22v2.5h-22zM433.5 419h20v2.5h-20zM455.5 419h2.5v2.5h-2.5zM465.5 419h5v2.5h-5zM10 421.5h4.5v2.5h-4.5zM117.5 421.5h2.5v2.5h-2.5zM166.5 421.5h5v2.5h-5zM181.5 421.5h19.5v2.5h-19.5zM208.5 421.5h7v2.5h-7zM223 421.5h36.5v2.5h-36.5zM326 421.5h7v2.5h-7zM362.5 421.5h10v2.5h-10zM394.5 421.5h24.5v2.5h-24.5zM433.5 421.5h7.5v2.5h-7.5zM446 421.5h7.5v2.5h-7.5zM465.5 421.5h5v2.5h-5zM10 424h4.5v2.5h-4.5zM122.5 424h7.5v2.5h-7.5zM147 424h5v2.5h-5zM169 424h2.5v2.5h-2.5zM181.5 424h4.5v2.5h-4.5zM188.5 424h32v2.5h-32zM225.5 424h5v2.5h-5zM233 424h26.5v2.5h-26.5zM326 424h5v2.5h-5zM348 424h5v2.5h-5zM360 424h12.5v2.5h-12.5zM392 424h12.5v2.5h-12.5zM406.5 424h10v2.5h-10zM424 424h5v2.5h-5zM446 424h17v2.5h-17zM465.5 424h5v2.5h-5zM490 424h2v2.5h-2zM24.5 426.5h5v2.5h-5zM122.5 426.5h7.5v2.5h-7.5zM135 426.5h2v2.5h-2zM139.5 426.5h12.5v2.5h-12.5zM159 426.5h5v2.5h-5zM166.5 426.5h5v2.5h-5zM181.5 426.5h4.5v2.5h-4.5zM188.5 426.5h61.5v2.5h-61.5zM252.5 426.5h12v2.5h-12zM326 426.5h5v2.5h-5zM348 426.5h9.5v2.5h-9.5zM360 426.5h12.5v2.5h-12.5zM377.5 426.5h4.5v2.5h-4.5zM384.5 426.5h5v2.5h-5zM394.5 426.5h5v2.5h-5zM402 426.5h4.5v2.5h-4.5zM411.5 426.5h5v2.5h-5zM426.5 426.5h2.5v2.5h-2.5zM446 426.5h5v2.5h-5zM453.5 426.5h2v2.5h-2zM465.5 426.5h5v2.5h-5zM115 429h2.5v2h-2.5zM120 429h24.5v2h-24.5zM152 429h22v2h-22zM181.5 429h4.5v2h-4.5zM191 429h59v2h-59zM255 429h12v2h-12zM321 429h7.5v2h-7.5zM350.5 429h12v2h-12zM367.5 429h22v2h-22zM397 429h9.5v2h-9.5zM411.5 429h5v2h-5zM419 429h2.5v2h-2.5zM443.5 429h5v2h-5zM451 429h4.5v2h-4.5zM465.5 429h5v2h-5zM112.5 431h29.5v2.5h-29.5zM157 431h17v2.5h-17zM184 431h2v2.5h-2zM191 431h51.5v2.5h-51.5zM245 431h5v2.5h-5zM255 431h9.5v2.5h-9.5zM282 431h2v2.5h-2zM291.5 431h2.5v2.5h-2.5zM308.5 431h20v2.5h-20zM338 431h5v2.5h-5zM355 431h7.5v2.5h-7.5zM367.5 431h17v2.5h-17zM394.5 431h7.5v2.5h-7.5zM409 431h7.5v2.5h-7.5zM419 431h2.5v2.5h-2.5zM429 431h9.5v2.5h-9.5zM455.5 431h7.5v2.5h-7.5zM465.5 431h5v2.5h-5zM112.5 433.5h10v2.5h-10zM127.5 433.5h5v2.5h-5zM135 433.5h4.5v2.5h-4.5zM166.5 433.5h7.5v2.5h-7.5zM186 433.5h7.5v2.5h-7.5zM196 433.5h22v2.5h-22zM223 433.5h27v2.5h-27zM252.5 433.5h9.5v2.5h-9.5zM267 433.5h2.5v2.5h-2.5zM277 433.5h2.5v2.5h-2.5zM289 433.5h15v2.5h-15zM311 433.5h5v2.5h-5zM321 433.5h7.5v2.5h-7.5zM333 433.5h12.5v2.5h-12.5zM355 433.5h7.5v2.5h-7.5zM365 433.5h7.5v2.5h-7.5zM377.5 433.5h4.5v2.5h-4.5zM394.5 433.5h7.5v2.5h-7.5zM409 433.5h7.5v2.5h-7.5zM426.5 433.5h9.5v2.5h-9.5zM455.5 433.5h5v2.5h-5zM465.5 433.5h5v2.5h-5z"/>
<path fill="#0022dd" d="M245 201h5v2.5h-5zM245 203.5h5v2.5h-5zM245 206h10v2.5h-10zM245 208.5h10v2h-10zM245 210.5h10v2.5h-10zM245 213h10v2.5h-10zM245 215.5h10v2.5h-10zM245 218h10v2.5h-10z"/>
<polygon points="135.0,29.0 150.0,33.0 151.0,40.0 146.0,41.0 139.0,41.0 136.0,36.0" fill="#fff"/>
<polygon points="250.0,201.0 257.0,201.0 262.0,205.0 272.0,206.0 273.0,210.0 269.0,216.0 262.0,222.0 256.0,228.0 252.0,228.0 250.0,222.0 256.0,220.0 256.0,205.0" fill="#fff"/>
<polygon points="300.0,293.0 315.0,300.0 325.0,304.0 330.0,307.5 345.0,315.0 360.0,317.5 371.0,322.5 385.0,322.5 400.0,323.8 411.4,327.7 424.8,332.4 436.2,330.5 446.7,337.2 457.2,338.2 477.3,338.0 477.3,343.0 463.0,344.0 451.0,343.0 440.0,341.0 425.0,338.0 411.0,334.0 400.0,330.0 390.0,328.0 375.0,329.0 365.0,324.0 350.0,320.0 335.0,315.0 320.0,306.0 305.0,300.0" fill="#fff"/>
<polygon points="260,244 268,246 270,252 266,253 262,249" fill="#fff"/>
<rect x="266" y="252" width="3" height="3" fill="#0022dd"/>
<polygon points="264,264 268,264 269,278 265,276" fill="#ff4400"/>
<polygon points="277,283 290,288 300,293 298,296 288,292 278,287" fill="#fff"/>
<rect x="285" y="288" width="4" height="3" fill="#0022dd"/>
<rect x="293" y="291" width="3" height="3" fill="#00b090"/>
<polygon points="411.0,331.0 451.0,339.0 451.0,342.0 411.0,335.0" fill="#00b090"/>
<polygon points="400.0,327.6 411.0,328.6 411.0,331.5 400.0,331.0" fill="#0022dd"/>
<polygon points="451.5,341.0 463.0,341.0 463.0,345.0 451.5,345.0" fill="#0022dd"/>
<polygon points="483.0,336.0 491.0,336.0 491.0,341.0 483.0,341.0" fill="#0022dd"/>
<polyline points="185.0,172.5 182.5,167.5 179.0,162.5 175.0,159.0 172.5,156.0 167.5,157.5 161.0,155.5 156.0,151.0 151.0,146.0 146.0,140.0 144.0,134.0 140.0,125.0 136.0,119.0 130.0,115.0 121.0,112.5" fill="none" stroke="#000" stroke-width="5" stroke-linejoin="round"/>
<rect x="112" y="111" width="9" height="4" fill="#0022dd"/>
<polygon points="105.0,0.0 491.0,0.0 491.0,329.0 490.6,329.6 489.7,331.5 486.8,334.3 483.9,337.2 483.0,342.9 485.8,345.8 488.7,348.6 489.7,352.5 488.7,355.3 484.9,357.2 480.1,357.2 476.3,358.2 472.5,360.1 467.7,361.0 464.9,358.2 463.9,353.4 464.9,350.6 467.7,347.7 472.5,346.7 476.3,344.8 477.3,341.0 474.4,338.2 463.0,338.2 457.2,338.2 456.3,334.3 451.5,336.2 446.7,337.2 443.9,334.3 439.1,333.4 436.2,330.5 430.5,333.4 424.8,332.4 417.2,330.5 411.4,327.7 405.7,324.8 400.0,323.8 395.0,324.0 390.0,324.0 385.0,322.5 380.0,324.0 376.0,325.5 371.0,322.5 366.0,320.0 360.0,317.5 352.5,316.0 345.0,315.0 337.5,312.5 335.0,309.0 330.0,307.5 325.0,304.0 322.5,301.0 315.0,300.0 307.5,299.0 301.0,295.0 300.0,292.5 295.0,291.0 288.8,290.0 281.2,286.2 275.0,282.5 270.0,278.8 267.5,272.5 267.5,265.0 268.8,257.5 268.8,250.0 265.0,246.0 261.9,245.5 257.7,244.3 253.5,242.9 249.3,241.5 245.1,239.4 241.7,237.3 238.9,234.5 238.2,231.7 239.6,229.6 242.4,228.9 242.4,226.1 242.4,221.9 243.8,220.5 246.5,221.9 249.3,222.6 251.4,224.7 252.8,228.2 255.6,227.5 259.1,224.7 261.9,221.9 264.7,219.1 268.9,216.3 271.0,212.0 273.1,210.0 272.4,206.5 269.0,205.8 264.7,206.5 260.5,204.5 257.0,201.0 253.5,200.3 250.0,201.7 247.2,200.3 249.3,198.2 250.0,195.4 247.2,193.3 241.0,193.3 235.4,193.3 233.3,190.5 232.6,187.0 231.2,183.5 228.4,181.4 219.0,182.5 215.0,180.0 207.5,175.0 205.0,172.5 197.5,174.0 190.0,174.0 185.0,172.5 182.5,167.5 179.0,162.5 175.0,159.0 172.5,156.0 167.5,157.5 161.0,155.5 156.0,151.0 151.0,146.0 146.0,140.0 144.0,134.0 140.0,125.0 136.0,119.0 130.0,115.0 121.0,112.5 112.5,112.0 102.5,114.0 95.0,115.0 87.5,116.0 87.5,114.0 90.0,110.0 94.0,107.5 97.5,105.0 99.0,101.0 96.0,97.5 92.5,95.0 91.0,92.0 92.5,90.0 97.5,86.0 100.0,82.5 106.0,80.0 114.0,77.5 116.0,75.0 112.5,74.0 102.5,72.5 97.5,67.5 95.0,64.0 100.0,60.0 102.5,57.5 107.5,55.0 114.0,56.0 119.0,55.0 125.0,52.5 132.5,51.0 137.5,50.0 135.0,47.5 137.5,44.0 140.0,40.0 146.0,40.0 150.0,37.5 149.0,35.0 142.5,32.5 135.0,30.0 132.5,25.0 127.5,20.0 120.0,19.0 110.0,17.5 104.0,17.5 100.0,15.0 101.0,11.0 104.0,5.0" fill="#cbcbcb" stroke="#000" stroke-width="1"/>
<polygon points="102.0,0.0 107.0,0.0 107.0,5.0 104.0,7.0 101.0,5.0" fill="#000"/>
<polygon points="106.0,5.0 114.0,6.0 121.0,7.0 121.0,10.0 112.0,11.0 106.0,9.0" fill="#000"/>
<polygon points="239.0,222.0 244.0,221.0 245.0,228.0 241.0,231.0 238.0,228.0" fill="#000"/>
<polygon points="461.0,352.0 465.0,348.0 468.0,355.0 472.0,361.0 480.0,360.0 488.0,357.0 491.0,361.0 482.0,366.0 468.0,367.0 462.0,362.0" fill="#000"/>
<polygon points="95.0,67.0 103.0,69.0 104.0,74.0 99.0,78.0 95.0,76.0" fill="#000"/>
<polygon points="100.0,74.0 112.0,73.5 110.0,77.0 104.0,80.0 99.0,78.0" fill="#000"/>
<polygon points="128.0,114.0 137.0,117.6 142.6,124.8 144.4,135.6 139.0,135.6 133.6,130.0 130.0,124.8 130.0,119.4" fill="#000"/>
<rect x="143.5" y="289" width="3" height="3" fill="#000"/>
<line x1="55.5" y1="0" x2="55.5" y2="436" stroke="#000" stroke-opacity="0.36" stroke-width="1"/>
<line x1="192.5" y1="0" x2="192.5" y2="436" stroke="#000" stroke-opacity="0.36" stroke-width="1"/>
<line x1="328.5" y1="0" x2="328.5" y2="436" stroke="#000" stroke-opacity="0.36" stroke-width="1"/>
<line x1="465" y1="0" x2="465" y2="436" stroke="#000" stroke-opacity="0.36" stroke-width="1"/>
<line x1="0" y1="54.5" x2="492" y2="54.5" stroke="#000" stroke-opacity="0.36" stroke-width="1"/>
<line x1="0" y1="190.5" x2="492" y2="190.5" stroke="#000" stroke-opacity="0.36" stroke-width="1"/>
<line x1="0" y1="326.5" x2="492" y2="326.5" stroke="#000" stroke-opacity="0.36" stroke-width="1"/>
<text y="59" font-family="Liberation Sans" font-size="11.5" fill="#111" stroke="#111" stroke-width="0.2"><tspan x="3.9">34</tspan><tspan x="18.1">°</tspan><tspan x="24.1" letter-spacing="0.5">00'N</tspan></text>
<text y="195.5" font-family="Liberation Sans" font-size="11.5" fill="#111" stroke="#111" stroke-width="0.2"><tspan x="3.9">33</tspan><tspan x="18.1">°</tspan><tspan x="24.1" letter-spacing="0.5">45'N</tspan></text>
<text y="331.5" font-family="Liberation Sans" font-size="11.5" fill="#111" stroke="#111" stroke-width="0.2"><tspan x="3.9">33</tspan><tspan x="18.1">°</tspan><tspan x="24.1" letter-spacing="0.5">30'N</tspan></text>
<text y="433.3" font-family="Liberation Sans" font-size="11.5" fill="#111" stroke="#111" stroke-width="0.2"><tspan x="30.9" letter-spacing="0.5">135</tspan><tspan x="51.5">°</tspan><tspan x="56.5" letter-spacing="0.75">00'E</tspan></text>
<text y="433.3" font-family="Liberation Sans" font-size="11.5" fill="#111" stroke="#111" stroke-width="0.2"><tspan x="167.9" letter-spacing="0.5">135</tspan><tspan x="188.5">°</tspan><tspan x="193.5" letter-spacing="0.75">15'E</tspan></text>
<text y="433.3" font-family="Liberation Sans" font-size="11.5" fill="#111" stroke="#111" stroke-width="0.2"><tspan x="303.9" letter-spacing="0.5">135</tspan><tspan x="324.5">°</tspan><tspan x="329.5" letter-spacing="0.75">30'E</tspan></text>
<text y="433.3" font-family="Liberation Sans" font-size="11.5" fill="#111" stroke="#111" stroke-width="0.2"><tspan x="440.4" letter-spacing="0.5">135</tspan><tspan x="461.0">°</tspan><tspan x="466.0" letter-spacing="0.75">45'E</tspan></text>
<text x="260" y="82" text-anchor="middle" font-family="Liberation Sans" font-size="12" fill="#111" stroke="#111" stroke-width="0.15">km</text>
<rect x="210" y="95" width="100" height="4" fill="#fff" stroke="#555" stroke-width="0.6"/>
<rect x="210" y="95" width="25" height="4" fill="#000"/>
<rect x="260" y="95" width="25" height="4" fill="#000"/>
<line x1="210" y1="95" x2="210" y2="101.5" stroke="#555" stroke-width="0.8"/>
<line x1="260" y1="95" x2="260" y2="101.5" stroke="#555" stroke-width="0.8"/>
<line x1="310" y1="95" x2="310" y2="101.5" stroke="#555" stroke-width="0.8"/>
<text x="210" y="113" text-anchor="middle" font-family="Liberation Sans" font-size="10.5" fill="#111" stroke="#111" stroke-width="0.15">0</text>
<text x="260" y="113" text-anchor="middle" font-family="Liberation Sans" font-size="10.5" fill="#111" stroke="#111" stroke-width="0.15">10</text>
<text x="310" y="113" text-anchor="middle" font-family="Liberation Sans" font-size="10.5" fill="#111" stroke="#111" stroke-width="0.15">20</text>
<text x="414.4" y="28.8" text-anchor="middle" font-family="Liberation Sans" font-size="12" fill="#111" stroke="#111" stroke-width="0.15">[m/s]</text>
<rect x="407" y="56.50" width="9" height="29.10" fill="#dd0000"/>
<rect x="407" y="85.30" width="9" height="29.10" fill="#ff4400"/>
<rect x="407" y="114.10" width="9" height="29.10" fill="#ff9900"/>
<rect x="407" y="142.90" width="9" height="29.10" fill="#ffff00"/>
<rect x="407" y="171.70" width="9" height="29.10" fill="#ffff00"/>
<rect x="407" y="200.50" width="9" height="29.10" fill="#33ee33"/>
<rect x="407" y="229.30" width="9" height="29.10" fill="#00b090"/>
<rect x="407" y="258.10" width="9" height="29.10" fill="#0022dd"/>
<polygon points="407,56.5 411.5,42.5 416,56.5" fill="#000"/>
<polygon points="407,286.9 411.5,299.9 416,286.9" fill="#fff" stroke="#000" stroke-width="0.8"/>
<rect x="407" y="56.5" width="9" height="230.40" fill="none" stroke="#000" stroke-width="1"/>
<line x1="407" y1="85.30" x2="416" y2="85.30" stroke="#000" stroke-opacity="0.25" stroke-width="0.5"/>
<line x1="407" y1="114.10" x2="416" y2="114.10" stroke="#000" stroke-opacity="0.25" stroke-width="0.5"/>
<line x1="407" y1="142.90" x2="416" y2="142.90" stroke="#000" stroke-opacity="0.25" stroke-width="0.5"/>
<line x1="407" y1="171.70" x2="416" y2="171.70" stroke="#000" stroke-opacity="0.25" stroke-width="0.5"/>
<line x1="407" y1="200.50" x2="416" y2="200.50" stroke="#000" stroke-opacity="0.25" stroke-width="0.5"/>
<line x1="407" y1="229.30" x2="416" y2="229.30" stroke="#000" stroke-opacity="0.25" stroke-width="0.5"/>
<line x1="407" y1="258.10" x2="416" y2="258.10" stroke="#000" stroke-opacity="0.25" stroke-width="0.5"/>
<text x="419.5" y="60.50" font-family="Liberation Sans" font-size="11.3" fill="#111" stroke="#111" stroke-width="0.15">7.5</text>
<text x="419.5" y="89.30" font-family="Liberation Sans" font-size="11.3" fill="#111" stroke="#111" stroke-width="0.15">7.0</text>
<text x="419.5" y="118.10" font-family="Liberation Sans" font-size="11.3" fill="#111" stroke="#111" stroke-width="0.15">6.5</text>
<text x="419.5" y="146.90" font-family="Liberation Sans" font-size="11.3" fill="#111" stroke="#111" stroke-width="0.15">6.0</text>
<text x="419.5" y="175.70" font-family="Liberation Sans" font-size="11.3" fill="#111" stroke="#111" stroke-width="0.15">5.5</text>
<text x="419.5" y="204.50" font-family="Liberation Sans" font-size="11.3" fill="#111" stroke="#111" stroke-width="0.15">5.0</text>
<text x="419.5" y="233.30" font-family="Liberation Sans" font-size="11.3" fill="#111" stroke="#111" stroke-width="0.15">4.5</text>
<text x="419.5" y="262.10" font-family="Liberation Sans" font-size="11.3" fill="#111" stroke="#111" stroke-width="0.15">4.0</text>
<text x="419.5" y="290.90" font-family="Liberation Sans" font-size="11.3" fill="#111" stroke="#111" stroke-width="0.15">3.5</text>
<rect x="0.5" y="0.5" width="491" height="435" fill="none" stroke="#333a48" stroke-width="1.2"/>
</svg></div>
<div class="pb"><svg width="492" height="436" viewBox="0 0 492 436" shape-rendering="crispEdges">
<path fill="#ffff00" d="M0 0h2.5v2.5h-2.5zM24.5 0h7.5v2.5h-7.5zM49 0h2.5v2.5h-2.5zM68.5 0h10v2.5h-10zM103 0h2.5v2.5h-2.5zM108 0h129.5v2.5h-129.5zM242.5 0h41.5v2.5h-41.5zM286.5 0h17.5v2.5h-17.5zM306 0h54v2.5h-54zM362.5 0h15v2.5h-15zM380 0h112v2.5h-112zM27 2.5h5v2.5h-5zM71 2.5h2.5v2.5h-2.5zM108 2.5h176v2.5h-176zM291.5 2.5h200.5v2.5h-200.5zM54 5h5v2.5h-5zM105.5 5h181v2.5h-181zM289 5h203v2.5h-203zM49 7.5h2.5v2.5h-2.5zM54 7.5h5v2.5h-5zM103 7.5h2.5v2.5h-2.5zM108 7.5h269.5v2.5h-269.5zM382 7.5h110v2.5h-110zM46.5 10h5v2h-5zM54 10h7.5v2h-7.5zM88 10h7.5v2h-7.5zM103 10h379.5v2h-379.5zM485 10h7v2h-7zM54 12h5v2.5h-5zM68.5 12h2.5v2.5h-2.5zM90.5 12h5v2.5h-5zM103 12h213v2.5h-213zM323.5 12h168.5v2.5h-168.5zM0 14.5h14.5v2.5h-14.5zM54 14.5h9.5v2.5h-9.5zM90.5 14.5h2.5v2.5h-2.5zM147 14.5h10v2.5h-10zM159 14.5h159.5v2.5h-159.5zM323.5 14.5h58.5v2.5h-58.5zM384.5 14.5h107.5v2.5h-107.5zM0 17h14.5v2.5h-14.5zM54 17h9.5v2.5h-9.5zM83.5 17h2.5v2.5h-2.5zM88 17h2.5v2.5h-2.5zM147 17h7.5v2.5h-7.5zM159 17h223v2.5h-223zM384.5 17h44.5v2.5h-44.5zM433.5 17h58.5v2.5h-58.5zM0 19.5h63.5v2.5h-63.5zM149.5 19.5h147v2.5h-147zM299 19.5h193v2.5h-193zM0 22h63.5v2.5h-63.5zM71 22h2.5v2.5h-2.5zM81 22h2.5v2.5h-2.5zM147 22h147v2.5h-147zM301.5 22h115v2.5h-115zM419 22h73v2.5h-73zM0 24.5h54v2.5h-54zM61.5 24.5h2v2.5h-2zM68.5 24.5h7.5v2.5h-7.5zM147 24.5h340.5v2.5h-340.5zM0 27h54v2.5h-54zM61.5 27h2v2.5h-2zM71 27h5v2.5h-5zM147 27h115v2.5h-115zM264.5 27h227.5v2.5h-227.5zM0 29.5h29.5v2.5h-29.5zM32 29.5h27v2.5h-27zM63.5 29.5h5v2.5h-5zM152 29.5h110v2.5h-110zM264.5 29.5h49v2.5h-49zM316 29.5h73.5v2.5h-73.5zM392 29.5h81v2.5h-81zM475.5 29.5h16.5v2.5h-16.5zM0 32h59v2.5h-59zM63.5 32h5v2.5h-5zM152 32h340v2.5h-340zM0 34.5h61.5v2.5h-61.5zM66 34.5h7.5v2.5h-7.5zM152 34.5h340v2.5h-340zM0 37h61.5v2h-61.5zM68.5 37h5v2h-5zM152 37h201v2h-201zM355 37h137v2h-137zM0 39h63.5v2.5h-63.5zM68.5 39h5v2.5h-5zM152 39h198.5v2.5h-198.5zM355 39h22.5v2.5h-22.5zM380 39h112v2.5h-112zM0 41.5h19.5v2.5h-19.5zM24.5 41.5h12.5v2.5h-12.5zM39 41.5h34.5v2.5h-34.5zM152 41.5h340v2.5h-340zM0 44h22v2.5h-22zM24.5 44h12.5v2.5h-12.5zM39 44h39.5v2.5h-39.5zM147 44h345v2.5h-345zM0 46.5h78.5v2.5h-78.5zM147 46.5h19.5v2.5h-19.5zM169 46.5h279.5v2.5h-279.5zM453.5 46.5h38.5v2.5h-38.5zM0 49h10v2.5h-10zM12 49h76v2.5h-76zM142 49h24.5v2.5h-24.5zM169 49h323v2.5h-323zM0 51.5h88v2.5h-88zM142 51.5h140v2.5h-140zM284 51.5h100.5v2.5h-100.5zM387 51.5h105v2.5h-105zM0 54h17v2.5h-17zM22 54h2.5v2.5h-2.5zM44 54h34.5v2.5h-34.5zM98 54h39v2.5h-39zM142 54h135v2.5h-135zM284 54h100.5v2.5h-100.5zM387 54h105v2.5h-105zM0 56.5h24.5v2.5h-24.5zM44 56.5h34.5v2.5h-34.5zM98 56.5h39v2.5h-39zM139.5 56.5h215.5v2.5h-215.5zM360 56.5h132v2.5h-132zM0 59h2.5v2.5h-2.5zM17 59h5v2.5h-5zM32 59h2.5v2.5h-2.5zM63.5 59h15v2.5h-15zM98 59h95.5v2.5h-95.5zM196 59h147v2.5h-147zM345.5 59h9.5v2.5h-9.5zM360 59h132v2.5h-132zM0 61.5h5v2h-5zM17 61.5h5v2h-5zM32 61.5h5v2h-5zM59 61.5h2.5v2h-2.5zM63.5 61.5h15v2h-15zM98 61.5h95.5v2h-95.5zM198.5 61.5h269.5v2h-269.5zM470.5 61.5h21.5v2h-21.5zM0 63.5h5v2.5h-5zM22 63.5h5v2.5h-5zM54 63.5h19.5v2.5h-19.5zM98 63.5h76v2.5h-76zM176.5 63.5h17v2.5h-17zM198.5 63.5h17v2.5h-17zM218 63.5h110.5v2.5h-110.5zM331 63.5h137v2.5h-137zM473 63.5h19v2.5h-19zM0 66h5v2.5h-5zM22 66h5v2.5h-5zM54 66h7.5v2.5h-7.5zM63.5 66h10v2.5h-10zM98 66h76v2.5h-76zM179 66h27v2.5h-27zM208.5 66h120v2.5h-120zM331 66h129.5v2.5h-129.5zM463 66h29v2.5h-29zM0 68.5h2.5v2.5h-2.5zM17 68.5h10v2.5h-10zM59 68.5h2.5v2.5h-2.5zM63.5 68.5h10v2.5h-10zM98 68.5h235v2.5h-235zM340.5 68.5h151.5v2.5h-151.5zM14.5 71h12.5v2.5h-12.5zM63.5 71h10v2.5h-10zM98 71h159v2.5h-159zM259.5 71h232.5v2.5h-232.5zM14.5 73.5h10v2.5h-10zM63.5 73.5h15v2.5h-15zM98 73.5h76v2.5h-76zM179 73.5h313v2.5h-313zM2.5 76h2.5v2.5h-2.5zM29.5 76h2.5v2.5h-2.5zM44 76h5v2.5h-5zM59 76h19.5v2.5h-19.5zM98 76h76v2.5h-76zM176.5 76h14.5v2.5h-14.5zM193.5 76h298.5v2.5h-298.5zM0 78.5h5v2.5h-5zM27 78.5h5v2.5h-5zM61.5 78.5h17v2.5h-17zM98 78.5h68.5v2.5h-68.5zM169 78.5h22v2.5h-22zM193.5 78.5h296.5v2.5h-296.5zM0 81h5v2.5h-5zM63.5 81h15v2.5h-15zM98 81h250v2.5h-250zM350.5 81h141.5v2.5h-141.5zM0 83.5h2.5v2.5h-2.5zM27 83.5h2.5v2.5h-2.5zM66 83.5h10v2.5h-10zM81 83.5h2.5v2.5h-2.5zM98 83.5h215.5v2.5h-215.5zM316 83.5h32v2.5h-32zM353 83.5h139v2.5h-139zM24.5 86h7.5v2h-7.5zM66 86h10v2h-10zM78.5 86h5v2h-5zM98 86h215.5v2h-215.5zM316 86h32v2h-32zM353 86h29v2h-29zM384.5 86h54v2h-54zM441 86h51v2h-51zM17 88h5v2.5h-5zM27 88h10v2.5h-10zM63.5 88h20v2.5h-20zM103 88h210.5v2.5h-210.5zM316 88h122.5v2.5h-122.5zM441 88h51v2.5h-51zM0 90.5h2.5v2.5h-2.5zM14.5 90.5h7.5v2.5h-7.5zM29.5 90.5h7.5v2.5h-7.5zM41.5 90.5h2.5v2.5h-2.5zM63.5 90.5h20v2.5h-20zM103 90.5h389v2.5h-389zM0 93h2.5v2.5h-2.5zM41.5 93h2.5v2.5h-2.5zM63.5 93h20v2.5h-20zM98 93h127.5v2.5h-127.5zM230.5 93h29v2.5h-29zM267 93h225v2.5h-225zM41.5 95.5h5v2.5h-5zM59 95.5h14.5v2.5h-14.5zM76 95.5h7.5v2.5h-7.5zM98 95.5h127.5v2.5h-127.5zM230.5 95.5h31.5v2.5h-31.5zM264.5 95.5h122.5v2.5h-122.5zM389.5 95.5h102.5v2.5h-102.5zM41.5 98h7.5v2.5h-7.5zM61.5 98h22v2.5h-22zM98 98h2.5v2.5h-2.5zM103 98h125v2.5h-125zM230.5 98h261.5v2.5h-261.5zM14.5 100.5h5v2.5h-5zM41.5 100.5h7.5v2.5h-7.5zM59 100.5h24.5v2.5h-24.5zM98 100.5h2.5v2.5h-2.5zM103 100.5h389v2.5h-389zM44 103h5v2.5h-5zM59 103h24.5v2.5h-24.5zM98 103h2.5v2.5h-2.5zM103 103h29.5v2.5h-29.5zM206 103h286v2.5h-286zM10 105.5h2v2.5h-2zM19.5 105.5h5v2.5h-5zM32 105.5h5v2.5h-5zM59 105.5h24.5v2.5h-24.5zM103 105.5h29.5v2.5h-29.5zM206 105.5h78v2.5h-78zM289 105.5h203v2.5h-203zM22 108h2.5v2.5h-2.5zM59 108h24.5v2.5h-24.5zM206 108h235v2.5h-235zM446 108h46v2.5h-46zM7.5 110.5h2.5v2h-2.5zM59 110.5h24.5v2h-24.5zM206 110.5h151.5v2h-151.5zM360 110.5h12.5v2h-12.5zM377.5 110.5h114.5v2h-114.5zM2.5 112.5h7.5v2.5h-7.5zM59 112.5h24.5v2.5h-24.5zM210.5 112.5h98v2.5h-98zM311 112.5h179v2.5h-179zM5 115h5v2.5h-5zM59 115h24.5v2.5h-24.5zM210.5 115h95.5v2.5h-95.5zM311 115h181v2.5h-181zM59 117.5h29v2.5h-29zM220.5 117.5h271.5v2.5h-271.5zM19.5 120h2.5v2.5h-2.5zM59 120h29v2.5h-29zM220.5 120h95.5v2.5h-95.5zM318.5 120h173.5v2.5h-173.5zM0 122.5h5v2.5h-5zM59 122.5h39v2.5h-39zM225.5 122.5h188.5v2.5h-188.5zM416.5 122.5h75.5v2.5h-75.5zM2.5 125h7.5v2.5h-7.5zM59 125h39v2.5h-39zM225.5 125h76v2.5h-76zM304 125h188v2.5h-188zM5 127.5h5v2.5h-5zM63.5 127.5h39.5v2.5h-39.5zM230.5 127.5h261.5v2.5h-261.5zM5 130h5v2.5h-5zM63.5 130h39.5v2.5h-39.5zM230.5 130h34v2.5h-34zM267 130h225v2.5h-225zM0 132.5h10v2.5h-10zM63.5 132.5h44.5v2.5h-44.5zM235 132.5h22v2.5h-22zM259.5 132.5h181.5v2.5h-181.5zM443.5 132.5h48.5v2.5h-48.5zM0 135h10v2h-10zM63.5 135h44.5v2h-44.5zM235 135h29.5v2h-29.5zM269.5 135h222.5v2h-222.5zM0 137h5v2.5h-5zM63.5 137h44.5v2.5h-44.5zM240 137h24.5v2.5h-24.5zM269.5 137h49v2.5h-49zM326 137h22v2.5h-22zM350.5 137h141.5v2.5h-141.5zM0 139.5h5v2.5h-5zM63.5 139.5h44.5v2.5h-44.5zM240 139.5h22v2.5h-22zM267 139.5h51.5v2.5h-51.5zM326 139.5h22v2.5h-22zM350.5 139.5h141.5v2.5h-141.5zM0 142h7.5v2.5h-7.5zM68.5 142h44v2.5h-44zM245 142h17v2.5h-17zM267 142h54v2.5h-54zM323.5 142h168.5v2.5h-168.5zM68.5 144.5h24.5v2.5h-24.5zM95.5 144.5h17v2.5h-17zM245 144.5h14.5v2.5h-14.5zM264.5 144.5h110.5v2.5h-110.5zM377.5 144.5h114.5v2.5h-114.5zM0 147h7.5v2.5h-7.5zM68.5 147h44v2.5h-44zM250 147h176.5v2.5h-176.5zM429 147h63v2.5h-63zM0 149.5h10v2.5h-10zM61.5 149.5h2v2.5h-2zM68.5 149.5h44v2.5h-44zM250 149.5h105v2.5h-105zM360 149.5h46.5v2.5h-46.5zM409 149.5h22v2.5h-22zM433.5 149.5h58.5v2.5h-58.5zM2.5 152h7.5v2.5h-7.5zM59 152h4.5v2.5h-4.5zM68.5 152h39.5v2.5h-39.5zM110.5 152h2v2.5h-2zM255 152h178.5v2.5h-178.5zM436 152h56v2.5h-56zM2.5 154.5h7.5v2.5h-7.5zM68.5 154.5h37v2.5h-37zM110.5 154.5h2v2.5h-2zM255 154.5h178.5v2.5h-178.5zM438.5 154.5h53.5v2.5h-53.5zM0 157h10v2h-10zM68.5 157h22v2h-22zM93 157h12.5v2h-12.5zM108 157h9.5v2h-9.5zM259.5 157h232.5v2h-232.5zM0 159h10v2.5h-10zM68.5 159h49v2.5h-49zM259.5 159h120.5v2.5h-120.5zM382 159h5v2.5h-5zM392 159h37v2.5h-37zM433.5 159h58.5v2.5h-58.5zM0 161.5h5v2.5h-5zM7.5 161.5h2.5v2.5h-2.5zM73.5 161.5h14.5v2.5h-14.5zM90.5 161.5h32v2.5h-32zM264.5 161.5h113v2.5h-113zM382 161.5h5v2.5h-5zM389.5 161.5h41.5v2.5h-41.5zM433.5 161.5h58.5v2.5h-58.5zM0 164h10v2.5h-10zM73.5 164h12.5v2.5h-12.5zM90.5 164h32v2.5h-32zM264.5 164h227.5v2.5h-227.5zM0 166.5h10v2.5h-10zM73.5 166.5h10v2.5h-10zM90.5 166.5h32v2.5h-32zM269.5 166.5h29.5v2.5h-29.5zM304 166.5h188v2.5h-188zM5 169h5v2.5h-5zM73.5 169h7.5v2.5h-7.5zM88 169h34.5v2.5h-34.5zM269.5 169h29.5v2.5h-29.5zM301.5 169h152v2.5h-152zM455.5 169h15v2.5h-15zM478 169h14v2.5h-14zM5 171.5h5v2.5h-5zM83.5 171.5h44v2.5h-44zM274.5 171.5h17v2.5h-17zM296.5 171.5h17v2.5h-17zM316 171.5h59v2.5h-59zM380 171.5h90.5v2.5h-90.5zM478 171.5h14v2.5h-14zM5 174h5v2.5h-5zM83.5 174h44v2.5h-44zM274.5 174h17v2.5h-17zM296.5 174h195.5v2.5h-195.5zM2.5 176.5h7.5v2.5h-7.5zM76 176.5h2.5v2.5h-2.5zM88 176.5h44.5v2.5h-44.5zM279.5 176.5h134.5v2.5h-134.5zM416.5 176.5h75.5v2.5h-75.5zM2.5 179h7.5v2.5h-7.5zM88 179h44.5v2.5h-44.5zM279.5 179h51.5v2.5h-51.5zM333 179h159v2.5h-159zM2.5 181.5h7.5v2.5h-7.5zM93 181.5h34.5v2.5h-34.5zM132.5 181.5h4.5v2.5h-4.5zM279.5 181.5h41.5v2.5h-41.5zM326 181.5h5v2.5h-5zM335.5 181.5h56.5v2.5h-56.5zM397 181.5h95v2.5h-95zM81 184h2.5v2h-2.5zM93 184h34.5v2h-34.5zM132.5 184h4.5v2h-4.5zM279.5 184h68.5v2h-68.5zM350.5 184h44v2h-44zM397 184h95v2h-95zM81 186h2.5v2.5h-2.5zM93 186h34.5v2.5h-34.5zM132.5 186h9.5v2.5h-9.5zM284 186h56.5v2.5h-56.5zM343 186h78.5v2.5h-78.5zM426.5 186h65.5v2.5h-65.5zM68.5 188.5h2.5v2.5h-2.5zM93 188.5h49v2.5h-49zM284 188.5h137.5v2.5h-137.5zM424 188.5h68v2.5h-68zM68.5 191h5v2.5h-5zM98 191h49v2.5h-49zM289 191h169v2.5h-169zM460.5 191h31.5v2.5h-31.5zM68.5 193.5h7.5v2.5h-7.5zM98 193.5h49v2.5h-49zM289 193.5h166.5v2.5h-166.5zM458 193.5h34v2.5h-34zM7.5 196h2.5v2.5h-2.5zM81 196h5v2.5h-5zM103 196h19.5v2.5h-19.5zM127.5 196h24.5v2.5h-24.5zM294 196h12v2.5h-12zM308.5 196h183.5v2.5h-183.5zM73.5 198.5h2.5v2.5h-2.5zM78.5 198.5h7.5v2.5h-7.5zM95.5 198.5h2.5v2.5h-2.5zM103 198.5h49v2.5h-49zM294 198.5h12v2.5h-12zM308.5 198.5h64v2.5h-64zM375 198.5h117v2.5h-117zM12 201h2.5v2.5h-2.5zM78.5 201h7.5v2.5h-7.5zM93 201h5v2.5h-5zM108 201h49v2.5h-49zM304 201h2v2.5h-2zM311 201h157v2.5h-157zM470.5 201h21.5v2.5h-21.5zM12 203.5h2.5v2.5h-2.5zM78.5 203.5h5v2.5h-5zM93 203.5h5v2.5h-5zM108 203.5h24.5v2.5h-24.5zM137 203.5h20v2.5h-20zM304 203.5h98v2.5h-98zM406.5 203.5h85.5v2.5h-85.5zM12 206h2.5v2.5h-2.5zM112.5 206h17.5v2.5h-17.5zM142 206h19.5v2.5h-19.5zM313.5 206h88.5v2.5h-88.5zM404.5 206h87.5v2.5h-87.5zM112.5 208.5h2.5v2h-2.5zM120 208.5h7.5v2h-7.5zM142 208.5h19.5v2h-19.5zM313.5 208.5h27v2h-27zM345.5 208.5h112.5v2h-112.5zM465.5 208.5h26.5v2h-26.5zM103 210.5h2.5v2.5h-2.5zM120 210.5h7.5v2.5h-7.5zM139.5 210.5h22v2.5h-22zM323.5 210.5h14.5v2.5h-14.5zM343 210.5h132.5v2.5h-132.5zM478 210.5h14v2.5h-14zM0 213h5v2.5h-5zM103 213h2.5v2.5h-2.5zM117.5 213h10v2.5h-10zM137 213h24.5v2.5h-24.5zM323.5 213h14.5v2.5h-14.5zM343 213h130v2.5h-130zM475.5 213h16.5v2.5h-16.5zM0 215.5h5v2.5h-5zM117.5 215.5h5v2.5h-5zM127.5 215.5h5v2.5h-5zM137 215.5h10v2.5h-10zM152 215.5h14.5v2.5h-14.5zM328.5 215.5h163.5v2.5h-163.5zM0 218h2.5v2.5h-2.5zM117.5 218h2.5v2.5h-2.5zM127.5 218h5v2.5h-5zM137 218h29.5v2.5h-29.5zM328.5 218h163.5v2.5h-163.5zM0 220.5h10v2.5h-10zM127.5 220.5h7.5v2.5h-7.5zM137 220.5h17.5v2.5h-17.5zM157 220.5h9.5v2.5h-9.5zM338 220.5h42v2.5h-42zM382 220.5h105.5v2.5h-105.5zM0 223h10v2.5h-10zM112.5 223h2.5v2.5h-2.5zM122.5 223h2.5v2.5h-2.5zM127.5 223h9.5v2.5h-9.5zM139.5 223h15v2.5h-15zM157 223h9.5v2.5h-9.5zM338 223h39.5v2.5h-39.5zM384.5 223h91v2.5h-91zM480 223h12v2.5h-12zM0 225.5h10v2.5h-10zM122.5 225.5h22v2.5h-22zM157 225.5h7v2.5h-7zM348 225.5h127.5v2.5h-127.5zM480 225.5h12v2.5h-12zM0 228h10v2.5h-10zM17 228h5v2.5h-5zM122.5 228h17v2.5h-17zM157 228h9.5v2.5h-9.5zM348 228h76v2.5h-76zM426.5 228h65.5v2.5h-65.5zM0 230.5h10v2.5h-10zM29.5 230.5h2.5v2.5h-2.5zM127.5 230.5h12v2.5h-12zM144.5 230.5h2.5v2.5h-2.5zM152 230.5h19.5v2.5h-19.5zM355 230.5h135v2.5h-135zM0 233h10v2h-10zM127.5 233h19.5v2h-19.5zM152 233h19.5v2h-19.5zM353 233h85.5v2h-85.5zM443.5 233h46.5v2h-46.5zM0 235h10v2.5h-10zM127.5 235h22v2.5h-22zM152 235h7v2.5h-7zM161.5 235h20v2.5h-20zM362.5 235h56.5v2.5h-56.5zM421.5 235h17v2.5h-17zM443.5 235h48.5v2.5h-48.5zM0 237.5h10v2.5h-10zM51.5 237.5h2.5v2.5h-2.5zM132.5 237.5h19.5v2.5h-19.5zM157 237.5h2v2.5h-2zM161.5 237.5h20v2.5h-20zM365 237.5h54v2.5h-54zM421.5 237.5h70.5v2.5h-70.5zM0 240h10v2.5h-10zM27 240h2.5v2.5h-2.5zM51.5 240h2.5v2.5h-2.5zM63.5 240h2.5v2.5h-2.5zM122.5 240h7.5v2.5h-7.5zM132.5 240h17v2.5h-17zM157 240h4.5v2.5h-4.5zM166.5 240h19.5v2.5h-19.5zM367.5 240h100.5v2.5h-100.5zM473 240h19v2.5h-19zM0 242.5h10v2.5h-10zM27 242.5h5v2.5h-5zM63.5 242.5h2.5v2.5h-2.5zM122.5 242.5h7.5v2.5h-7.5zM132.5 242.5h17v2.5h-17zM154.5 242.5h7v2.5h-7zM164 242.5h22v2.5h-22zM367.5 242.5h124.5v2.5h-124.5zM0 245h10v2.5h-10zM83.5 245h2.5v2.5h-2.5zM132.5 245h14.5v2.5h-14.5zM154.5 245h41.5v2.5h-41.5zM372.5 245h119.5v2.5h-119.5zM0 247.5h10v2.5h-10zM22 247.5h2.5v2.5h-2.5zM81 247.5h5v2.5h-5zM132.5 247.5h2.5v2.5h-2.5zM142 247.5h7.5v2.5h-7.5zM154.5 247.5h41.5v2.5h-41.5zM372.5 247.5h119.5v2.5h-119.5zM0 250h10v2.5h-10zM24.5 250h2.5v2.5h-2.5zM61.5 250h2v2.5h-2zM78.5 250h7.5v2.5h-7.5zM88 250h7.5v2.5h-7.5zM142 250h24.5v2.5h-24.5zM169 250h32v2.5h-32zM382 250h110v2.5h-110zM0 252.5h10v2.5h-10zM61.5 252.5h4.5v2.5h-4.5zM78.5 252.5h7.5v2.5h-7.5zM88 252.5h5v2.5h-5zM137 252.5h2.5v2.5h-2.5zM142 252.5h24.5v2.5h-24.5zM169 252.5h32v2.5h-32zM382 252.5h110v2.5h-110zM0 255h10v2h-10zM61.5 255h4.5v2h-4.5zM81 255h2.5v2h-2.5zM88 255h2.5v2h-2.5zM137 255h5v2h-5zM147 255h59v2h-59zM392 255h2.5v2h-2.5zM399.5 255h92.5v2h-92.5zM0 257h10v2.5h-10zM61.5 257h2v2.5h-2zM86 257h2v2.5h-2zM137 257h2.5v2.5h-2.5zM147 257h17v2.5h-17zM169 257h5v2.5h-5zM176.5 257h29.5v2.5h-29.5zM392 257h5v2.5h-5zM399.5 257h92.5v2.5h-92.5zM0 259.5h10v2.5h-10zM63.5 259.5h5v2.5h-5zM86 259.5h2v2.5h-2zM149.5 259.5h7.5v2.5h-7.5zM174 259.5h2.5v2.5h-2.5zM181.5 259.5h4.5v2.5h-4.5zM188.5 259.5h22v2.5h-22zM402 259.5h90v2.5h-90zM0 262h10v2.5h-10zM63.5 262h5v2.5h-5zM149.5 262h5v2.5h-5zM171.5 262h5v2.5h-5zM181.5 262h29v2.5h-29zM402 262h90v2.5h-90zM0 264.5h10v2.5h-10zM41.5 264.5h7.5v2.5h-7.5zM66 264.5h2.5v2.5h-2.5zM147 264.5h2.5v2.5h-2.5zM152 264.5h2.5v2.5h-2.5zM161.5 264.5h5v2.5h-5zM171.5 264.5h5v2.5h-5zM181.5 264.5h19.5v2.5h-19.5zM206 264.5h9.5v2.5h-9.5zM411.5 264.5h80.5v2.5h-80.5zM0 267h10v2.5h-10zM41.5 267h10v2.5h-10zM147 267h12v2.5h-12zM161.5 267h5v2.5h-5zM174 267h27v2.5h-27zM206 267h9.5v2.5h-9.5zM411.5 267h80.5v2.5h-80.5zM0 269.5h14.5v2.5h-14.5zM46.5 269.5h5v2.5h-5zM157 269.5h9.5v2.5h-9.5zM174 269.5h27v2.5h-27zM206 269.5h19.5v2.5h-19.5zM421.5 269.5h70.5v2.5h-70.5zM0 272h14.5v2.5h-14.5zM19.5 272h5v2.5h-5zM157 272h4.5v2.5h-4.5zM174 272h27v2.5h-27zM206 272h19.5v2.5h-19.5zM421.5 272h70.5v2.5h-70.5zM0 274.5h19.5v2.5h-19.5zM164 274.5h5v2.5h-5zM176.5 274.5h27v2.5h-27zM206 274.5h14.5v2.5h-14.5zM225.5 274.5h9.5v2.5h-9.5zM426.5 274.5h65.5v2.5h-65.5zM0 277h19.5v2.5h-19.5zM63.5 277h5v2.5h-5zM161.5 277h17.5v2.5h-17.5zM186 277h37v2.5h-37zM225.5 277h9.5v2.5h-9.5zM426.5 277h65.5v2.5h-65.5zM0 279.5h24.5v2.5h-24.5zM56.5 279.5h2.5v2.5h-2.5zM61.5 279.5h7v2.5h-7zM83.5 279.5h24.5v2.5h-24.5zM166.5 279.5h15v2.5h-15zM186 279.5h54v2.5h-54zM431 279.5h61v2.5h-61zM0 282h24.5v2h-24.5zM46.5 282h2.5v2h-2.5zM56.5 282h9.5v2h-9.5zM83.5 282h24.5v2h-24.5zM166.5 282h15v2h-15zM184 282h56v2h-56zM431 282h61v2h-61zM0 284h24.5v2.5h-24.5zM63.5 284h10v2.5h-10zM78.5 284h39v2.5h-39zM171.5 284h54v2.5h-54zM228 284h22v2.5h-22zM436 284h54v2.5h-54zM0 286.5h24.5v2.5h-24.5zM63.5 286.5h49v2.5h-49zM171.5 286.5h46.5v2.5h-46.5zM220.5 286.5h29.5v2.5h-29.5zM436 286.5h56v2.5h-56zM0 289h29.5v2.5h-29.5zM44 289h2.5v2.5h-2.5zM59 289h39v2.5h-39zM100.5 289h12v2.5h-12zM176.5 289h41.5v2.5h-41.5zM220.5 289h44v2.5h-44zM446 289h46v2.5h-46zM0 291.5h29.5v2.5h-29.5zM34.5 291.5h2.5v2.5h-2.5zM44 291.5h2.5v2.5h-2.5zM59 291.5h53.5v2.5h-53.5zM176.5 291.5h88v2.5h-88zM446 291.5h36.5v2.5h-36.5zM485 291.5h7v2.5h-7zM0 294h34.5v2.5h-34.5zM54 294h63.5v2.5h-63.5zM181.5 294h44v2.5h-44zM235 294h39.5v2.5h-39.5zM451 294h41v2.5h-41zM0 296.5h34.5v2.5h-34.5zM54 296.5h63.5v2.5h-63.5zM181.5 296.5h44v2.5h-44zM230.5 296.5h2.5v2.5h-2.5zM235 296.5h39.5v2.5h-39.5zM451 296.5h41v2.5h-41zM0 299h39v2.5h-39zM54 299h63.5v2.5h-63.5zM181.5 299h39v2.5h-39zM240 299h44v2.5h-44zM465.5 299h26.5v2.5h-26.5zM0 301.5h39v2.5h-39zM54 301.5h63.5v2.5h-63.5zM181.5 301.5h39v2.5h-39zM240 301.5h44v2.5h-44zM465.5 301.5h26.5v2.5h-26.5zM0 304h5v2h-5zM7.5 304h36.5v2h-36.5zM49 304h10v2h-10zM61.5 304h39v2h-39zM103 304h17v2h-17zM181.5 304h27v2h-27zM210.5 304h10v2h-10zM245 304h49v2h-49zM475.5 304h16.5v2h-16.5zM0 306h44v2.5h-44zM49 306h27v2.5h-27zM78.5 306h19.5v2.5h-19.5zM100.5 306h22v2.5h-22zM181.5 306h39v2.5h-39zM245 306h49v2.5h-49zM475.5 306h16.5v2.5h-16.5zM0 308.5h122.5v2.5h-122.5zM181.5 308.5h29v2.5h-29zM220.5 308.5h2.5v2.5h-2.5zM245 308.5h59v2.5h-59zM480 308.5h12v2.5h-12zM0 311h122.5v2.5h-122.5zM181.5 311h29v2.5h-29zM237.5 311h5v2.5h-5zM245 311h56.5v2.5h-56.5zM304 311h4.5v2.5h-4.5zM480 311h12v2.5h-12zM0 313.5h125v2.5h-125zM186 313.5h15v2.5h-15zM250 313.5h63.5v2.5h-63.5zM490 313.5h2v2.5h-2zM0 316h37v2.5h-37zM39 316h88.5v2.5h-88.5zM186 316h15v2.5h-15zM250 316h63.5v2.5h-63.5zM490 316h2v2.5h-2zM0 318.5h37v2.5h-37zM39 318.5h88.5v2.5h-88.5zM184 318.5h4.5v2.5h-4.5zM259.5 318.5h5v2.5h-5zM269.5 318.5h2.5v2.5h-2.5zM274.5 318.5h29.5v2.5h-29.5zM306 318.5h22.5v2.5h-22.5zM0 321h37v2.5h-37zM41.5 321h86v2.5h-86zM132.5 321h2.5v2.5h-2.5zM259.5 321h69v2.5h-69zM0 323.5h39v2.5h-39zM41.5 323.5h61.5v2.5h-61.5zM108 323.5h19.5v2.5h-19.5zM269.5 323.5h68.5v2.5h-68.5zM0 326h103v2.5h-103zM108 326h22v2.5h-22zM269.5 326h68.5v2.5h-68.5zM0 328.5h127.5v2.5h-127.5zM289 328.5h2.5v2.5h-2.5zM294 328.5h54v2.5h-54zM490 328.5h2v2.5h-2zM0 331h127.5v2h-127.5zM289 331h59v2h-59zM490 331h2v2h-2zM0 333h78.5v2.5h-78.5zM83.5 333h49v2.5h-49zM286.5 333h66.5v2.5h-66.5zM485 333h7v2.5h-7zM0 335.5h78.5v2.5h-78.5zM81 335.5h51.5v2.5h-51.5zM286.5 335.5h22v2.5h-22zM311 335.5h42v2.5h-42zM485 335.5h7v2.5h-7zM0 338h2.5v2.5h-2.5zM7.5 338h125v2.5h-125zM179 338h2.5v2.5h-2.5zM191 338h2.5v2.5h-2.5zM294 338h14.5v2.5h-14.5zM311 338h46.5v2.5h-46.5zM480 338h12v2.5h-12zM0 340.5h5v2.5h-5zM7.5 340.5h125v2.5h-125zM242.5 340.5h2.5v2.5h-2.5zM294 340.5h63.5v2.5h-63.5zM480 340.5h12v2.5h-12zM0 343h132.5v2.5h-132.5zM242.5 343h7.5v2.5h-7.5zM299 343h19.5v2.5h-19.5zM323.5 343h49v2.5h-49zM475.5 343h16.5v2.5h-16.5zM0 345.5h44v2.5h-44zM46.5 345.5h86v2.5h-86zM245 345.5h7.5v2.5h-7.5zM299 345.5h19.5v2.5h-19.5zM323.5 345.5h49v2.5h-49zM475.5 345.5h16.5v2.5h-16.5zM0 348h44v2.5h-44zM46.5 348h90.5v2.5h-90.5zM225.5 348h5v2.5h-5zM245 348h2.5v2.5h-2.5zM333 348h127.5v2.5h-127.5zM465.5 348h26.5v2.5h-26.5zM0 350.5h137v2.5h-137zM225.5 350.5h2.5v2.5h-2.5zM252.5 350.5h2.5v2.5h-2.5zM333 350.5h66.5v2.5h-66.5zM402 350.5h27v2.5h-27zM433.5 350.5h27v2.5h-27zM465.5 350.5h26.5v2.5h-26.5zM0 353h137v2h-137zM252.5 353h2.5v2h-2.5zM348 353h144v2h-144zM0 355h137v2.5h-137zM284 355h2.5v2.5h-2.5zM348 355h144v2.5h-144zM0 357.5h137v2.5h-137zM272 357.5h2.5v2.5h-2.5zM357.5 357.5h113v2.5h-113zM0 360h137v2.5h-137zM149.5 360h2.5v2.5h-2.5zM357.5 360h113v2.5h-113zM2.5 362.5h134.5v2.5h-134.5zM372.5 362.5h36.5v2.5h-36.5zM411.5 362.5h59v2.5h-59zM0 365h93v2.5h-93zM95.5 365h41.5v2.5h-41.5zM372.5 365h36.5v2.5h-36.5zM411.5 365h59v2.5h-59zM0 367.5h137v2.5h-137zM382 367.5h88.5v2.5h-88.5zM0 370h56.5v2.5h-56.5zM59 370h78v2.5h-78zM191 370h2.5v2.5h-2.5zM382 370h88.5v2.5h-88.5zM0 372.5h142v2.5h-142zM397 372.5h73.5v2.5h-73.5zM0 375h142v2.5h-142zM397 375h54v2.5h-54zM453.5 375h14.5v2.5h-14.5zM0 377.5h142v2.5h-142zM362.5 377.5h7.5v2.5h-7.5zM382 377.5h10v2.5h-10zM411.5 377.5h56.5v2.5h-56.5zM475.5 377.5h16.5v2.5h-16.5zM0 380h142v2h-142zM362.5 380h10v2h-10zM382 380h10v2h-10zM411.5 380h27v2h-27zM443.5 380h27v2h-27zM475.5 380h16.5v2h-16.5zM0 382h142v2.5h-142zM193.5 382h5v2.5h-5zM326 382h2.5v2.5h-2.5zM357.5 382h17.5v2.5h-17.5zM380 382h4.5v2.5h-4.5zM387 382h5v2.5h-5zM421.5 382h17v2.5h-17zM443.5 382h48.5v2.5h-48.5zM0 384.5h68.5v2.5h-68.5zM73.5 384.5h68.5v2.5h-68.5zM166.5 384.5h2.5v2.5h-2.5zM208.5 384.5h4.5v2.5h-4.5zM242.5 384.5h5v2.5h-5zM357.5 384.5h12.5v2.5h-12.5zM372.5 384.5h14.5v2.5h-14.5zM421.5 384.5h70.5v2.5h-70.5zM0 387h71v2.5h-71zM76 387h39v2.5h-39zM120 387h22v2.5h-22zM166.5 387h2.5v2.5h-2.5zM355 387h12.5v2.5h-12.5zM382 387h7.5v2.5h-7.5zM431 387h61v2.5h-61zM0 389.5h37v2.5h-37zM39 389.5h32v2.5h-32zM76 389.5h36.5v2.5h-36.5zM117.5 389.5h24.5v2.5h-24.5zM257 389.5h2.5v2.5h-2.5zM357.5 389.5h2.5v2.5h-2.5zM362.5 389.5h5v2.5h-5zM382 389.5h2.5v2.5h-2.5zM387 389.5h5v2.5h-5zM431 389.5h61v2.5h-61zM0 392h142v2.5h-142zM188.5 392h5v2.5h-5zM228 392h2.5v2.5h-2.5zM257 392h2.5v2.5h-2.5zM436 392h56v2.5h-56zM0 394.5h142v2.5h-142zM228 394.5h2.5v2.5h-2.5zM436 394.5h56v2.5h-56zM0 397h142v2.5h-142zM436 397h56v2.5h-56zM0 399.5h142v2.5h-142zM436 399.5h56v2.5h-56zM0 402h147v2.5h-147zM304 402h2v2.5h-2zM318.5 402h2.5v2.5h-2.5zM441 402h51v2.5h-51zM0 404.5h10v2h-10zM12 404.5h132.5v2h-132.5zM304 404.5h4.5v2h-4.5zM313.5 404.5h7.5v2h-7.5zM323.5 404.5h2.5v2h-2.5zM441 404.5h51v2h-51zM0 406.5h142v2.5h-142zM304 406.5h2v2.5h-2zM321 406.5h2.5v2.5h-2.5zM441 406.5h51v2.5h-51zM0 409h142v2.5h-142zM321 409h2.5v2.5h-2.5zM382 409h5v2.5h-5zM441 409h51v2.5h-51zM0 411.5h142v2.5h-142zM255 411.5h2v2.5h-2zM382 411.5h5v2.5h-5zM441 411.5h51v2.5h-51zM0 414h37v2.5h-37zM39 414h81v2.5h-81zM122.5 414h19.5v2.5h-19.5zM370 414h2.5v2.5h-2.5zM441 414h51v2.5h-51zM0 416.5h34.5v2.5h-34.5zM39 416.5h103v2.5h-103zM382 416.5h2.5v2.5h-2.5zM441 416.5h51v2.5h-51zM0 419h142v2.5h-142zM169 419h5v2.5h-5zM345.5 419h2.5v2.5h-2.5zM441 419h51v2.5h-51zM0 421.5h147v2.5h-147zM169 421.5h5v2.5h-5zM377.5 421.5h2.5v2.5h-2.5zM441 421.5h51v2.5h-51zM0 424h19.5v2.5h-19.5zM22 424h125v2.5h-125zM169 424h2.5v2.5h-2.5zM441 424h32v2.5h-32zM475.5 424h4.5v2.5h-4.5zM482.5 424h9.5v2.5h-9.5zM0 426.5h147v2.5h-147zM441 426.5h29.5v2.5h-29.5zM475.5 426.5h16.5v2.5h-16.5zM0 429h14.5v2h-14.5zM19.5 429h86v2h-86zM108 429h39v2h-39zM306 429h5v2h-5zM348 429h5v2h-5zM441 429h51v2h-51zM0 431h14.5v2.5h-14.5zM19.5 431h86v2.5h-86zM112.5 431h27v2.5h-27zM142 431h5v2.5h-5zM159 431h2.5v2.5h-2.5zM313.5 431h2.5v2.5h-2.5zM441 431h51v2.5h-51zM0 433.5h14.5v2.5h-14.5zM19.5 433.5h29.5v2.5h-29.5zM51.5 433.5h36.5v2.5h-36.5zM93 433.5h12.5v2.5h-12.5zM115 433.5h22v2.5h-22zM142 433.5h5v2.5h-5zM313.5 433.5h2.5v2.5h-2.5zM438.5 433.5h29.5v2.5h-29.5zM473 433.5h19v2.5h-19z"/>
<path fill="#77ee22" d="M2.5 0h22v2.5h-22zM32 0h17v2.5h-17zM51.5 0h17v2.5h-17zM81 0h2.5v2.5h-2.5zM95.5 0h5v2.5h-5zM105.5 0h2.5v2.5h-2.5zM0 2.5h27v2.5h-27zM32 2.5h39v2.5h-39zM73.5 2.5h5v2.5h-5zM81 2.5h5v2.5h-5zM98 2.5h2.5v2.5h-2.5zM103 2.5h5v2.5h-5zM0 5h54v2.5h-54zM59 5h19.5v2.5h-19.5zM83.5 5h2.5v2.5h-2.5zM103 5h2.5v2.5h-2.5zM0 7.5h49v2.5h-49zM51.5 7.5h2.5v2.5h-2.5zM59 7.5h19.5v2.5h-19.5zM83.5 7.5h2.5v2.5h-2.5zM105.5 7.5h2.5v2.5h-2.5zM0 10h46.5v2h-46.5zM51.5 10h2.5v2h-2.5zM61.5 10h26.5v2h-26.5zM95.5 10h7.5v2h-7.5zM0 12h54v2.5h-54zM59 12h9.5v2.5h-9.5zM71 12h19.5v2.5h-19.5zM95.5 12h7.5v2.5h-7.5zM14.5 14.5h39.5v2.5h-39.5zM63.5 14.5h27v2.5h-27zM93 14.5h10v2.5h-10zM14.5 17h39.5v2.5h-39.5zM63.5 17h20v2.5h-20zM86 17h2v2.5h-2zM90.5 17h12.5v2.5h-12.5zM63.5 19.5h20v2.5h-20zM63.5 22h7.5v2.5h-7.5zM73.5 22h7.5v2.5h-7.5zM63.5 24.5h5v2.5h-5zM76 24.5h2.5v2.5h-2.5zM63.5 27h7.5v2.5h-7.5zM76 27h2.5v2.5h-2.5zM68.5 29.5h10v2.5h-10zM86 29.5h4.5v2.5h-4.5zM68.5 32h10v2.5h-10zM86 32h4.5v2.5h-4.5zM73.5 34.5h5v2.5h-5zM86 34.5h2v2.5h-2zM73.5 37h5v2h-5zM73.5 39h5v2.5h-5zM73.5 41.5h5v2.5h-5zM86 41.5h4.5v2.5h-4.5zM78.5 44h5v2.5h-5zM78.5 46.5h5v2.5h-5zM78.5 54h19.5v2.5h-19.5zM78.5 56.5h19.5v2.5h-19.5zM78.5 59h19.5v2.5h-19.5zM78.5 61.5h19.5v2h-19.5zM73.5 63.5h24.5v2.5h-24.5zM73.5 66h24.5v2.5h-24.5zM73.5 68.5h24.5v2.5h-24.5zM73.5 71h24.5v2.5h-24.5zM78.5 73.5h19.5v2.5h-19.5zM78.5 76h19.5v2.5h-19.5zM78.5 78.5h19.5v2.5h-19.5zM78.5 81h19.5v2.5h-19.5zM83.5 83.5h14.5v2.5h-14.5zM83.5 86h14.5v2h-14.5zM83.5 88h19.5v2.5h-19.5zM83.5 90.5h19.5v2.5h-19.5zM83.5 93h14.5v2.5h-14.5zM83.5 95.5h14.5v2.5h-14.5zM83.5 98h14.5v2.5h-14.5zM83.5 100.5h14.5v2.5h-14.5zM83.5 103h14.5v2.5h-14.5zM83.5 105.5h14.5v2.5h-14.5zM83.5 108h9.5v2.5h-9.5zM83.5 110.5h9.5v2h-9.5zM83.5 112.5h9.5v2.5h-9.5zM83.5 115h9.5v2.5h-9.5zM88 117.5h10v2.5h-10zM88 120h10v2.5h-10zM98 122.5h5v2.5h-5zM98 125h5v2.5h-5zM103 127.5h5v2.5h-5zM103 130h5v2.5h-5zM108 132.5h4.5v2.5h-4.5zM108 135h4.5v2h-4.5zM108 137h9.5v2.5h-9.5zM108 139.5h9.5v2.5h-9.5zM112.5 142h10v2.5h-10zM112.5 144.5h10v2.5h-10zM112.5 147h15v2.5h-15zM112.5 149.5h15v2.5h-15zM117.5 152h15v2.5h-15zM117.5 154.5h15v2.5h-15zM117.5 157h19.5v2h-19.5zM117.5 159h19.5v2.5h-19.5zM122.5 161.5h14.5v2.5h-14.5zM122.5 164h14.5v2.5h-14.5zM122.5 166.5h24.5v2.5h-24.5zM122.5 169h24.5v2.5h-24.5zM127.5 171.5h24.5v2.5h-24.5zM127.5 174h24.5v2.5h-24.5zM132.5 176.5h24.5v2.5h-24.5zM132.5 179h24.5v2.5h-24.5zM137 181.5h24.5v2.5h-24.5zM137 184h24.5v2h-24.5zM142 186h19.5v2.5h-19.5zM142 188.5h19.5v2.5h-19.5zM147 191h19.5v2.5h-19.5zM147 193.5h19.5v2.5h-19.5zM152 196h19.5v2.5h-19.5zM152 198.5h19.5v2.5h-19.5zM157 201h14.5v2.5h-14.5zM157 203.5h14.5v2.5h-14.5zM161.5 206h15v2.5h-15zM161.5 208.5h15v2h-15zM161.5 210.5h15v2.5h-15zM161.5 213h15v2.5h-15zM166.5 215.5h15v2.5h-15zM166.5 218h15v2.5h-15zM166.5 220.5h15v2.5h-15zM166.5 223h15v2.5h-15zM166.5 225.5h19.5v2.5h-19.5zM166.5 228h19.5v2.5h-19.5zM171.5 230.5h19.5v2.5h-19.5zM171.5 233h19.5v2h-19.5zM181.5 235h14.5v2.5h-14.5zM181.5 237.5h14.5v2.5h-14.5zM186 240h20v2.5h-20zM186 242.5h20v2.5h-20zM196 245h14.5v2.5h-14.5zM196 247.5h14.5v2.5h-14.5zM201 250h14.5v2.5h-14.5zM201 252.5h14.5v2.5h-14.5zM206 255h14.5v2h-14.5zM206 257h14.5v2.5h-14.5zM210.5 259.5h20v2.5h-20zM210.5 262h20v2.5h-20zM215.5 264.5h24.5v2.5h-24.5zM215.5 267h24.5v2.5h-24.5zM225.5 269.5h19.5v2.5h-19.5zM225.5 272h19.5v2.5h-19.5zM235 274.5h15v2.5h-15zM235 277h15v2.5h-15zM240 279.5h15v2.5h-15zM240 282h15v2h-15zM250 284h14.5v2.5h-14.5zM250 286.5h14.5v2.5h-14.5zM264.5 289h10v2.5h-10zM264.5 291.5h10v2.5h-10zM274.5 294h9.5v2.5h-9.5zM274.5 296.5h9.5v2.5h-9.5zM284 299h10v2.5h-10zM284 301.5h10v2.5h-10zM294 304h14.5v2h-14.5zM294 306h14.5v2.5h-14.5zM308.5 308.5h10v2.5h-10zM308.5 311h10v2.5h-10zM313.5 313.5h15v2.5h-15zM313.5 316h15v2.5h-15zM328.5 318.5h14.5v2.5h-14.5zM328.5 321h14.5v2.5h-14.5zM338 323.5h15v2.5h-15zM338 326h15v2.5h-15zM348 328.5h14.5v2.5h-14.5zM348 331h14.5v2h-14.5zM353 333h19.5v2.5h-19.5zM353 335.5h19.5v2.5h-19.5zM357.5 338h73.5v2.5h-73.5zM357.5 340.5h73.5v2.5h-73.5zM372.5 343h103v2.5h-103zM372.5 345.5h103v2.5h-103zM460.5 348h5v2.5h-5zM460.5 350.5h5v2.5h-5zM470.5 357.5h21.5v2.5h-21.5zM470.5 360h21.5v2.5h-21.5zM470.5 362.5h21.5v2.5h-21.5zM470.5 365h21.5v2.5h-21.5zM470.5 367.5h21.5v2.5h-21.5zM470.5 370h21.5v2.5h-21.5zM470.5 372.5h21.5v2.5h-21.5zM470.5 375h21.5v2.5h-21.5zM470.5 377.5h5v2.5h-5zM470.5 380h5v2h-5z"/>
<path fill="#11ee66" d="M78.5 0h2.5v2.5h-2.5zM83.5 0h12v2.5h-12zM100.5 0h2.5v2.5h-2.5zM78.5 2.5h2.5v2.5h-2.5zM86 2.5h12v2.5h-12zM100.5 2.5h2.5v2.5h-2.5zM78.5 5h5v2.5h-5zM86 5h17v2.5h-17zM78.5 7.5h5v2.5h-5zM86 7.5h17v2.5h-17zM83.5 19.5h14.5v2.5h-14.5zM83.5 22h14.5v2.5h-14.5zM78.5 24.5h14.5v2.5h-14.5zM78.5 27h14.5v2.5h-14.5zM78.5 29.5h7.5v2.5h-7.5zM90.5 29.5h2.5v2.5h-2.5zM78.5 32h7.5v2.5h-7.5zM90.5 32h2.5v2.5h-2.5zM78.5 34.5h7.5v2.5h-7.5zM88 34.5h5v2.5h-5zM78.5 37h14.5v2h-14.5zM78.5 39h14.5v2.5h-14.5zM78.5 41.5h7.5v2.5h-7.5zM90.5 41.5h2.5v2.5h-2.5zM83.5 44h14.5v2.5h-14.5zM83.5 46.5h14.5v2.5h-14.5zM88 49h10v2.5h-10zM88 51.5h10v2.5h-10zM132.5 103h19.5v2.5h-19.5zM132.5 105.5h19.5v2.5h-19.5zM93 108h5v2.5h-5zM112.5 108h15v2.5h-15zM93 110.5h5v2h-5zM112.5 110.5h15v2h-15zM93 112.5h10v2.5h-10zM93 115h10v2.5h-10zM98 117.5h14.5v2.5h-14.5zM98 120h14.5v2.5h-14.5zM103 122.5h14.5v2.5h-14.5zM103 125h14.5v2.5h-14.5zM108 127.5h9.5v2.5h-9.5zM108 130h9.5v2.5h-9.5zM112.5 132.5h10v2.5h-10zM112.5 135h10v2h-10zM117.5 137h10v2.5h-10zM117.5 139.5h10v2.5h-10zM122.5 142h10v2.5h-10zM122.5 144.5h10v2.5h-10zM127.5 147h9.5v2.5h-9.5zM127.5 149.5h9.5v2.5h-9.5zM132.5 152h9.5v2.5h-9.5zM132.5 154.5h9.5v2.5h-9.5zM137 157h10v2h-10zM137 159h10v2.5h-10zM137 161.5h15v2.5h-15zM137 164h15v2.5h-15zM147 166.5h14.5v2.5h-14.5zM147 169h14.5v2.5h-14.5zM152 171.5h14.5v2.5h-14.5zM152 174h14.5v2.5h-14.5zM157 176.5h9.5v2.5h-9.5zM157 179h9.5v2.5h-9.5zM161.5 181.5h10v2.5h-10zM161.5 184h10v2h-10zM161.5 186h15v2.5h-15zM161.5 188.5h15v2.5h-15zM166.5 191h15v2.5h-15zM166.5 193.5h15v2.5h-15zM171.5 196h14.5v2.5h-14.5zM171.5 198.5h14.5v2.5h-14.5zM171.5 201h14.5v2.5h-14.5zM299 201h5v2.5h-5zM171.5 203.5h14.5v2.5h-14.5zM299 203.5h5v2.5h-5zM176.5 206h14.5v2.5h-14.5zM299 206h14.5v2.5h-14.5zM176.5 208.5h14.5v2h-14.5zM299 208.5h14.5v2h-14.5zM176.5 210.5h14.5v2.5h-14.5zM299 210.5h24.5v2.5h-24.5zM176.5 213h14.5v2.5h-14.5zM299 213h24.5v2.5h-24.5zM181.5 215.5h14.5v2.5h-14.5zM294 215.5h34.5v2.5h-34.5zM181.5 218h14.5v2.5h-14.5zM294 218h34.5v2.5h-34.5zM181.5 220.5h14.5v2.5h-14.5zM294 220.5h44v2.5h-44zM181.5 223h14.5v2.5h-14.5zM294 223h44v2.5h-44zM186 225.5h20v2.5h-20zM294 225.5h54v2.5h-54zM186 228h20v2.5h-20zM294 228h54v2.5h-54zM191 230.5h19.5v2.5h-19.5zM294 230.5h59v2.5h-59zM191 233h19.5v2h-19.5zM294 233h59v2h-59zM196 235h19.5v2.5h-19.5zM289 235h73.5v2.5h-73.5zM196 237.5h19.5v2.5h-19.5zM289 237.5h73.5v2.5h-73.5zM206 240h14.5v2.5h-14.5zM289 240h78.5v2.5h-78.5zM206 242.5h14.5v2.5h-14.5zM289 242.5h78.5v2.5h-78.5zM210.5 245h15v2.5h-15zM289 245h83.5v2.5h-83.5zM210.5 247.5h15v2.5h-15zM289 247.5h83.5v2.5h-83.5zM215.5 250h19.5v2.5h-19.5zM284 250h98v2.5h-98zM215.5 252.5h19.5v2.5h-19.5zM284 252.5h98v2.5h-98zM220.5 255h19.5v2h-19.5zM284 255h108v2h-108zM220.5 257h19.5v2.5h-19.5zM284 257h108v2.5h-108zM230.5 259.5h19.5v2.5h-19.5zM284 259.5h118v2.5h-118zM230.5 262h19.5v2.5h-19.5zM284 262h118v2.5h-118zM240 264.5h15v2.5h-15zM284 264.5h127.5v2.5h-127.5zM240 267h15v2.5h-15zM284 267h127.5v2.5h-127.5zM245 269.5h14.5v2.5h-14.5zM284 269.5h137.5v2.5h-137.5zM245 272h14.5v2.5h-14.5zM284 272h137.5v2.5h-137.5zM250 274.5h9.5v2.5h-9.5zM279.5 274.5h147v2.5h-147zM250 277h9.5v2.5h-9.5zM279.5 277h147v2.5h-147zM255 279.5h9.5v2.5h-9.5zM279.5 279.5h151.5v2.5h-151.5zM255 282h9.5v2h-9.5zM279.5 282h151.5v2h-151.5zM274.5 284h161.5v2.5h-161.5zM274.5 286.5h161.5v2.5h-161.5zM274.5 289h171.5v2.5h-171.5zM274.5 291.5h171.5v2.5h-171.5zM284 294h167v2.5h-167zM284 296.5h167v2.5h-167zM294 299h171.5v2.5h-171.5zM294 301.5h171.5v2.5h-171.5zM308.5 304h167v2h-167zM308.5 306h167v2.5h-167zM318.5 308.5h161.5v2.5h-161.5zM318.5 311h161.5v2.5h-161.5zM328.5 313.5h161.5v2.5h-161.5zM328.5 316h161.5v2.5h-161.5zM343 318.5h149v2.5h-149zM343 321h149v2.5h-149zM353 323.5h139v2.5h-139zM353 326h139v2.5h-139zM362.5 328.5h127.5v2.5h-127.5zM362.5 331h127.5v2h-127.5zM372.5 333h112.5v2.5h-112.5zM372.5 335.5h112.5v2.5h-112.5zM431 338h49v2.5h-49zM431 340.5h49v2.5h-49z"/>
<path fill="#ffad00" d="M237.5 0h5v2.5h-5zM284 0h2.5v2.5h-2.5zM304 0h2v2.5h-2zM360 0h2.5v2.5h-2.5zM377.5 0h2.5v2.5h-2.5zM284 2.5h7.5v2.5h-7.5zM286.5 5h2.5v2.5h-2.5zM377.5 7.5h4.5v2.5h-4.5zM482.5 10h2.5v2h-2.5zM316 12h7.5v2.5h-7.5zM157 14.5h2v2.5h-2zM318.5 14.5h5v2.5h-5zM382 14.5h2.5v2.5h-2.5zM154.5 17h4.5v2.5h-4.5zM382 17h2.5v2.5h-2.5zM429 17h4.5v2.5h-4.5zM147 19.5h2.5v2.5h-2.5zM296.5 19.5h2.5v2.5h-2.5zM294 22h7.5v2.5h-7.5zM416.5 22h2.5v2.5h-2.5zM54 24.5h7.5v2.5h-7.5zM487.5 24.5h4.5v2.5h-4.5zM54 27h7.5v2.5h-7.5zM262 27h2.5v2.5h-2.5zM29.5 29.5h2.5v2.5h-2.5zM59 29.5h4.5v2.5h-4.5zM262 29.5h2.5v2.5h-2.5zM313.5 29.5h2.5v2.5h-2.5zM389.5 29.5h2.5v2.5h-2.5zM473 29.5h2.5v2.5h-2.5zM59 32h4.5v2.5h-4.5zM61.5 34.5h4.5v2.5h-4.5zM61.5 37h7v2h-7zM353 37h2v2h-2zM63.5 39h5v2.5h-5zM350.5 39h4.5v2.5h-4.5zM377.5 39h2.5v2.5h-2.5zM19.5 41.5h5v2.5h-5zM37 41.5h2v2.5h-2zM22 44h2.5v2.5h-2.5zM37 44h2v2.5h-2zM166.5 46.5h2.5v2.5h-2.5zM448.5 46.5h5v2.5h-5zM10 49h2v2.5h-2zM166.5 49h2.5v2.5h-2.5zM282 51.5h2v2.5h-2zM384.5 51.5h2.5v2.5h-2.5zM17 54h5v2.5h-5zM24.5 54h19.5v2.5h-19.5zM137 54h5v2.5h-5zM277 54h7v2.5h-7zM384.5 54h2.5v2.5h-2.5zM24.5 56.5h19.5v2.5h-19.5zM137 56.5h2.5v2.5h-2.5zM355 56.5h5v2.5h-5zM2.5 59h14.5v2.5h-14.5zM22 59h10v2.5h-10zM34.5 59h29v2.5h-29zM193.5 59h2.5v2.5h-2.5zM343 59h2.5v2.5h-2.5zM355 59h5v2.5h-5zM5 61.5h12v2h-12zM22 61.5h10v2h-10zM37 61.5h22v2h-22zM61.5 61.5h2v2h-2zM193.5 61.5h5v2h-5zM468 61.5h2.5v2h-2.5zM5 63.5h17v2.5h-17zM29.5 63.5h14.5v2.5h-14.5zM49 63.5h5v2.5h-5zM174 63.5h2.5v2.5h-2.5zM193.5 63.5h5v2.5h-5zM215.5 63.5h2.5v2.5h-2.5zM328.5 63.5h2.5v2.5h-2.5zM468 63.5h5v2.5h-5zM7.5 66h14.5v2.5h-14.5zM29.5 66h7.5v2.5h-7.5zM39 66h15v2.5h-15zM61.5 66h2v2.5h-2zM174 66h5v2.5h-5zM206 66h2.5v2.5h-2.5zM328.5 66h2.5v2.5h-2.5zM460.5 66h2.5v2.5h-2.5zM10 68.5h7v2.5h-7zM27 68.5h10v2.5h-10zM41.5 68.5h17.5v2.5h-17.5zM61.5 68.5h2v2.5h-2zM333 68.5h7.5v2.5h-7.5zM0 71h2.5v2.5h-2.5zM12 71h2.5v2.5h-2.5zM27 71h10v2.5h-10zM41.5 71h22v2.5h-22zM257 71h2.5v2.5h-2.5zM0 73.5h5v2.5h-5zM12 73.5h2.5v2.5h-2.5zM27 73.5h34.5v2.5h-34.5zM174 73.5h5v2.5h-5zM0 76h2.5v2.5h-2.5zM5 76h24.5v2.5h-24.5zM32 76h12v2.5h-12zM49 76h10v2.5h-10zM174 76h2.5v2.5h-2.5zM191 76h2.5v2.5h-2.5zM5 78.5h22v2.5h-22zM32 78.5h17v2.5h-17zM51.5 78.5h10v2.5h-10zM166.5 78.5h2.5v2.5h-2.5zM191 78.5h2.5v2.5h-2.5zM490 78.5h2v2.5h-2zM5 81h39v2.5h-39zM51.5 81h7.5v2.5h-7.5zM61.5 81h2v2.5h-2zM348 81h2.5v2.5h-2.5zM2.5 83.5h24.5v2.5h-24.5zM34.5 83.5h9.5v2.5h-9.5zM49 83.5h7.5v2.5h-7.5zM61.5 83.5h4.5v2.5h-4.5zM76 83.5h5v2.5h-5zM313.5 83.5h2.5v2.5h-2.5zM348 83.5h5v2.5h-5zM0 86h24.5v2h-24.5zM32 86h24.5v2h-24.5zM59 86h7v2h-7zM76 86h2.5v2h-2.5zM313.5 86h2.5v2h-2.5zM348 86h5v2h-5zM382 86h2.5v2h-2.5zM438.5 86h2.5v2h-2.5zM0 88h17v2.5h-17zM22 88h5v2.5h-5zM37 88h26.5v2.5h-26.5zM313.5 88h2.5v2.5h-2.5zM438.5 88h2.5v2.5h-2.5zM2.5 90.5h12v2.5h-12zM22 90.5h5v2.5h-5zM37 90.5h4.5v2.5h-4.5zM44 90.5h19.5v2.5h-19.5zM2.5 93h24.5v2.5h-24.5zM37 93h4.5v2.5h-4.5zM44 93h19.5v2.5h-19.5zM225.5 93h5v2.5h-5zM259.5 93h7.5v2.5h-7.5zM2.5 95.5h29.5v2.5h-29.5zM37 95.5h4.5v2.5h-4.5zM46.5 95.5h12.5v2.5h-12.5zM73.5 95.5h2.5v2.5h-2.5zM225.5 95.5h5v2.5h-5zM262 95.5h2.5v2.5h-2.5zM387 95.5h2.5v2.5h-2.5zM2.5 98h39v2.5h-39zM49 98h12.5v2.5h-12.5zM100.5 98h2.5v2.5h-2.5zM228 98h2.5v2.5h-2.5zM2.5 100.5h12v2.5h-12zM19.5 100.5h22v2.5h-22zM49 100.5h10v2.5h-10zM100.5 100.5h2.5v2.5h-2.5zM0 103h44v2.5h-44zM49 103h10v2.5h-10zM100.5 103h2.5v2.5h-2.5zM0 105.5h10v2.5h-10zM12 105.5h7.5v2.5h-7.5zM24.5 105.5h7.5v2.5h-7.5zM37 105.5h7v2.5h-7zM51.5 105.5h2.5v2.5h-2.5zM98 105.5h5v2.5h-5zM284 105.5h5v2.5h-5zM7.5 108h14.5v2.5h-14.5zM24.5 108h2.5v2.5h-2.5zM39 108h2.5v2.5h-2.5zM51.5 108h2.5v2.5h-2.5zM441 108h5v2.5h-5zM0 110.5h5v2h-5zM12 110.5h17.5v2h-17.5zM37 110.5h2v2h-2zM49 110.5h7.5v2h-7.5zM357.5 110.5h2.5v2h-2.5zM372.5 110.5h5v2h-5zM0 112.5h2.5v2.5h-2.5zM12 112.5h29.5v2.5h-29.5zM49 112.5h7.5v2.5h-7.5zM308.5 112.5h2.5v2.5h-2.5zM490 112.5h2v2.5h-2zM0 115h5v2.5h-5zM12 115h2.5v2.5h-2.5zM17 115h7.5v2.5h-7.5zM29.5 115h12v2.5h-12zM46.5 115h10v2.5h-10zM306 115h5v2.5h-5zM0 117.5h10v2.5h-10zM12 117.5h10v2.5h-10zM29.5 117.5h9.5v2.5h-9.5zM41.5 117.5h17.5v2.5h-17.5zM0 120h10v2.5h-10zM12 120h7.5v2.5h-7.5zM29.5 120h9.5v2.5h-9.5zM41.5 120h12.5v2.5h-12.5zM56.5 120h2.5v2.5h-2.5zM316 120h2.5v2.5h-2.5zM5 122.5h5v2.5h-5zM12 122.5h5v2.5h-5zM29.5 122.5h2.5v2.5h-2.5zM37 122.5h17v2.5h-17zM414 122.5h2.5v2.5h-2.5zM0 125h2.5v2.5h-2.5zM10 125h4.5v2.5h-4.5zM37 125h17v2.5h-17zM301.5 125h2.5v2.5h-2.5zM0 127.5h5v2.5h-5zM29.5 127.5h2.5v2.5h-2.5zM51.5 127.5h2.5v2.5h-2.5zM0 130h5v2.5h-5zM10 130h2v2.5h-2zM24.5 130h7.5v2.5h-7.5zM39 130h2.5v2.5h-2.5zM54 130h7.5v2.5h-7.5zM264.5 130h2.5v2.5h-2.5zM10 132.5h2v2.5h-2zM22 132.5h7.5v2.5h-7.5zM39 132.5h5v2.5h-5zM54 132.5h9.5v2.5h-9.5zM257 132.5h2.5v2.5h-2.5zM441 132.5h2.5v2.5h-2.5zM10 135h2v2h-2zM37 135h7v2h-7zM54 135h9.5v2h-9.5zM264.5 135h5v2h-5zM5 137h7v2.5h-7zM22 137h5v2.5h-5zM51.5 137h2.5v2.5h-2.5zM59 137h4.5v2.5h-4.5zM264.5 137h5v2.5h-5zM318.5 137h7.5v2.5h-7.5zM348 137h2.5v2.5h-2.5zM5 139.5h5v2.5h-5zM22 139.5h5v2.5h-5zM44 139.5h2.5v2.5h-2.5zM51.5 139.5h5v2.5h-5zM59 139.5h4.5v2.5h-4.5zM262 139.5h5v2.5h-5zM318.5 139.5h7.5v2.5h-7.5zM348 139.5h2.5v2.5h-2.5zM7.5 142h4.5v2.5h-4.5zM44 142h5v2.5h-5zM51.5 142h5v2.5h-5zM59 142h9.5v2.5h-9.5zM262 142h5v2.5h-5zM321 142h2.5v2.5h-2.5zM0 144.5h10v2.5h-10zM44 144.5h5v2.5h-5zM54 144.5h2.5v2.5h-2.5zM59 144.5h9.5v2.5h-9.5zM93 144.5h2.5v2.5h-2.5zM259.5 144.5h5v2.5h-5zM375 144.5h2.5v2.5h-2.5zM7.5 147h7v2.5h-7zM22 147h12.5v2.5h-12.5zM44 147h2.5v2.5h-2.5zM56.5 147h12v2.5h-12zM426.5 147h2.5v2.5h-2.5zM10 149.5h2v2.5h-2zM19.5 149.5h5v2.5h-5zM44 149.5h2.5v2.5h-2.5zM59 149.5h2.5v2.5h-2.5zM63.5 149.5h2.5v2.5h-2.5zM355 149.5h5v2.5h-5zM406.5 149.5h2.5v2.5h-2.5zM431 149.5h2.5v2.5h-2.5zM0 152h2.5v2.5h-2.5zM19.5 152h2.5v2.5h-2.5zM34.5 152h2.5v2.5h-2.5zM63.5 152h5v2.5h-5zM108 152h2.5v2.5h-2.5zM112.5 152h5v2.5h-5zM433.5 152h2.5v2.5h-2.5zM0 154.5h2.5v2.5h-2.5zM19.5 154.5h2.5v2.5h-2.5zM34.5 154.5h7v2.5h-7zM51.5 154.5h5v2.5h-5zM61.5 154.5h7v2.5h-7zM105.5 154.5h5v2.5h-5zM112.5 154.5h5v2.5h-5zM433.5 154.5h5v2.5h-5zM29.5 157h14.5v2h-14.5zM54 157h2.5v2h-2.5zM63.5 157h2.5v2h-2.5zM90.5 157h2.5v2h-2.5zM105.5 157h2.5v2h-2.5zM10 159h2v2.5h-2zM14.5 159h5v2.5h-5zM32 159h2.5v2.5h-2.5zM39 159h5v2.5h-5zM49 159h2.5v2.5h-2.5zM63.5 159h2.5v2.5h-2.5zM380 159h2v2.5h-2zM387 159h5v2.5h-5zM429 159h4.5v2.5h-4.5zM5 161.5h2.5v2.5h-2.5zM10 161.5h9.5v2.5h-9.5zM34.5 161.5h19.5v2.5h-19.5zM63.5 161.5h5v2.5h-5zM88 161.5h2.5v2.5h-2.5zM377.5 161.5h4.5v2.5h-4.5zM387 161.5h2.5v2.5h-2.5zM431 161.5h2.5v2.5h-2.5zM10 164h9.5v2.5h-9.5zM34.5 164h7v2.5h-7zM44 164h12.5v2.5h-12.5zM63.5 164h5v2.5h-5zM86 164h4.5v2.5h-4.5zM14.5 166.5h5v2.5h-5zM37 166.5h2v2.5h-2zM46.5 166.5h2.5v2.5h-2.5zM51.5 166.5h5v2.5h-5zM63.5 166.5h7.5v2.5h-7.5zM83.5 166.5h7v2.5h-7zM299 166.5h5v2.5h-5zM0 169h5v2.5h-5zM14.5 169h2.5v2.5h-2.5zM37 169h2v2.5h-2zM54 169h5v2.5h-5zM63.5 169h7.5v2.5h-7.5zM81 169h7v2.5h-7zM299 169h2.5v2.5h-2.5zM453.5 169h2v2.5h-2zM470.5 169h7.5v2.5h-7.5zM0 171.5h5v2.5h-5zM10 171.5h2v2.5h-2zM54 171.5h9.5v2.5h-9.5zM66 171.5h2.5v2.5h-2.5zM81 171.5h2.5v2.5h-2.5zM291.5 171.5h5v2.5h-5zM313.5 171.5h2.5v2.5h-2.5zM375 171.5h5v2.5h-5zM470.5 171.5h7.5v2.5h-7.5zM0 174h5v2.5h-5zM17 174h5v2.5h-5zM56.5 174h7v2.5h-7zM66 174h17.5v2.5h-17.5zM291.5 174h5v2.5h-5zM0 176.5h2.5v2.5h-2.5zM17 176.5h7.5v2.5h-7.5zM59 176.5h4.5v2.5h-4.5zM68.5 176.5h7.5v2.5h-7.5zM78.5 176.5h7.5v2.5h-7.5zM414 176.5h2.5v2.5h-2.5zM0 179h2.5v2.5h-2.5zM19.5 179h7.5v2.5h-7.5zM37 179h4.5v2.5h-4.5zM46.5 179h5v2.5h-5zM66 179h20v2.5h-20zM331 179h2v2.5h-2zM0 181.5h2.5v2.5h-2.5zM19.5 181.5h7.5v2.5h-7.5zM34.5 181.5h7v2.5h-7zM46.5 181.5h5v2.5h-5zM66 181.5h5v2.5h-5zM73.5 181.5h10v2.5h-10zM90.5 181.5h2.5v2.5h-2.5zM127.5 181.5h5v2.5h-5zM321 181.5h5v2.5h-5zM331 181.5h4.5v2.5h-4.5zM392 181.5h5v2.5h-5zM0 184h10v2h-10zM39 184h12.5v2h-12.5zM68.5 184h12.5v2h-12.5zM90.5 184h2.5v2h-2.5zM127.5 184h5v2h-5zM348 184h2.5v2h-2.5zM394.5 184h2.5v2h-2.5zM0 186h10v2.5h-10zM37 186h2v2.5h-2zM41.5 186h10v2.5h-10zM61.5 186h2v2.5h-2zM68.5 186h12.5v2.5h-12.5zM90.5 186h2.5v2.5h-2.5zM127.5 186h5v2.5h-5zM340.5 186h2.5v2.5h-2.5zM421.5 186h5v2.5h-5zM0 188.5h10v2.5h-10zM34.5 188.5h4.5v2.5h-4.5zM61.5 188.5h4.5v2.5h-4.5zM71 188.5h10v2.5h-10zM90.5 188.5h2.5v2.5h-2.5zM421.5 188.5h2.5v2.5h-2.5zM0 191h10v2.5h-10zM32 191h7v2.5h-7zM63.5 191h5v2.5h-5zM73.5 191h7.5v2.5h-7.5zM90.5 191h7.5v2.5h-7.5zM458 191h2.5v2.5h-2.5zM0 193.5h10v2.5h-10zM29.5 193.5h12v2.5h-12zM56.5 193.5h12v2.5h-12zM76 193.5h7.5v2.5h-7.5zM93 193.5h5v2.5h-5zM455.5 193.5h2.5v2.5h-2.5zM0 196h7.5v2.5h-7.5zM10 196h7v2.5h-7zM27 196h14.5v2.5h-14.5zM59 196h4.5v2.5h-4.5zM66 196h10v2.5h-10zM78.5 196h2.5v2.5h-2.5zM86 196h2v2.5h-2zM90.5 196h12.5v2.5h-12.5zM122.5 196h5v2.5h-5zM306 196h2.5v2.5h-2.5zM0 198.5h17v2.5h-17zM24.5 198.5h17v2.5h-17zM44 198.5h2.5v2.5h-2.5zM66 198.5h7.5v2.5h-7.5zM76 198.5h2.5v2.5h-2.5zM86 198.5h9.5v2.5h-9.5zM98 198.5h2.5v2.5h-2.5zM306 198.5h2.5v2.5h-2.5zM372.5 198.5h2.5v2.5h-2.5zM0 201h12v2.5h-12zM14.5 201h2.5v2.5h-2.5zM22 201h17v2.5h-17zM51.5 201h2.5v2.5h-2.5zM66 201h7.5v2.5h-7.5zM76 201h2.5v2.5h-2.5zM86 201h7v2.5h-7zM98 201h2.5v2.5h-2.5zM306 201h5v2.5h-5zM468 201h2.5v2.5h-2.5zM0 203.5h12v2.5h-12zM14.5 203.5h2.5v2.5h-2.5zM27 203.5h5v2.5h-5zM49 203.5h10v2.5h-10zM83.5 203.5h9.5v2.5h-9.5zM98 203.5h5v2.5h-5zM132.5 203.5h4.5v2.5h-4.5zM402 203.5h4.5v2.5h-4.5zM0 206h12v2.5h-12zM14.5 206h2.5v2.5h-2.5zM27 206h2.5v2.5h-2.5zM51.5 206h5v2.5h-5zM83.5 206h2.5v2.5h-2.5zM88 206h5v2.5h-5zM95.5 206h12.5v2.5h-12.5zM130 206h12v2.5h-12zM402 206h2.5v2.5h-2.5zM0 208.5h14.5v2h-14.5zM27 208.5h5v2h-5zM88 208.5h5v2h-5zM95.5 208.5h12.5v2h-12.5zM115 208.5h5v2h-5zM127.5 208.5h14.5v2h-14.5zM340.5 208.5h5v2h-5zM458 208.5h7.5v2h-7.5zM0 210.5h19.5v2.5h-19.5zM27 210.5h5v2.5h-5zM39 210.5h5v2.5h-5zM66 210.5h2.5v2.5h-2.5zM90.5 210.5h10v2.5h-10zM105.5 210.5h5v2.5h-5zM112.5 210.5h7.5v2.5h-7.5zM127.5 210.5h12v2.5h-12zM338 210.5h5v2.5h-5zM475.5 210.5h2.5v2.5h-2.5zM5 213h14.5v2.5h-14.5zM24.5 213h5v2.5h-5zM39 213h5v2.5h-5zM63.5 213h5v2.5h-5zM76 213h2.5v2.5h-2.5zM95.5 213h5v2.5h-5zM105.5 213h12v2.5h-12zM127.5 213h9.5v2.5h-9.5zM338 213h5v2.5h-5zM473 213h2.5v2.5h-2.5zM5 215.5h14.5v2.5h-14.5zM39 215.5h5v2.5h-5zM56.5 215.5h5v2.5h-5zM63.5 215.5h5v2.5h-5zM76 215.5h2.5v2.5h-2.5zM108 215.5h9.5v2.5h-9.5zM122.5 215.5h5v2.5h-5zM132.5 215.5h4.5v2.5h-4.5zM147 215.5h5v2.5h-5zM2.5 218h19.5v2.5h-19.5zM56.5 218h7v2.5h-7zM76 218h2.5v2.5h-2.5zM112.5 218h5v2.5h-5zM120 218h7.5v2.5h-7.5zM132.5 218h4.5v2.5h-4.5zM12 220.5h12.5v2.5h-12.5zM59 220.5h2.5v2.5h-2.5zM112.5 220.5h15v2.5h-15zM135 220.5h2v2.5h-2zM154.5 220.5h2.5v2.5h-2.5zM380 220.5h2v2.5h-2zM487.5 220.5h4.5v2.5h-4.5zM14.5 223h10v2.5h-10zM27 223h2.5v2.5h-2.5zM66 223h7.5v2.5h-7.5zM95.5 223h2.5v2.5h-2.5zM105.5 223h2.5v2.5h-2.5zM115 223h7.5v2.5h-7.5zM125 223h2.5v2.5h-2.5zM137 223h2.5v2.5h-2.5zM154.5 223h2.5v2.5h-2.5zM377.5 223h7v2.5h-7zM475.5 223h4.5v2.5h-4.5zM10 225.5h12v2.5h-12zM24.5 225.5h5v2.5h-5zM63.5 225.5h12.5v2.5h-12.5zM86 225.5h4.5v2.5h-4.5zM105.5 225.5h5v2.5h-5zM120 225.5h2.5v2.5h-2.5zM144.5 225.5h12.5v2.5h-12.5zM164 225.5h2.5v2.5h-2.5zM475.5 225.5h4.5v2.5h-4.5zM10 228h7v2.5h-7zM24.5 228h5v2.5h-5zM46.5 228h2.5v2.5h-2.5zM59 228h17v2.5h-17zM105.5 228h5v2.5h-5zM115 228h2.5v2.5h-2.5zM139.5 228h17.5v2.5h-17.5zM424 228h2.5v2.5h-2.5zM10 230.5h2v2.5h-2zM14.5 230.5h15v2.5h-15zM39 230.5h2.5v2.5h-2.5zM44 230.5h5v2.5h-5zM59 230.5h9.5v2.5h-9.5zM73.5 230.5h10v2.5h-10zM98 230.5h5v2.5h-5zM108 230.5h2.5v2.5h-2.5zM115 230.5h2.5v2.5h-2.5zM122.5 230.5h2.5v2.5h-2.5zM139.5 230.5h5v2.5h-5zM147 230.5h5v2.5h-5zM353 230.5h2v2.5h-2zM490 230.5h2v2.5h-2zM10 233h19.5v2h-19.5zM37 233h2v2h-2zM44 233h5v2h-5zM71 233h5v2h-5zM81 233h5v2h-5zM95.5 233h15v2h-15zM120 233h5v2h-5zM147 233h5v2h-5zM438.5 233h5v2h-5zM490 233h2v2h-2zM10 235h19.5v2.5h-19.5zM37 235h4.5v2.5h-4.5zM44 235h19.5v2.5h-19.5zM71 235h5v2.5h-5zM81 235h12v2.5h-12zM95.5 235h7.5v2.5h-7.5zM108 235h2.5v2.5h-2.5zM112.5 235h15v2.5h-15zM149.5 235h2.5v2.5h-2.5zM159 235h2.5v2.5h-2.5zM419 235h2.5v2.5h-2.5zM438.5 235h5v2.5h-5zM10 237.5h22v2.5h-22zM37 237.5h14.5v2.5h-14.5zM59 237.5h4.5v2.5h-4.5zM68.5 237.5h7.5v2.5h-7.5zM83.5 237.5h12v2.5h-12zM108 237.5h12v2.5h-12zM122.5 237.5h10v2.5h-10zM152 237.5h5v2.5h-5zM159 237.5h2.5v2.5h-2.5zM362.5 237.5h2.5v2.5h-2.5zM419 237.5h2.5v2.5h-2.5zM10 240h17v2.5h-17zM29.5 240h5v2.5h-5zM37 240h14.5v2.5h-14.5zM59 240h4.5v2.5h-4.5zM66 240h5v2.5h-5zM83.5 240h12v2.5h-12zM108 240h4.5v2.5h-4.5zM130 240h2.5v2.5h-2.5zM149.5 240h7.5v2.5h-7.5zM161.5 240h5v2.5h-5zM468 240h5v2.5h-5zM10 242.5h17v2.5h-17zM32 242.5h7v2.5h-7zM41.5 242.5h5v2.5h-5zM56.5 242.5h7v2.5h-7zM66 242.5h7.5v2.5h-7.5zM83.5 242.5h4.5v2.5h-4.5zM90.5 242.5h12.5v2.5h-12.5zM130 242.5h2.5v2.5h-2.5zM149.5 242.5h5v2.5h-5zM161.5 242.5h2.5v2.5h-2.5zM10 245h34v2.5h-34zM51.5 245h22v2.5h-22zM76 245h7.5v2.5h-7.5zM86 245h24.5v2.5h-24.5zM127.5 245h2.5v2.5h-2.5zM147 245h7.5v2.5h-7.5zM10 247.5h7v2.5h-7zM24.5 247.5h19.5v2.5h-19.5zM51.5 247.5h5v2.5h-5zM59 247.5h12v2.5h-12zM76 247.5h5v2.5h-5zM86 247.5h7v2.5h-7zM98 247.5h10v2.5h-10zM135 247.5h7v2.5h-7zM149.5 247.5h5v2.5h-5zM10 250h14.5v2.5h-14.5zM27 250h14.5v2.5h-14.5zM51.5 250h5v2.5h-5zM63.5 250h15v2.5h-15zM86 250h2v2.5h-2zM137 250h5v2.5h-5zM166.5 250h2.5v2.5h-2.5zM10 252.5h29v2.5h-29zM44 252.5h17.5v2.5h-17.5zM66 252.5h12.5v2.5h-12.5zM86 252.5h2v2.5h-2zM93 252.5h5v2.5h-5zM139.5 252.5h2.5v2.5h-2.5zM166.5 252.5h2.5v2.5h-2.5zM10 255h27v2h-27zM41.5 255h20v2h-20zM68.5 255h12.5v2h-12.5zM83.5 255h4.5v2h-4.5zM90.5 255h7.5v2h-7.5zM103 255h5v2h-5zM122.5 255h2.5v2h-2.5zM142 255h5v2h-5zM394.5 255h5v2h-5zM12 257h5v2.5h-5zM22 257h5v2.5h-5zM32 257h2.5v2.5h-2.5zM41.5 257h10v2.5h-10zM54 257h7.5v2.5h-7.5zM71 257h7.5v2.5h-7.5zM83.5 257h2.5v2.5h-2.5zM88 257h10v2.5h-10zM139.5 257h7.5v2.5h-7.5zM164 257h5v2.5h-5zM174 257h2.5v2.5h-2.5zM397 257h2.5v2.5h-2.5zM24.5 259.5h5v2.5h-5zM46.5 259.5h2.5v2.5h-2.5zM56.5 259.5h2.5v2.5h-2.5zM68.5 259.5h10v2.5h-10zM81 259.5h5v2.5h-5zM95.5 259.5h5v2.5h-5zM103 259.5h5v2.5h-5zM127.5 259.5h2.5v2.5h-2.5zM142 259.5h7.5v2.5h-7.5zM157 259.5h17v2.5h-17zM176.5 259.5h5v2.5h-5zM186 259.5h2.5v2.5h-2.5zM24.5 262h10v2.5h-10zM44 262h10v2.5h-10zM61.5 262h2v2.5h-2zM68.5 262h17.5v2.5h-17.5zM88 262h20v2.5h-20zM142 262h7.5v2.5h-7.5zM154.5 262h17v2.5h-17zM176.5 262h5v2.5h-5zM29.5 264.5h2.5v2.5h-2.5zM49 264.5h17v2.5h-17zM68.5 264.5h39.5v2.5h-39.5zM144.5 264.5h2.5v2.5h-2.5zM149.5 264.5h2.5v2.5h-2.5zM154.5 264.5h7v2.5h-7zM166.5 264.5h5v2.5h-5zM176.5 264.5h5v2.5h-5zM201 264.5h5v2.5h-5zM14.5 267h5v2.5h-5zM37 267h4.5v2.5h-4.5zM51.5 267h2.5v2.5h-2.5zM56.5 267h5v2.5h-5zM66 267h42v2.5h-42zM159 267h2.5v2.5h-2.5zM166.5 267h7.5v2.5h-7.5zM201 267h5v2.5h-5zM14.5 269.5h5v2.5h-5zM24.5 269.5h2.5v2.5h-2.5zM44 269.5h2.5v2.5h-2.5zM51.5 269.5h2.5v2.5h-2.5zM56.5 269.5h2.5v2.5h-2.5zM66 269.5h20v2.5h-20zM93 269.5h19.5v2.5h-19.5zM130 269.5h2.5v2.5h-2.5zM166.5 269.5h7.5v2.5h-7.5zM201 269.5h5v2.5h-5zM14.5 272h5v2.5h-5zM24.5 272h5v2.5h-5zM32 272h5v2.5h-5zM46.5 272h5v2.5h-5zM56.5 272h2.5v2.5h-2.5zM66 272h5v2.5h-5zM76 272h10v2.5h-10zM95.5 272h17v2.5h-17zM137 272h5v2.5h-5zM161.5 272h12.5v2.5h-12.5zM201 272h5v2.5h-5zM19.5 274.5h17.5v2.5h-17.5zM41.5 274.5h2.5v2.5h-2.5zM46.5 274.5h27v2.5h-27zM81 274.5h5v2.5h-5zM100.5 274.5h12v2.5h-12zM127.5 274.5h2.5v2.5h-2.5zM137 274.5h7.5v2.5h-7.5zM161.5 274.5h2.5v2.5h-2.5zM169 274.5h7.5v2.5h-7.5zM203.5 274.5h2.5v2.5h-2.5zM220.5 274.5h5v2.5h-5zM19.5 277h19.5v2.5h-19.5zM41.5 277h22v2.5h-22zM68.5 277h7.5v2.5h-7.5zM100.5 277h12v2.5h-12zM179 277h7v2.5h-7zM223 277h2.5v2.5h-2.5zM29.5 279.5h7.5v2.5h-7.5zM41.5 279.5h7.5v2.5h-7.5zM51.5 279.5h5v2.5h-5zM59 279.5h2.5v2.5h-2.5zM68.5 279.5h10v2.5h-10zM108 279.5h4.5v2.5h-4.5zM127.5 279.5h2.5v2.5h-2.5zM181.5 279.5h4.5v2.5h-4.5zM39 282h7.5v2h-7.5zM51.5 282h5v2h-5zM66 282h17.5v2h-17.5zM108 282h4.5v2h-4.5zM127.5 282h2.5v2h-2.5zM181.5 282h2.5v2h-2.5zM29.5 284h5v2.5h-5zM39 284h24.5v2.5h-24.5zM73.5 284h5v2.5h-5zM132.5 284h2.5v2.5h-2.5zM225.5 284h2.5v2.5h-2.5zM490 284h2v2.5h-2zM24.5 286.5h10v2.5h-10zM39 286.5h10v2.5h-10zM112.5 286.5h5v2.5h-5zM130 286.5h5v2.5h-5zM218 286.5h2.5v2.5h-2.5zM29.5 289h14.5v2.5h-14.5zM46.5 289h2.5v2.5h-2.5zM56.5 289h2.5v2.5h-2.5zM98 289h2.5v2.5h-2.5zM112.5 289h5v2.5h-5zM130 289h5v2.5h-5zM174 289h2.5v2.5h-2.5zM218 289h2.5v2.5h-2.5zM29.5 291.5h5v2.5h-5zM37 291.5h7v2.5h-7zM46.5 291.5h5v2.5h-5zM54 291.5h5v2.5h-5zM112.5 291.5h5v2.5h-5zM127.5 291.5h7.5v2.5h-7.5zM164 291.5h2.5v2.5h-2.5zM174 291.5h2.5v2.5h-2.5zM482.5 291.5h2.5v2.5h-2.5zM34.5 294h7v2.5h-7zM46.5 294h7.5v2.5h-7.5zM117.5 294h5v2.5h-5zM125 294h7.5v2.5h-7.5zM176.5 294h5v2.5h-5zM225.5 294h2.5v2.5h-2.5zM230.5 294h4.5v2.5h-4.5zM46.5 296.5h7.5v2.5h-7.5zM117.5 296.5h2.5v2.5h-2.5zM125 296.5h7.5v2.5h-7.5zM137 296.5h2.5v2.5h-2.5zM174 296.5h7.5v2.5h-7.5zM233 296.5h2v2.5h-2zM46.5 299h7.5v2.5h-7.5zM117.5 299h2.5v2.5h-2.5zM176.5 299h5v2.5h-5zM220.5 299h2.5v2.5h-2.5zM233 299h7v2.5h-7zM49 301.5h2.5v2.5h-2.5zM117.5 301.5h2.5v2.5h-2.5zM122.5 301.5h5v2.5h-5zM176.5 301.5h5v2.5h-5zM225.5 301.5h5v2.5h-5zM233 301.5h2v2.5h-2zM237.5 301.5h2.5v2.5h-2.5zM5 304h2.5v2h-2.5zM59 304h2.5v2h-2.5zM100.5 304h2.5v2h-2.5zM120 304h5v2h-5zM139.5 304h2.5v2h-2.5zM154.5 304h4.5v2h-4.5zM176.5 304h5v2h-5zM208.5 304h2v2h-2zM225.5 304h5v2h-5zM44 306h5v2.5h-5zM76 306h2.5v2.5h-2.5zM98 306h2.5v2.5h-2.5zM122.5 306h2.5v2.5h-2.5zM139.5 306h2.5v2.5h-2.5zM154.5 306h4.5v2.5h-4.5zM176.5 306h5v2.5h-5zM225.5 306h7.5v2.5h-7.5zM139.5 308.5h2.5v2.5h-2.5zM210.5 308.5h5v2.5h-5zM223 308.5h12v2.5h-12zM304 308.5h4.5v2.5h-4.5zM130 311h2.5v2.5h-2.5zM139.5 311h7.5v2.5h-7.5zM149.5 311h2.5v2.5h-2.5zM210.5 311h5v2.5h-5zM223 311h14.5v2.5h-14.5zM242.5 311h2.5v2.5h-2.5zM301.5 311h2.5v2.5h-2.5zM125 313.5h2.5v2.5h-2.5zM132.5 313.5h2.5v2.5h-2.5zM137 313.5h7.5v2.5h-7.5zM181.5 313.5h4.5v2.5h-4.5zM206 313.5h2.5v2.5h-2.5zM218 313.5h10v2.5h-10zM233 313.5h17v2.5h-17zM37 316h2v2.5h-2zM169 316h5v2.5h-5zM184 316h2v2.5h-2zM206 316h7v2.5h-7zM218 316h10v2.5h-10zM233 316h17v2.5h-17zM37 318.5h2v2.5h-2zM127.5 318.5h9.5v2.5h-9.5zM169 318.5h5v2.5h-5zM181.5 318.5h2.5v2.5h-2.5zM188.5 318.5h66.5v2.5h-66.5zM264.5 318.5h5v2.5h-5zM272 318.5h2.5v2.5h-2.5zM304 318.5h2v2.5h-2zM37 321h4.5v2.5h-4.5zM127.5 321h5v2.5h-5zM135 321h2v2.5h-2zM152 321h5v2.5h-5zM171.5 321h2.5v2.5h-2.5zM181.5 321h27v2.5h-27zM213 321h10v2.5h-10zM225.5 321h7.5v2.5h-7.5zM237.5 321h5v2.5h-5zM245 321h14.5v2.5h-14.5zM39 323.5h2.5v2.5h-2.5zM103 323.5h5v2.5h-5zM127.5 323.5h12v2.5h-12zM144.5 323.5h2.5v2.5h-2.5zM152 323.5h7v2.5h-7zM181.5 323.5h4.5v2.5h-4.5zM188.5 323.5h7.5v2.5h-7.5zM198.5 323.5h10v2.5h-10zM218 323.5h5v2.5h-5zM230.5 323.5h2.5v2.5h-2.5zM235 323.5h5v2.5h-5zM247.5 323.5h2.5v2.5h-2.5zM255 323.5h14.5v2.5h-14.5zM103 326h5v2.5h-5zM135 326h4.5v2.5h-4.5zM142 326h5v2.5h-5zM181.5 326h2.5v2.5h-2.5zM186 326h12.5v2.5h-12.5zM203.5 326h5v2.5h-5zM230.5 326h2.5v2.5h-2.5zM235 326h34.5v2.5h-34.5zM127.5 328.5h2.5v2.5h-2.5zM135 328.5h17v2.5h-17zM154.5 328.5h7v2.5h-7zM171.5 328.5h2.5v2.5h-2.5zM176.5 328.5h5v2.5h-5zM186 328.5h15v2.5h-15zM206 328.5h7v2.5h-7zM228 328.5h5v2.5h-5zM237.5 328.5h37v2.5h-37zM282 328.5h7v2.5h-7zM291.5 328.5h2.5v2.5h-2.5zM127.5 331h2.5v2h-2.5zM132.5 331h26.5v2h-26.5zM164 331h2.5v2h-2.5zM176.5 331h7.5v2h-7.5zM186 331h12.5v2h-12.5zM208.5 331h4.5v2h-4.5zM215.5 331h2.5v2h-2.5zM225.5 331h9.5v2h-9.5zM237.5 331h51.5v2h-51.5zM78.5 333h5v2.5h-5zM132.5 333h39v2.5h-39zM176.5 333h19.5v2.5h-19.5zM213 333h15v2.5h-15zM230.5 333h4.5v2.5h-4.5zM237.5 333h10v2.5h-10zM252.5 333h4.5v2.5h-4.5zM259.5 333h27v2.5h-27zM78.5 335.5h2.5v2.5h-2.5zM132.5 335.5h12v2.5h-12zM147 335.5h24.5v2.5h-24.5zM176.5 335.5h17v2.5h-17zM201 335.5h9.5v2.5h-9.5zM213 335.5h5v2.5h-5zM220.5 335.5h7.5v2.5h-7.5zM230.5 335.5h4.5v2.5h-4.5zM237.5 335.5h7.5v2.5h-7.5zM257 335.5h12.5v2.5h-12.5zM272 335.5h14.5v2.5h-14.5zM308.5 335.5h2.5v2.5h-2.5zM2.5 338h5v2.5h-5zM132.5 338h7v2.5h-7zM147 338h27v2.5h-27zM176.5 338h2.5v2.5h-2.5zM181.5 338h9.5v2.5h-9.5zM201 338h17v2.5h-17zM220.5 338h32v2.5h-32zM259.5 338h34.5v2.5h-34.5zM308.5 338h2.5v2.5h-2.5zM5 340.5h2.5v2.5h-2.5zM132.5 340.5h4.5v2.5h-4.5zM142 340.5h10v2.5h-10zM157 340.5h17v2.5h-17zM188.5 340.5h54v2.5h-54zM245 340.5h7.5v2.5h-7.5zM255 340.5h31.5v2.5h-31.5zM289 340.5h5v2.5h-5zM135 343h29v2.5h-29zM171.5 343h5v2.5h-5zM184 343h41.5v2.5h-41.5zM230.5 343h7v2.5h-7zM250 343h17v2.5h-17zM269.5 343h17v2.5h-17zM296.5 343h2.5v2.5h-2.5zM44 345.5h2.5v2.5h-2.5zM137 345.5h7.5v2.5h-7.5zM147 345.5h5v2.5h-5zM157 345.5h7v2.5h-7zM174 345.5h51.5v2.5h-51.5zM233 345.5h4.5v2.5h-4.5zM240 345.5h5v2.5h-5zM252.5 345.5h12v2.5h-12zM277 345.5h9.5v2.5h-9.5zM296.5 345.5h2.5v2.5h-2.5zM44 348h2.5v2.5h-2.5zM137 348h5v2.5h-5zM147 348h2.5v2.5h-2.5zM174 348h32v2.5h-32zM210.5 348h15v2.5h-15zM240 348h5v2.5h-5zM247.5 348h17v2.5h-17zM274.5 348h9.5v2.5h-9.5zM294 348h5v2.5h-5zM306 348h5v2.5h-5zM323.5 348h2.5v2.5h-2.5zM328.5 348h4.5v2.5h-4.5zM137 350.5h2.5v2.5h-2.5zM147 350.5h2.5v2.5h-2.5zM164 350.5h27v2.5h-27zM196 350.5h7.5v2.5h-7.5zM210.5 350.5h15v2.5h-15zM228 350.5h24.5v2.5h-24.5zM255 350.5h14.5v2.5h-14.5zM274.5 350.5h9.5v2.5h-9.5zM296.5 350.5h2.5v2.5h-2.5zM304 350.5h27v2.5h-27zM399.5 350.5h2.5v2.5h-2.5zM429 350.5h4.5v2.5h-4.5zM137 353h2.5v2h-2.5zM152 353h5v2h-5zM164 353h39.5v2h-39.5zM210.5 353h42v2h-42zM255 353h34v2h-34zM296.5 353h22v2h-22zM321 353h10v2h-10zM333 353h7.5v2h-7.5zM345.5 353h2.5v2h-2.5zM137 355h2.5v2.5h-2.5zM147 355h10v2.5h-10zM166.5 355h10v2.5h-10zM179 355h14.5v2.5h-14.5zM196 355h10v2.5h-10zM210.5 355h5v2.5h-5zM218 355h7.5v2.5h-7.5zM228 355h9.5v2.5h-9.5zM240 355h7.5v2.5h-7.5zM250 355h34v2.5h-34zM286.5 355h2.5v2.5h-2.5zM294 355h49v2.5h-49zM345.5 355h2.5v2.5h-2.5zM137 357.5h2.5v2.5h-2.5zM149.5 357.5h5v2.5h-5zM166.5 357.5h7.5v2.5h-7.5zM179 357.5h7v2.5h-7zM188.5 357.5h46.5v2.5h-46.5zM242.5 357.5h2.5v2.5h-2.5zM250 357.5h22v2.5h-22zM274.5 357.5h27v2.5h-27zM304 357.5h34v2.5h-34zM340.5 357.5h10v2.5h-10zM353 357.5h4.5v2.5h-4.5zM137 360h5v2.5h-5zM152 360h2.5v2.5h-2.5zM166.5 360h10v2.5h-10zM179 360h7v2.5h-7zM191 360h34.5v2.5h-34.5zM228 360h7v2.5h-7zM250 360h19.5v2.5h-19.5zM274.5 360h9.5v2.5h-9.5zM289 360h10v2.5h-10zM306 360h5v2.5h-5zM313.5 360h2.5v2.5h-2.5zM321 360h32v2.5h-32zM0 362.5h2.5v2.5h-2.5zM137 362.5h2.5v2.5h-2.5zM149.5 362.5h5v2.5h-5zM159 362.5h7.5v2.5h-7.5zM171.5 362.5h17v2.5h-17zM193.5 362.5h7.5v2.5h-7.5zM206 362.5h4.5v2.5h-4.5zM215.5 362.5h7.5v2.5h-7.5zM228 362.5h9.5v2.5h-9.5zM242.5 362.5h2.5v2.5h-2.5zM257 362.5h12.5v2.5h-12.5zM274.5 362.5h17v2.5h-17zM294 362.5h5v2.5h-5zM316 362.5h19.5v2.5h-19.5zM338 362.5h7.5v2.5h-7.5zM362.5 362.5h7.5v2.5h-7.5zM409 362.5h2.5v2.5h-2.5zM93 365h2.5v2.5h-2.5zM142 365h15v2.5h-15zM159 365h7.5v2.5h-7.5zM174 365h14.5v2.5h-14.5zM193.5 365h10v2.5h-10zM206 365h7v2.5h-7zM220.5 365h22v2.5h-22zM257 365h7.5v2.5h-7.5zM267 365h5v2.5h-5zM277 365h12v2.5h-12zM291.5 365h14.5v2.5h-14.5zM316 365h29.5v2.5h-29.5zM409 365h2.5v2.5h-2.5zM144.5 367.5h12.5v2.5h-12.5zM161.5 367.5h2.5v2.5h-2.5zM171.5 367.5h14.5v2.5h-14.5zM191 367.5h10v2.5h-10zM206 367.5h7v2.5h-7zM230.5 367.5h12v2.5h-12zM252.5 367.5h12v2.5h-12zM267 367.5h10v2.5h-10zM282 367.5h2v2.5h-2zM286.5 367.5h2.5v2.5h-2.5zM291.5 367.5h14.5v2.5h-14.5zM316 367.5h34.5v2.5h-34.5zM370 367.5h12v2.5h-12zM56.5 370h2.5v2.5h-2.5zM152 370h2.5v2.5h-2.5zM171.5 370h7.5v2.5h-7.5zM193.5 370h7.5v2.5h-7.5zM206 370h9.5v2.5h-9.5zM230.5 370h14.5v2.5h-14.5zM247.5 370h9.5v2.5h-9.5zM262 370h15v2.5h-15zM282 370h7v2.5h-7zM291.5 370h19.5v2.5h-19.5zM316 370h24.5v2.5h-24.5zM345.5 370h7.5v2.5h-7.5zM370 370h12v2.5h-12zM142 372.5h5v2.5h-5zM149.5 372.5h5v2.5h-5zM171.5 372.5h7.5v2.5h-7.5zM196 372.5h19.5v2.5h-19.5zM230.5 372.5h26.5v2.5h-26.5zM264.5 372.5h12.5v2.5h-12.5zM282 372.5h7v2.5h-7zM291.5 372.5h5v2.5h-5zM299 372.5h29.5v2.5h-29.5zM338 372.5h2.5v2.5h-2.5zM348 372.5h5v2.5h-5zM370 372.5h12v2.5h-12zM394.5 372.5h2.5v2.5h-2.5zM142 375h2.5v2.5h-2.5zM152 375h7v2.5h-7zM171.5 375h5v2.5h-5zM193.5 375h10v2.5h-10zM206 375h2.5v2.5h-2.5zM210.5 375h12.5v2.5h-12.5zM228 375h29v2.5h-29zM264.5 375h10v2.5h-10zM289 375h5v2.5h-5zM299 375h22v2.5h-22zM338 375h7.5v2.5h-7.5zM350.5 375h31.5v2.5h-31.5zM389.5 375h2.5v2.5h-2.5zM451 375h2.5v2.5h-2.5zM468 375h2.5v2.5h-2.5zM142 377.5h2.5v2.5h-2.5zM154.5 377.5h4.5v2.5h-4.5zM166.5 377.5h7.5v2.5h-7.5zM191 377.5h7.5v2.5h-7.5zM201 377.5h5v2.5h-5zM208.5 377.5h12v2.5h-12zM230.5 377.5h19.5v2.5h-19.5zM259.5 377.5h2.5v2.5h-2.5zM272 377.5h5v2.5h-5zM279.5 377.5h4.5v2.5h-4.5zM289 377.5h2.5v2.5h-2.5zM299 377.5h27v2.5h-27zM338 377.5h24.5v2.5h-24.5zM370 377.5h12v2.5h-12zM392 377.5h2.5v2.5h-2.5zM399.5 377.5h12v2.5h-12zM468 377.5h2.5v2.5h-2.5zM142 380h7.5v2h-7.5zM154.5 380h4.5v2h-4.5zM166.5 380h32v2h-32zM201 380h5v2h-5zM208.5 380h9.5v2h-9.5zM228 380h17v2h-17zM257 380h2.5v2h-2.5zM267 380h10v2h-10zM279.5 380h12v2h-12zM296.5 380h7.5v2h-7.5zM308.5 380h27v2h-27zM340.5 380h12.5v2h-12.5zM360 380h2.5v2h-2.5zM372.5 380h9.5v2h-9.5zM392 380h5v2h-5zM399.5 380h7v2h-7zM409 380h2.5v2h-2.5zM438.5 380h5v2h-5zM142 382h5v2.5h-5zM166.5 382h27v2.5h-27zM203.5 382h14.5v2.5h-14.5zM225.5 382h19.5v2.5h-19.5zM255 382h7v2.5h-7zM274.5 382h27v2.5h-27zM313.5 382h12.5v2.5h-12.5zM328.5 382h7v2.5h-7zM343 382h10v2.5h-10zM375 382h5v2.5h-5zM384.5 382h2.5v2.5h-2.5zM392 382h12.5v2.5h-12.5zM409 382h12.5v2.5h-12.5zM438.5 382h5v2.5h-5zM68.5 384.5h5v2.5h-5zM142 384.5h5v2.5h-5zM169 384.5h24.5v2.5h-24.5zM206 384.5h2.5v2.5h-2.5zM213 384.5h5v2.5h-5zM225.5 384.5h17v2.5h-17zM255 384.5h7v2.5h-7zM277 384.5h24.5v2.5h-24.5zM316 384.5h15v2.5h-15zM343 384.5h2.5v2.5h-2.5zM350.5 384.5h7v2.5h-7zM370 384.5h2.5v2.5h-2.5zM387 384.5h17.5v2.5h-17.5zM409 384.5h12.5v2.5h-12.5zM71 387h5v2.5h-5zM115 387h5v2.5h-5zM142 387h5v2.5h-5zM169 387h7.5v2.5h-7.5zM186 387h2.5v2.5h-2.5zM206 387h9.5v2.5h-9.5zM223 387h10v2.5h-10zM235 387h12.5v2.5h-12.5zM255 387h7v2.5h-7zM274.5 387h12v2.5h-12zM291.5 387h10v2.5h-10zM321 387h7.5v2.5h-7.5zM335.5 387h7.5v2.5h-7.5zM345.5 387h9.5v2.5h-9.5zM370 387h10v2.5h-10zM389.5 387h27v2.5h-27zM37 389.5h2v2.5h-2zM71 389.5h5v2.5h-5zM112.5 389.5h5v2.5h-5zM142 389.5h2.5v2.5h-2.5zM166.5 389.5h10v2.5h-10zM186 389.5h5v2.5h-5zM196 389.5h5v2.5h-5zM203.5 389.5h12v2.5h-12zM223 389.5h10v2.5h-10zM235 389.5h7.5v2.5h-7.5zM245 389.5h2.5v2.5h-2.5zM255 389.5h2v2.5h-2zM259.5 389.5h2.5v2.5h-2.5zM267 389.5h5v2.5h-5zM277 389.5h14.5v2.5h-14.5zM296.5 389.5h5v2.5h-5zM321 389.5h7.5v2.5h-7.5zM335.5 389.5h7.5v2.5h-7.5zM348 389.5h9.5v2.5h-9.5zM360 389.5h2.5v2.5h-2.5zM370 389.5h10v2.5h-10zM384.5 389.5h2.5v2.5h-2.5zM392 389.5h10v2.5h-10zM404.5 389.5h7v2.5h-7zM166.5 392h10v2.5h-10zM186 392h2.5v2.5h-2.5zM193.5 392h5v2.5h-5zM203.5 392h5v2.5h-5zM210.5 392h7.5v2.5h-7.5zM230.5 392h14.5v2.5h-14.5zM252.5 392h4.5v2.5h-4.5zM259.5 392h5v2.5h-5zM277 392h14.5v2.5h-14.5zM311 392h5v2.5h-5zM318.5 392h10v2.5h-10zM331 392h12v2.5h-12zM348 392h14.5v2.5h-14.5zM367.5 392h12.5v2.5h-12.5zM389.5 392h12.5v2.5h-12.5zM404.5 392h7v2.5h-7zM426.5 392h9.5v2.5h-9.5zM144.5 394.5h34.5v2.5h-34.5zM188.5 394.5h5v2.5h-5zM203.5 394.5h5v2.5h-5zM210.5 394.5h7.5v2.5h-7.5zM230.5 394.5h14.5v2.5h-14.5zM250 394.5h14.5v2.5h-14.5zM267 394.5h5v2.5h-5zM277 394.5h12v2.5h-12zM316 394.5h12.5v2.5h-12.5zM331 394.5h7v2.5h-7zM350.5 394.5h9.5v2.5h-9.5zM365 394.5h15v2.5h-15zM399.5 394.5h12v2.5h-12zM414 394.5h7.5v2.5h-7.5zM424 394.5h12v2.5h-12zM142 397h7.5v2.5h-7.5zM152 397h27v2.5h-27zM208.5 397h9.5v2.5h-9.5zM233 397h17v2.5h-17zM252.5 397h2.5v2.5h-2.5zM262 397h12.5v2.5h-12.5zM279.5 397h9.5v2.5h-9.5zM296.5 397h5v2.5h-5zM316 397h10v2.5h-10zM331 397h9.5v2.5h-9.5zM345.5 397h14.5v2.5h-14.5zM365 397h15v2.5h-15zM382 397h5v2.5h-5zM399.5 397h22v2.5h-22zM426.5 397h9.5v2.5h-9.5zM142 399.5h7.5v2.5h-7.5zM164 399.5h12.5v2.5h-12.5zM193.5 399.5h2.5v2.5h-2.5zM210.5 399.5h7.5v2.5h-7.5zM230.5 399.5h4.5v2.5h-4.5zM240 399.5h17v2.5h-17zM262 399.5h17.5v2.5h-17.5zM282 399.5h9.5v2.5h-9.5zM296.5 399.5h7.5v2.5h-7.5zM308.5 399.5h5v2.5h-5zM321 399.5h5v2.5h-5zM331 399.5h24v2.5h-24zM365 399.5h5v2.5h-5zM394.5 399.5h17v2.5h-17zM416.5 399.5h7.5v2.5h-7.5zM429 399.5h7v2.5h-7zM147 402h2.5v2.5h-2.5zM164 402h12.5v2.5h-12.5zM186 402h10v2.5h-10zM210.5 402h7.5v2.5h-7.5zM230.5 402h19.5v2.5h-19.5zM252.5 402h14.5v2.5h-14.5zM269.5 402h19.5v2.5h-19.5zM296.5 402h7.5v2.5h-7.5zM306 402h7.5v2.5h-7.5zM321 402h5v2.5h-5zM333 402h5v2.5h-5zM340.5 402h17v2.5h-17zM360 402h10v2.5h-10zM392 402h19.5v2.5h-19.5zM416.5 402h7.5v2.5h-7.5zM429 402h12v2.5h-12zM10 404.5h2v2h-2zM144.5 404.5h7.5v2h-7.5zM154.5 404.5h24.5v2h-24.5zM186 404.5h10v2h-10zM198.5 404.5h2.5v2h-2.5zM208.5 404.5h4.5v2h-4.5zM215.5 404.5h5v2h-5zM230.5 404.5h2.5v2h-2.5zM235 404.5h12.5v2h-12.5zM252.5 404.5h14.5v2h-14.5zM269.5 404.5h7.5v2h-7.5zM282 404.5h7v2h-7zM296.5 404.5h7.5v2h-7.5zM308.5 404.5h5v2h-5zM333 404.5h32v2h-32zM367.5 404.5h44v2h-44zM419 404.5h5v2h-5zM431 404.5h5v2h-5zM438.5 404.5h2.5v2h-2.5zM142 406.5h5v2.5h-5zM149.5 406.5h17v2.5h-17zM169 406.5h12.5v2.5h-12.5zM186 406.5h17.5v2.5h-17.5zM208.5 406.5h53.5v2.5h-53.5zM264.5 406.5h2.5v2.5h-2.5zM272 406.5h5v2.5h-5zM284 406.5h20v2.5h-20zM311 406.5h5v2.5h-5zM328.5 406.5h29v2.5h-29zM360 406.5h2.5v2.5h-2.5zM370 406.5h2.5v2.5h-2.5zM375 406.5h39v2.5h-39zM419 406.5h2.5v2.5h-2.5zM426.5 406.5h7v2.5h-7zM142 409h5v2.5h-5zM149.5 409h7.5v2.5h-7.5zM161.5 409h5v2.5h-5zM169 409h12.5v2.5h-12.5zM188.5 409h5v2.5h-5zM196 409h7.5v2.5h-7.5zM206 409h24.5v2.5h-24.5zM235 409h7.5v2.5h-7.5zM247.5 409h12v2.5h-12zM264.5 409h2.5v2.5h-2.5zM272 409h7.5v2.5h-7.5zM286.5 409h19.5v2.5h-19.5zM316 409h5v2.5h-5zM328.5 409h19.5v2.5h-19.5zM350.5 409h7v2.5h-7zM362.5 409h2.5v2.5h-2.5zM367.5 409h14.5v2.5h-14.5zM387 409h5v2.5h-5zM397 409h19.5v2.5h-19.5zM419 409h14.5v2.5h-14.5zM438.5 409h2.5v2.5h-2.5zM142 411.5h5v2.5h-5zM149.5 411.5h5v2.5h-5zM161.5 411.5h20v2.5h-20zM188.5 411.5h2.5v2.5h-2.5zM198.5 411.5h5v2.5h-5zM208.5 411.5h7v2.5h-7zM220.5 411.5h10v2.5h-10zM235 411.5h7.5v2.5h-7.5zM250 411.5h5v2.5h-5zM264.5 411.5h17.5v2.5h-17.5zM296.5 411.5h9.5v2.5h-9.5zM316 411.5h7.5v2.5h-7.5zM328.5 411.5h7v2.5h-7zM343 411.5h5v2.5h-5zM350.5 411.5h7v2.5h-7zM362.5 411.5h15v2.5h-15zM380 411.5h2v2.5h-2zM394.5 411.5h5v2.5h-5zM406.5 411.5h7.5v2.5h-7.5zM419 411.5h22v2.5h-22zM37 414h2v2.5h-2zM120 414h2.5v2.5h-2.5zM142 414h2.5v2.5h-2.5zM152 414h2.5v2.5h-2.5zM161.5 414h20v2.5h-20zM186 414h15v2.5h-15zM206 414h7v2.5h-7zM220.5 414h7.5v2.5h-7.5zM235 414h22v2.5h-22zM264.5 414h19.5v2.5h-19.5zM299 414h7v2.5h-7zM316 414h17v2.5h-17zM343 414h17v2.5h-17zM365 414h5v2.5h-5zM372.5 414h9.5v2.5h-9.5zM394.5 414h7.5v2.5h-7.5zM404.5 414h7v2.5h-7zM416.5 414h24.5v2.5h-24.5zM34.5 416.5h4.5v2.5h-4.5zM142 416.5h2.5v2.5h-2.5zM152 416.5h5v2.5h-5zM159 416.5h20v2.5h-20zM188.5 416.5h10v2.5h-10zM208.5 416.5h2v2.5h-2zM220.5 416.5h10v2.5h-10zM235 416.5h59v2.5h-59zM316 416.5h17v2.5h-17zM343 416.5h10v2.5h-10zM362.5 416.5h19.5v2.5h-19.5zM384.5 416.5h2.5v2.5h-2.5zM394.5 416.5h39v2.5h-39zM142 419h5v2.5h-5zM149.5 419h19.5v2.5h-19.5zM174 419h2.5v2.5h-2.5zM188.5 419h12.5v2.5h-12.5zM208.5 419h2v2.5h-2zM213 419h5v2.5h-5zM223 419h5v2.5h-5zM230.5 419h39v2.5h-39zM282 419h4.5v2.5h-4.5zM289 419h7.5v2.5h-7.5zM306 419h5v2.5h-5zM316 419h17v2.5h-17zM340.5 419h5v2.5h-5zM348 419h5v2.5h-5zM362.5 419h27v2.5h-27zM392 419h5v2.5h-5zM402 419h22v2.5h-22zM429 419h12v2.5h-12zM152 421.5h17v2.5h-17zM174 421.5h2.5v2.5h-2.5zM186 421.5h15v2.5h-15zM206 421.5h9.5v2.5h-9.5zM223 421.5h19.5v2.5h-19.5zM257 421.5h2.5v2.5h-2.5zM262 421.5h7.5v2.5h-7.5zM282 421.5h2v2.5h-2zM291.5 421.5h5v2.5h-5zM304 421.5h12v2.5h-12zM318.5 421.5h14.5v2.5h-14.5zM340.5 421.5h5v2.5h-5zM348 421.5h9.5v2.5h-9.5zM362.5 421.5h15v2.5h-15zM380 421.5h17v2.5h-17zM404.5 421.5h4.5v2.5h-4.5zM411.5 421.5h12.5v2.5h-12.5zM433.5 421.5h7.5v2.5h-7.5zM19.5 424h2.5v2.5h-2.5zM161.5 424h7.5v2.5h-7.5zM171.5 424h7.5v2.5h-7.5zM191 424h10v2.5h-10zM206 424h9.5v2.5h-9.5zM223 424h19.5v2.5h-19.5zM257 424h2.5v2.5h-2.5zM279.5 424h4.5v2.5h-4.5zM291.5 424h2.5v2.5h-2.5zM304 424h9.5v2.5h-9.5zM328.5 424h7v2.5h-7zM338 424h5v2.5h-5zM348 424h9.5v2.5h-9.5zM362.5 424h17.5v2.5h-17.5zM382 424h39.5v2.5h-39.5zM426.5 424h2.5v2.5h-2.5zM436 424h5v2.5h-5zM473 424h2.5v2.5h-2.5zM480 424h2.5v2.5h-2.5zM164 426.5h15v2.5h-15zM193.5 426.5h7.5v2.5h-7.5zM210.5 426.5h5v2.5h-5zM223 426.5h2.5v2.5h-2.5zM237.5 426.5h22v2.5h-22zM274.5 426.5h2.5v2.5h-2.5zM279.5 426.5h4.5v2.5h-4.5zM301.5 426.5h12v2.5h-12zM321 426.5h14.5v2.5h-14.5zM345.5 426.5h32v2.5h-32zM384.5 426.5h20v2.5h-20zM409 426.5h20v2.5h-20zM436 426.5h5v2.5h-5zM470.5 426.5h5v2.5h-5zM14.5 429h5v2h-5zM105.5 429h2.5v2h-2.5zM152 429h5v2h-5zM166.5 429h12.5v2h-12.5zM198.5 429h5v2h-5zM210.5 429h2.5v2h-2.5zM218 429h7.5v2h-7.5zM240 429h19.5v2h-19.5zM286.5 429h2.5v2h-2.5zM299 429h7v2h-7zM311 429h15v2h-15zM333 429h5v2h-5zM345.5 429h2.5v2h-2.5zM353 429h27v2h-27zM389.5 429h7.5v2h-7.5zM411.5 429h19.5v2h-19.5zM436 429h5v2h-5zM14.5 431h5v2.5h-5zM105.5 431h7v2.5h-7zM139.5 431h2.5v2.5h-2.5zM152 431h7v2.5h-7zM166.5 431h10v2.5h-10zM179 431h7v2.5h-7zM201 431h7.5v2.5h-7.5zM218 431h7.5v2.5h-7.5zM230.5 431h4.5v2.5h-4.5zM240 431h17v2.5h-17zM284 431h5v2.5h-5zM299 431h14.5v2.5h-14.5zM316 431h10v2.5h-10zM348 431h19.5v2.5h-19.5zM372.5 431h9.5v2.5h-9.5zM394.5 431h5v2.5h-5zM411.5 431h2.5v2.5h-2.5zM416.5 431h2.5v2.5h-2.5zM421.5 431h19.5v2.5h-19.5zM14.5 433.5h5v2.5h-5zM49 433.5h2.5v2.5h-2.5zM88 433.5h5v2.5h-5zM105.5 433.5h9.5v2.5h-9.5zM137 433.5h5v2.5h-5zM152 433.5h7v2.5h-7zM164 433.5h10v2.5h-10zM184 433.5h2v2.5h-2zM203.5 433.5h5v2.5h-5zM223 433.5h12v2.5h-12zM240 433.5h17v2.5h-17zM262 433.5h2.5v2.5h-2.5zM269.5 433.5h2.5v2.5h-2.5zM282 433.5h4.5v2.5h-4.5zM299 433.5h12v2.5h-12zM316 433.5h15v2.5h-15zM340.5 433.5h2.5v2.5h-2.5zM345.5 433.5h7.5v2.5h-7.5zM357.5 433.5h10v2.5h-10zM377.5 433.5h4.5v2.5h-4.5zM387 433.5h2.5v2.5h-2.5zM394.5 433.5h10v2.5h-10zM426.5 433.5h12v2.5h-12zM468 433.5h5v2.5h-5z"/>
<path fill="#0088cc" d="M103 14.5h44v2.5h-44zM103 17h22v2.5h-22zM130 17h17v2.5h-17zM98 19.5h19.5v2.5h-19.5zM137 19.5h10v2.5h-10zM103 22h14.5v2.5h-14.5zM137 22h10v2.5h-10zM93 24.5h2.5v2.5h-2.5zM103 24.5h19.5v2.5h-19.5zM137 24.5h10v2.5h-10zM103 27h19.5v2.5h-19.5zM137 27h10v2.5h-10zM93 29.5h5v2.5h-5zM100.5 29.5h7.5v2.5h-7.5zM112.5 29.5h39.5v2.5h-39.5zM93 32h17.5v2.5h-17.5zM112.5 32h39.5v2.5h-39.5zM93 34.5h59v2.5h-59zM93 37h24.5v2h-24.5zM122.5 37h29.5v2h-29.5zM93 39h29.5v2.5h-29.5zM125 39h27v2.5h-27zM93 41.5h59v2.5h-59zM98 44h19.5v2.5h-19.5zM130 44h17v2.5h-17zM98 46.5h27v2.5h-27zM127.5 46.5h19.5v2.5h-19.5zM98 49h7.5v2.5h-7.5zM108 49h34v2.5h-34zM98 51.5h2.5v2.5h-2.5zM105.5 51.5h7v2.5h-7zM117.5 51.5h24.5v2.5h-24.5zM152 103h54v2.5h-54zM152 105.5h54v2.5h-54zM98 108h14.5v2.5h-14.5zM127.5 108h78.5v2.5h-78.5zM98 110.5h14.5v2h-14.5zM127.5 110.5h78.5v2h-78.5zM103 112.5h107.5v2.5h-107.5zM103 115h107.5v2.5h-107.5zM112.5 117.5h108v2.5h-108zM112.5 120h108v2.5h-108zM117.5 122.5h108v2.5h-108zM117.5 125h108v2.5h-108zM117.5 127.5h113v2.5h-113zM117.5 130h113v2.5h-113zM122.5 132.5h112.5v2.5h-112.5zM122.5 135h112.5v2h-112.5zM127.5 137h112.5v2.5h-112.5zM127.5 139.5h112.5v2.5h-112.5zM132.5 142h112.5v2.5h-112.5zM132.5 144.5h112.5v2.5h-112.5zM137 147h113v2.5h-113zM137 149.5h113v2.5h-113zM142 152h113v2.5h-113zM142 154.5h113v2.5h-113zM147 157h112.5v2h-112.5zM147 159h112.5v2.5h-112.5zM152 161.5h24.5v2.5h-24.5zM179 161.5h5v2.5h-5zM210.5 161.5h54v2.5h-54zM152 164h24.5v2.5h-24.5zM213 164h51.5v2.5h-51.5zM161.5 166.5h15v2.5h-15zM225.5 166.5h44v2.5h-44zM161.5 169h15v2.5h-15zM225.5 169h44v2.5h-44zM166.5 171.5h10v2.5h-10zM230.5 171.5h44v2.5h-44zM166.5 174h10v2.5h-10zM193.5 174h5v2.5h-5zM230.5 174h44v2.5h-44zM166.5 176.5h15v2.5h-15zM196 176.5h7.5v2.5h-7.5zM240 176.5h39.5v2.5h-39.5zM166.5 179h15v2.5h-15zM198.5 179h2.5v2.5h-2.5zM237.5 179h42v2.5h-42zM171.5 181.5h29.5v2.5h-29.5zM240 181.5h39.5v2.5h-39.5zM171.5 184h29.5v2h-29.5zM245 184h34.5v2h-34.5zM176.5 186h29.5v2.5h-29.5zM250 186h34v2.5h-34zM176.5 188.5h29.5v2.5h-29.5zM215.5 188.5h7.5v2.5h-7.5zM250 188.5h34v2.5h-34zM181.5 191h39v2.5h-39zM228 191h2.5v2.5h-2.5zM250 191h39v2.5h-39zM181.5 193.5h34v2.5h-34zM228 193.5h2.5v2.5h-2.5zM250 193.5h39v2.5h-39zM186 196h29.5v2.5h-29.5zM250 196h44v2.5h-44zM186 198.5h29.5v2.5h-29.5zM250 198.5h44v2.5h-44zM186 201h22.5v2.5h-22.5zM218 201h2.5v2.5h-2.5zM250 201h49v2.5h-49zM186 203.5h24.5v2.5h-24.5zM218 203.5h7.5v2.5h-7.5zM250 203.5h49v2.5h-49zM191 206h19.5v2.5h-19.5zM213 206h10v2.5h-10zM250 206h49v2.5h-49zM191 208.5h34.5v2h-34.5zM250 208.5h49v2h-49zM191 210.5h34.5v2.5h-34.5zM230.5 210.5h2.5v2.5h-2.5zM250 210.5h49v2.5h-49zM191 213h24.5v2.5h-24.5zM220.5 213h2.5v2.5h-2.5zM230.5 213h2.5v2.5h-2.5zM250 213h49v2.5h-49zM196 215.5h19.5v2.5h-19.5zM220.5 215.5h14.5v2.5h-14.5zM250 215.5h44v2.5h-44zM196 218h19.5v2.5h-19.5zM223 218h12v2.5h-12zM250 218h44v2.5h-44zM196 220.5h44v2.5h-44zM245 220.5h49v2.5h-49zM196 223h44v2.5h-44zM245 223h49v2.5h-49zM206 225.5h88v2.5h-88zM206 228h88v2.5h-88zM210.5 230.5h83.5v2.5h-83.5zM210.5 233h83.5v2h-83.5zM215.5 235h73.5v2.5h-73.5zM215.5 237.5h73.5v2.5h-73.5zM220.5 240h68.5v2.5h-68.5zM220.5 242.5h68.5v2.5h-68.5zM225.5 245h19.5v2.5h-19.5zM259.5 245h29.5v2.5h-29.5zM225.5 247.5h19.5v2.5h-19.5zM259.5 247.5h29.5v2.5h-29.5zM235 250h10v2.5h-10zM259.5 250h24.5v2.5h-24.5zM235 252.5h10v2.5h-10zM259.5 252.5h24.5v2.5h-24.5zM240 255h5v2h-5zM264.5 255h19.5v2h-19.5zM240 257h5v2.5h-5zM264.5 257h19.5v2.5h-19.5zM264.5 259.5h19.5v2.5h-19.5zM264.5 262h19.5v2.5h-19.5zM255 264.5h29v2.5h-29zM255 267h29v2.5h-29zM259.5 269.5h24.5v2.5h-24.5zM259.5 272h24.5v2.5h-24.5zM259.5 274.5h20v2.5h-20zM259.5 277h20v2.5h-20zM264.5 279.5h15v2.5h-15zM264.5 282h15v2h-15zM264.5 284h10v2.5h-10zM264.5 286.5h10v2.5h-10z"/>
<path fill="#0022cc" d="M125 17h5v2.5h-5zM117.5 19.5h19.5v2.5h-19.5zM98 22h5v2.5h-5zM117.5 22h19.5v2.5h-19.5zM95.5 24.5h7.5v2.5h-7.5zM122.5 24.5h14.5v2.5h-14.5zM93 27h10v2.5h-10zM122.5 27h14.5v2.5h-14.5zM98 29.5h2.5v2.5h-2.5zM108 29.5h4.5v2.5h-4.5zM110.5 32h2v2.5h-2zM117.5 37h5v2h-5zM122.5 39h2.5v2.5h-2.5zM117.5 44h12.5v2.5h-12.5zM125 46.5h2.5v2.5h-2.5zM105.5 49h2.5v2.5h-2.5zM100.5 51.5h5v2.5h-5zM112.5 51.5h5v2.5h-5zM176.5 161.5h2.5v2.5h-2.5zM184 161.5h26.5v2.5h-26.5zM176.5 164h36.5v2.5h-36.5zM176.5 166.5h49v2.5h-49zM176.5 169h49v2.5h-49zM176.5 171.5h54v2.5h-54zM176.5 174h17v2.5h-17zM198.5 174h32v2.5h-32zM181.5 176.5h14.5v2.5h-14.5zM203.5 176.5h36.5v2.5h-36.5zM181.5 179h17v2.5h-17zM201 179h36.5v2.5h-36.5zM201 181.5h39v2.5h-39zM201 184h44v2h-44zM206 186h44v2.5h-44zM206 188.5h9.5v2.5h-9.5zM223 188.5h27v2.5h-27zM220.5 191h7.5v2.5h-7.5zM230.5 191h19.5v2.5h-19.5zM215.5 193.5h12.5v2.5h-12.5zM230.5 193.5h19.5v2.5h-19.5zM215.5 196h34.5v2.5h-34.5zM215.5 198.5h34.5v2.5h-34.5zM208.5 201h9.5v2.5h-9.5zM220.5 201h29.5v2.5h-29.5zM210.5 203.5h7.5v2.5h-7.5zM225.5 203.5h24.5v2.5h-24.5zM210.5 206h2.5v2.5h-2.5zM223 206h27v2.5h-27zM225.5 208.5h24.5v2h-24.5zM225.5 210.5h5v2.5h-5zM233 210.5h17v2.5h-17zM215.5 213h5v2.5h-5zM223 213h7.5v2.5h-7.5zM233 213h17v2.5h-17zM215.5 215.5h5v2.5h-5zM235 215.5h15v2.5h-15zM215.5 218h7.5v2.5h-7.5zM235 218h15v2.5h-15zM240 220.5h5v2.5h-5zM240 223h5v2.5h-5zM245 245h14.5v2.5h-14.5zM245 247.5h14.5v2.5h-14.5zM245 250h14.5v2.5h-14.5zM245 252.5h14.5v2.5h-14.5zM245 255h19.5v2h-19.5zM245 257h19.5v2.5h-19.5zM250 259.5h14.5v2.5h-14.5zM250 262h14.5v2.5h-14.5z"/>
<path fill="#ff6a00" d="M27 63.5h2.5v2.5h-2.5zM44 63.5h5v2.5h-5zM5 66h2.5v2.5h-2.5zM27 66h2.5v2.5h-2.5zM37 66h2v2.5h-2zM2.5 68.5h7.5v2.5h-7.5zM37 68.5h4.5v2.5h-4.5zM2.5 71h9.5v2.5h-9.5zM37 71h4.5v2.5h-4.5zM5 73.5h7v2.5h-7zM24.5 73.5h2.5v2.5h-2.5zM61.5 73.5h2v2.5h-2zM49 78.5h2.5v2.5h-2.5zM44 81h7.5v2.5h-7.5zM59 81h2.5v2.5h-2.5zM29.5 83.5h5v2.5h-5zM44 83.5h5v2.5h-5zM56.5 83.5h5v2.5h-5zM56.5 86h2.5v2h-2.5zM27 90.5h2.5v2.5h-2.5zM27 93h10v2.5h-10zM0 95.5h2.5v2.5h-2.5zM32 95.5h5v2.5h-5zM0 98h2.5v2.5h-2.5zM0 100.5h2.5v2.5h-2.5zM44 105.5h7.5v2.5h-7.5zM54 105.5h5v2.5h-5zM0 108h7.5v2.5h-7.5zM27 108h12v2.5h-12zM41.5 108h10v2.5h-10zM54 108h5v2.5h-5zM5 110.5h2.5v2h-2.5zM10 110.5h2v2h-2zM29.5 110.5h7.5v2h-7.5zM39 110.5h10v2h-10zM56.5 110.5h2.5v2h-2.5zM10 112.5h2v2.5h-2zM41.5 112.5h7.5v2.5h-7.5zM56.5 112.5h2.5v2.5h-2.5zM10 115h2v2.5h-2zM14.5 115h2.5v2.5h-2.5zM24.5 115h5v2.5h-5zM41.5 115h5v2.5h-5zM56.5 115h2.5v2.5h-2.5zM10 117.5h2v2.5h-2zM22 117.5h7.5v2.5h-7.5zM39 117.5h2.5v2.5h-2.5zM10 120h2v2.5h-2zM22 120h7.5v2.5h-7.5zM39 120h2.5v2.5h-2.5zM54 120h2.5v2.5h-2.5zM10 122.5h2v2.5h-2zM17 122.5h12.5v2.5h-12.5zM32 122.5h5v2.5h-5zM54 122.5h5v2.5h-5zM14.5 125h22.5v2.5h-22.5zM54 125h5v2.5h-5zM10 127.5h19.5v2.5h-19.5zM32 127.5h19.5v2.5h-19.5zM54 127.5h9.5v2.5h-9.5zM12 130h12.5v2.5h-12.5zM32 130h7v2.5h-7zM41.5 130h12.5v2.5h-12.5zM61.5 130h2v2.5h-2zM12 132.5h10v2.5h-10zM29.5 132.5h9.5v2.5h-9.5zM44 132.5h10v2.5h-10zM12 135h25v2h-25zM44 135h10v2h-10zM12 137h10v2.5h-10zM27 137h24.5v2.5h-24.5zM54 137h5v2.5h-5zM10 139.5h7v2.5h-7zM19.5 139.5h2.5v2.5h-2.5zM27 139.5h14.5v2.5h-14.5zM46.5 139.5h5v2.5h-5zM56.5 139.5h2.5v2.5h-2.5zM12 142h2.5v2.5h-2.5zM19.5 142h22v2.5h-22zM49 142h2.5v2.5h-2.5zM56.5 142h2.5v2.5h-2.5zM10 144.5h4.5v2.5h-4.5zM19.5 144.5h24.5v2.5h-24.5zM49 144.5h5v2.5h-5zM56.5 144.5h2.5v2.5h-2.5zM14.5 147h2.5v2.5h-2.5zM34.5 147h9.5v2.5h-9.5zM46.5 147h10v2.5h-10zM12 149.5h5v2.5h-5zM24.5 149.5h19.5v2.5h-19.5zM46.5 149.5h12.5v2.5h-12.5zM66 149.5h2.5v2.5h-2.5zM10 152h9.5v2.5h-9.5zM22 152h12.5v2.5h-12.5zM37 152h22v2.5h-22zM10 154.5h9.5v2.5h-9.5zM22 154.5h12.5v2.5h-12.5zM41.5 154.5h5v2.5h-5zM59 154.5h2.5v2.5h-2.5zM10 157h19.5v2h-19.5zM44 157h7.5v2h-7.5zM59 157h4.5v2h-4.5zM66 157h2.5v2h-2.5zM19.5 159h12.5v2.5h-12.5zM34.5 159h4.5v2.5h-4.5zM44 159h5v2.5h-5zM51.5 159h12v2.5h-12zM66 159h2.5v2.5h-2.5zM19.5 161.5h15v2.5h-15zM54 161.5h9.5v2.5h-9.5zM68.5 161.5h5v2.5h-5zM19.5 164h15v2.5h-15zM41.5 164h2.5v2.5h-2.5zM56.5 164h7v2.5h-7zM68.5 164h5v2.5h-5zM10 166.5h4.5v2.5h-4.5zM19.5 166.5h17.5v2.5h-17.5zM39 166.5h7.5v2.5h-7.5zM49 166.5h2.5v2.5h-2.5zM56.5 166.5h7v2.5h-7zM71 166.5h2.5v2.5h-2.5zM10 169h4.5v2.5h-4.5zM17 169h20v2.5h-20zM39 169h15v2.5h-15zM59 169h4.5v2.5h-4.5zM71 169h2.5v2.5h-2.5zM12 171.5h5v2.5h-5zM19.5 171.5h34.5v2.5h-34.5zM63.5 171.5h2.5v2.5h-2.5zM68.5 171.5h12.5v2.5h-12.5zM10 174h7v2.5h-7zM22 174h34.5v2.5h-34.5zM63.5 174h2.5v2.5h-2.5zM10 176.5h7v2.5h-7zM24.5 176.5h34.5v2.5h-34.5zM63.5 176.5h5v2.5h-5zM86 176.5h2v2.5h-2zM10 179h9.5v2.5h-9.5zM27 179h10v2.5h-10zM41.5 179h5v2.5h-5zM51.5 179h14.5v2.5h-14.5zM86 179h2v2.5h-2zM10 181.5h9.5v2.5h-9.5zM27 181.5h7.5v2.5h-7.5zM41.5 181.5h5v2.5h-5zM51.5 181.5h10v2.5h-10zM71 181.5h2.5v2.5h-2.5zM83.5 181.5h7v2.5h-7zM10 184h22v2h-22zM37 184h2v2h-2zM51.5 184h10v2h-10zM63.5 184h5v2h-5zM83.5 184h7v2h-7zM10 186h4.5v2.5h-4.5zM17 186h15v2.5h-15zM39 186h2.5v2.5h-2.5zM51.5 186h10v2.5h-10zM63.5 186h5v2.5h-5zM83.5 186h7v2.5h-7zM10 188.5h24.5v2.5h-24.5zM39 188.5h22.5v2.5h-22.5zM66 188.5h2.5v2.5h-2.5zM81 188.5h9.5v2.5h-9.5zM10 191h22v2.5h-22zM39 191h10v2.5h-10zM51.5 191h2.5v2.5h-2.5zM59 191h4.5v2.5h-4.5zM81 191h9.5v2.5h-9.5zM10 193.5h19.5v2.5h-19.5zM41.5 193.5h15v2.5h-15zM83.5 193.5h9.5v2.5h-9.5zM17 196h10v2.5h-10zM41.5 196h17.5v2.5h-17.5zM63.5 196h2.5v2.5h-2.5zM76 196h2.5v2.5h-2.5zM88 196h2.5v2.5h-2.5zM17 198.5h7.5v2.5h-7.5zM41.5 198.5h2.5v2.5h-2.5zM46.5 198.5h15v2.5h-15zM63.5 198.5h2.5v2.5h-2.5zM100.5 198.5h2.5v2.5h-2.5zM17 201h5v2.5h-5zM39 201h12.5v2.5h-12.5zM54 201h12v2.5h-12zM73.5 201h2.5v2.5h-2.5zM100.5 201h7.5v2.5h-7.5zM17 203.5h10v2.5h-10zM32 203.5h17v2.5h-17zM59 203.5h19.5v2.5h-19.5zM103 203.5h5v2.5h-5zM17 206h10v2.5h-10zM29.5 206h22v2.5h-22zM56.5 206h24.5v2.5h-24.5zM86 206h2v2.5h-2zM93 206h2.5v2.5h-2.5zM108 206h4.5v2.5h-4.5zM14.5 208.5h12.5v2h-12.5zM32 208.5h22v2h-22zM59 208.5h22v2h-22zM83.5 208.5h4.5v2h-4.5zM93 208.5h2.5v2h-2.5zM108 208.5h4.5v2h-4.5zM19.5 210.5h7.5v2.5h-7.5zM32 210.5h7v2.5h-7zM44 210.5h22v2.5h-22zM68.5 210.5h12.5v2.5h-12.5zM100.5 210.5h2.5v2.5h-2.5zM110.5 210.5h2v2.5h-2zM19.5 213h5v2.5h-5zM29.5 213h9.5v2.5h-9.5zM44 213h19.5v2.5h-19.5zM68.5 213h7.5v2.5h-7.5zM78.5 213h9.5v2.5h-9.5zM90.5 213h5v2.5h-5zM19.5 215.5h19.5v2.5h-19.5zM44 215.5h12.5v2.5h-12.5zM61.5 215.5h2v2.5h-2zM68.5 215.5h7.5v2.5h-7.5zM78.5 215.5h22v2.5h-22zM103 215.5h5v2.5h-5zM22 218h15v2.5h-15zM39 218h17.5v2.5h-17.5zM63.5 218h12.5v2.5h-12.5zM78.5 218h34v2.5h-34zM10 220.5h2v2.5h-2zM24.5 220.5h12.5v2.5h-12.5zM41.5 220.5h17.5v2.5h-17.5zM61.5 220.5h17v2.5h-17zM81 220.5h31.5v2.5h-31.5zM10 223h4.5v2.5h-4.5zM24.5 223h2.5v2.5h-2.5zM29.5 223h9.5v2.5h-9.5zM41.5 223h24.5v2.5h-24.5zM73.5 223h22v2.5h-22zM98 223h7.5v2.5h-7.5zM108 223h4.5v2.5h-4.5zM22 225.5h2.5v2.5h-2.5zM29.5 225.5h9.5v2.5h-9.5zM41.5 225.5h7.5v2.5h-7.5zM51.5 225.5h12v2.5h-12zM76 225.5h10v2.5h-10zM90.5 225.5h15v2.5h-15zM110.5 225.5h9.5v2.5h-9.5zM22 228h2.5v2.5h-2.5zM32 228h14.5v2.5h-14.5zM51.5 228h7.5v2.5h-7.5zM76 228h29.5v2.5h-29.5zM110.5 228h4.5v2.5h-4.5zM117.5 228h5v2.5h-5zM12 230.5h2.5v2.5h-2.5zM32 230.5h7v2.5h-7zM41.5 230.5h2.5v2.5h-2.5zM49 230.5h10v2.5h-10zM68.5 230.5h5v2.5h-5zM83.5 230.5h14.5v2.5h-14.5zM103 230.5h5v2.5h-5zM110.5 230.5h4.5v2.5h-4.5zM117.5 230.5h5v2.5h-5zM125 230.5h2.5v2.5h-2.5zM29.5 233h7.5v2h-7.5zM39 233h5v2h-5zM49 233h22v2h-22zM76 233h5v2h-5zM86 233h9.5v2h-9.5zM110.5 233h9.5v2h-9.5zM125 233h2.5v2h-2.5zM29.5 235h7.5v2.5h-7.5zM41.5 235h2.5v2.5h-2.5zM63.5 235h7.5v2.5h-7.5zM76 235h5v2.5h-5zM103 235h5v2.5h-5zM110.5 235h2v2.5h-2zM32 237.5h5v2.5h-5zM54 237.5h5v2.5h-5zM63.5 237.5h5v2.5h-5zM95.5 237.5h12.5v2.5h-12.5zM120 237.5h2.5v2.5h-2.5zM34.5 240h2.5v2.5h-2.5zM54 240h5v2.5h-5zM71 240h12.5v2.5h-12.5zM95.5 240h12.5v2.5h-12.5zM112.5 240h10v2.5h-10zM39 242.5h2.5v2.5h-2.5zM46.5 242.5h10v2.5h-10zM73.5 242.5h10v2.5h-10zM88 242.5h2.5v2.5h-2.5zM103 242.5h19.5v2.5h-19.5zM44 245h7.5v2.5h-7.5zM73.5 245h2.5v2.5h-2.5zM110.5 245h17v2.5h-17zM130 245h2.5v2.5h-2.5zM17 247.5h5v2.5h-5zM44 247.5h7.5v2.5h-7.5zM56.5 247.5h2.5v2.5h-2.5zM71 247.5h5v2.5h-5zM93 247.5h5v2.5h-5zM115 247.5h17.5v2.5h-17.5zM41.5 250h10v2.5h-10zM56.5 250h5v2.5h-5zM95.5 250h7.5v2.5h-7.5zM117.5 250h19.5v2.5h-19.5zM39 252.5h5v2.5h-5zM98 252.5h5v2.5h-5zM112.5 252.5h24.5v2.5h-24.5zM37 255h4.5v2h-4.5zM66 255h2.5v2h-2.5zM98 255h5v2h-5zM108 255h14.5v2h-14.5zM125 255h12v2h-12zM10 257h2v2.5h-2zM17 257h5v2.5h-5zM27 257h5v2.5h-5zM34.5 257h7v2.5h-7zM51.5 257h2.5v2.5h-2.5zM63.5 257h7.5v2.5h-7.5zM78.5 257h5v2.5h-5zM98 257h39v2.5h-39zM10 259.5h14.5v2.5h-14.5zM29.5 259.5h17v2.5h-17zM49 259.5h7.5v2.5h-7.5zM59 259.5h4.5v2.5h-4.5zM78.5 259.5h2.5v2.5h-2.5zM88 259.5h7.5v2.5h-7.5zM100.5 259.5h2.5v2.5h-2.5zM108 259.5h4.5v2.5h-4.5zM122.5 259.5h5v2.5h-5zM130 259.5h12v2.5h-12zM10 262h14.5v2.5h-14.5zM34.5 262h9.5v2.5h-9.5zM54 262h7.5v2.5h-7.5zM86 262h2v2.5h-2zM110.5 262h4.5v2.5h-4.5zM125 262h5v2.5h-5zM135 262h7v2.5h-7zM10 264.5h19.5v2.5h-19.5zM32 264.5h9.5v2.5h-9.5zM112.5 264.5h15v2.5h-15zM135 264.5h9.5v2.5h-9.5zM10 267h4.5v2.5h-4.5zM19.5 267h17.5v2.5h-17.5zM54 267h2.5v2.5h-2.5zM61.5 267h4.5v2.5h-4.5zM108 267h2.5v2.5h-2.5zM112.5 267h12.5v2.5h-12.5zM132.5 267h14.5v2.5h-14.5zM19.5 269.5h5v2.5h-5zM27 269.5h17v2.5h-17zM54 269.5h2.5v2.5h-2.5zM59 269.5h7v2.5h-7zM86 269.5h7v2.5h-7zM115 269.5h12.5v2.5h-12.5zM132.5 269.5h24.5v2.5h-24.5zM29.5 272h2.5v2.5h-2.5zM37 272h9.5v2.5h-9.5zM51.5 272h5v2.5h-5zM59 272h7v2.5h-7zM71 272h5v2.5h-5zM86 272h9.5v2.5h-9.5zM112.5 272h7.5v2.5h-7.5zM122.5 272h14.5v2.5h-14.5zM142 272h15v2.5h-15zM37 274.5h4.5v2.5h-4.5zM44 274.5h2.5v2.5h-2.5zM73.5 274.5h7.5v2.5h-7.5zM86 274.5h14.5v2.5h-14.5zM112.5 274.5h2.5v2.5h-2.5zM117.5 274.5h10v2.5h-10zM130 274.5h2.5v2.5h-2.5zM135 274.5h2v2.5h-2zM147 274.5h14.5v2.5h-14.5zM39 277h2.5v2.5h-2.5zM76 277h24.5v2.5h-24.5zM112.5 277h17.5v2.5h-17.5zM132.5 277h9.5v2.5h-9.5zM154.5 277h7v2.5h-7zM24.5 279.5h5v2.5h-5zM37 279.5h4.5v2.5h-4.5zM49 279.5h2.5v2.5h-2.5zM78.5 279.5h5v2.5h-5zM112.5 279.5h15v2.5h-15zM130 279.5h17v2.5h-17zM154.5 279.5h12v2.5h-12zM24.5 282h14.5v2h-14.5zM49 282h2.5v2h-2.5zM112.5 282h5v2h-5zM120 282h7.5v2h-7.5zM130 282h36.5v2h-36.5zM24.5 284h5v2.5h-5zM34.5 284h4.5v2.5h-4.5zM117.5 284h7.5v2.5h-7.5zM135 284h36.5v2.5h-36.5zM34.5 286.5h4.5v2.5h-4.5zM49 286.5h14.5v2.5h-14.5zM117.5 286.5h10v2.5h-10zM135 286.5h2v2.5h-2zM142 286.5h29.5v2.5h-29.5zM49 289h7.5v2.5h-7.5zM117.5 289h12.5v2.5h-12.5zM135 289h2v2.5h-2zM142 289h22v2.5h-22zM166.5 289h7.5v2.5h-7.5zM51.5 291.5h2.5v2.5h-2.5zM117.5 291.5h10v2.5h-10zM135 291.5h4.5v2.5h-4.5zM142 291.5h2.5v2.5h-2.5zM147 291.5h17v2.5h-17zM166.5 291.5h7.5v2.5h-7.5zM41.5 294h5v2.5h-5zM122.5 294h2.5v2.5h-2.5zM132.5 294h14.5v2.5h-14.5zM149.5 294h22v2.5h-22zM228 294h2.5v2.5h-2.5zM34.5 296.5h12v2.5h-12zM120 296.5h5v2.5h-5zM132.5 296.5h4.5v2.5h-4.5zM139.5 296.5h32v2.5h-32zM225.5 296.5h5v2.5h-5zM39 299h7.5v2.5h-7.5zM120 299h39v2.5h-39zM161.5 299h15v2.5h-15zM223 299h10v2.5h-10zM39 301.5h10v2.5h-10zM51.5 301.5h2.5v2.5h-2.5zM120 301.5h2.5v2.5h-2.5zM127.5 301.5h12v2.5h-12zM144.5 301.5h12.5v2.5h-12.5zM161.5 301.5h15v2.5h-15zM220.5 301.5h5v2.5h-5zM230.5 301.5h2.5v2.5h-2.5zM235 301.5h2.5v2.5h-2.5zM44 304h5v2h-5zM125 304h14.5v2h-14.5zM144.5 304h5v2h-5zM152 304h2.5v2h-2.5zM159 304h15v2h-15zM220.5 304h5v2h-5zM230.5 304h14.5v2h-14.5zM125 306h14.5v2.5h-14.5zM142 306h5v2.5h-5zM152 306h2.5v2.5h-2.5zM159 306h17.5v2.5h-17.5zM220.5 306h5v2.5h-5zM233 306h12v2.5h-12zM122.5 308.5h5v2.5h-5zM130 308.5h9.5v2.5h-9.5zM142 308.5h39.5v2.5h-39.5zM215.5 308.5h5v2.5h-5zM237.5 308.5h7.5v2.5h-7.5zM122.5 311h5v2.5h-5zM132.5 311h7v2.5h-7zM147 311h2.5v2.5h-2.5zM154.5 311h27v2.5h-27zM215.5 311h7.5v2.5h-7.5zM127.5 313.5h5v2.5h-5zM135 313.5h2v2.5h-2zM144.5 313.5h37v2.5h-37zM201 313.5h5v2.5h-5zM208.5 313.5h9.5v2.5h-9.5zM228 313.5h5v2.5h-5zM127.5 316h41.5v2.5h-41.5zM174 316h10v2.5h-10zM201 316h5v2.5h-5zM213 316h2.5v2.5h-2.5zM228 316h5v2.5h-5zM137 318.5h32v2.5h-32zM174 318.5h7.5v2.5h-7.5zM255 318.5h4.5v2.5h-4.5zM137 321h15v2.5h-15zM157 321h9.5v2.5h-9.5zM174 321h7.5v2.5h-7.5zM208.5 321h4.5v2.5h-4.5zM223 321h2.5v2.5h-2.5zM233 321h4.5v2.5h-4.5zM242.5 321h2.5v2.5h-2.5zM139.5 323.5h5v2.5h-5zM147 323.5h5v2.5h-5zM159 323.5h7.5v2.5h-7.5zM171.5 323.5h10v2.5h-10zM186 323.5h2.5v2.5h-2.5zM196 323.5h2.5v2.5h-2.5zM208.5 323.5h9.5v2.5h-9.5zM223 323.5h7.5v2.5h-7.5zM233 323.5h2v2.5h-2zM240 323.5h7.5v2.5h-7.5zM250 323.5h5v2.5h-5zM130 326h5v2.5h-5zM139.5 326h2.5v2.5h-2.5zM147 326h22v2.5h-22zM171.5 326h10v2.5h-10zM184 326h2v2.5h-2zM198.5 326h5v2.5h-5zM208.5 326h22v2.5h-22zM233 326h2v2.5h-2zM130 328.5h5v2.5h-5zM152 328.5h2.5v2.5h-2.5zM161.5 328.5h5v2.5h-5zM169 328.5h2.5v2.5h-2.5zM174 328.5h2.5v2.5h-2.5zM181.5 328.5h4.5v2.5h-4.5zM201 328.5h5v2.5h-5zM213 328.5h15v2.5h-15zM233 328.5h4.5v2.5h-4.5zM274.5 328.5h7.5v2.5h-7.5zM130 331h2.5v2h-2.5zM159 331h5v2h-5zM166.5 331h10v2h-10zM184 331h2v2h-2zM198.5 331h10v2h-10zM213 331h2.5v2h-2.5zM218 331h7.5v2h-7.5zM235 331h2.5v2h-2.5zM171.5 333h5v2.5h-5zM196 333h17v2.5h-17zM235 333h2.5v2.5h-2.5zM247.5 333h5v2.5h-5zM144.5 335.5h2.5v2.5h-2.5zM171.5 335.5h5v2.5h-5zM193.5 335.5h7.5v2.5h-7.5zM210.5 335.5h2.5v2.5h-2.5zM218 335.5h2.5v2.5h-2.5zM235 335.5h2.5v2.5h-2.5zM245 335.5h12v2.5h-12zM269.5 335.5h2.5v2.5h-2.5zM139.5 338h7.5v2.5h-7.5zM174 338h2.5v2.5h-2.5zM193.5 338h7.5v2.5h-7.5zM218 338h2.5v2.5h-2.5zM252.5 338h7v2.5h-7zM137 340.5h5v2.5h-5zM152 340.5h5v2.5h-5zM174 340.5h14.5v2.5h-14.5zM252.5 340.5h2.5v2.5h-2.5zM286.5 340.5h2.5v2.5h-2.5zM132.5 343h2.5v2.5h-2.5zM164 343h7.5v2.5h-7.5zM176.5 343h7.5v2.5h-7.5zM237.5 343h5v2.5h-5zM267 343h2.5v2.5h-2.5zM286.5 343h10v2.5h-10zM318.5 343h5v2.5h-5zM132.5 345.5h4.5v2.5h-4.5zM144.5 345.5h2.5v2.5h-2.5zM152 345.5h5v2.5h-5zM164 345.5h10v2.5h-10zM228 345.5h5v2.5h-5zM237.5 345.5h2.5v2.5h-2.5zM264.5 345.5h12.5v2.5h-12.5zM286.5 345.5h10v2.5h-10zM318.5 345.5h5v2.5h-5zM142 348h5v2.5h-5zM149.5 348h24.5v2.5h-24.5zM206 348h4.5v2.5h-4.5zM230.5 348h9.5v2.5h-9.5zM264.5 348h10v2.5h-10zM284 348h10v2.5h-10zM299 348h7v2.5h-7zM311 348h12.5v2.5h-12.5zM326 348h2.5v2.5h-2.5zM139.5 350.5h7.5v2.5h-7.5zM149.5 350.5h14.5v2.5h-14.5zM191 350.5h5v2.5h-5zM203.5 350.5h7v2.5h-7zM269.5 350.5h5v2.5h-5zM284 350.5h12.5v2.5h-12.5zM299 350.5h5v2.5h-5zM331 350.5h2v2.5h-2zM139.5 353h12.5v2h-12.5zM157 353h7v2h-7zM203.5 353h7v2h-7zM289 353h7.5v2h-7.5zM318.5 353h2.5v2h-2.5zM331 353h2v2h-2zM340.5 353h5v2h-5zM139.5 355h7.5v2.5h-7.5zM157 355h9.5v2.5h-9.5zM176.5 355h2.5v2.5h-2.5zM193.5 355h2.5v2.5h-2.5zM206 355h4.5v2.5h-4.5zM225.5 355h2.5v2.5h-2.5zM237.5 355h2.5v2.5h-2.5zM247.5 355h2.5v2.5h-2.5zM289 355h5v2.5h-5zM343 355h2.5v2.5h-2.5zM139.5 357.5h10v2.5h-10zM154.5 357.5h12v2.5h-12zM174 357.5h5v2.5h-5zM186 357.5h2.5v2.5h-2.5zM235 357.5h7.5v2.5h-7.5zM245 357.5h5v2.5h-5zM301.5 357.5h2.5v2.5h-2.5zM338 357.5h2.5v2.5h-2.5zM142 360h7.5v2.5h-7.5zM154.5 360h12v2.5h-12zM176.5 360h2.5v2.5h-2.5zM186 360h5v2.5h-5zM235 360h15v2.5h-15zM272 360h2.5v2.5h-2.5zM284 360h5v2.5h-5zM299 360h7v2.5h-7zM311 360h2.5v2.5h-2.5zM316 360h5v2.5h-5zM353 360h4.5v2.5h-4.5zM139.5 362.5h10v2.5h-10zM154.5 362.5h4.5v2.5h-4.5zM166.5 362.5h5v2.5h-5zM188.5 362.5h5v2.5h-5zM201 362.5h5v2.5h-5zM210.5 362.5h5v2.5h-5zM237.5 362.5h5v2.5h-5zM245 362.5h12v2.5h-12zM272 362.5h2.5v2.5h-2.5zM291.5 362.5h2.5v2.5h-2.5zM299 362.5h17v2.5h-17zM335.5 362.5h2.5v2.5h-2.5zM345.5 362.5h17v2.5h-17zM370 362.5h2.5v2.5h-2.5zM137 365h5v2.5h-5zM157 365h2v2.5h-2zM166.5 365h7.5v2.5h-7.5zM188.5 365h5v2.5h-5zM203.5 365h2.5v2.5h-2.5zM213 365h7.5v2.5h-7.5zM242.5 365h14.5v2.5h-14.5zM272 365h5v2.5h-5zM289 365h2.5v2.5h-2.5zM306 365h10v2.5h-10zM345.5 365h27v2.5h-27zM137 367.5h7.5v2.5h-7.5zM157 367.5h4.5v2.5h-4.5zM164 367.5h7.5v2.5h-7.5zM186 367.5h5v2.5h-5zM201 367.5h5v2.5h-5zM213 367.5h17.5v2.5h-17.5zM242.5 367.5h10v2.5h-10zM277 367.5h5v2.5h-5zM289 367.5h2.5v2.5h-2.5zM306 367.5h10v2.5h-10zM350.5 367.5h19.5v2.5h-19.5zM137 370h15v2.5h-15zM157 370h14.5v2.5h-14.5zM179 370h12v2.5h-12zM201 370h5v2.5h-5zM215.5 370h15v2.5h-15zM245 370h2.5v2.5h-2.5zM257 370h5v2.5h-5zM277 370h5v2.5h-5zM289 370h2.5v2.5h-2.5zM311 370h5v2.5h-5zM340.5 370h5v2.5h-5zM353 370h17v2.5h-17zM147 372.5h2.5v2.5h-2.5zM157 372.5h14.5v2.5h-14.5zM179 372.5h17v2.5h-17zM215.5 372.5h15v2.5h-15zM257 372.5h7.5v2.5h-7.5zM277 372.5h5v2.5h-5zM289 372.5h2.5v2.5h-2.5zM296.5 372.5h2.5v2.5h-2.5zM328.5 372.5h9.5v2.5h-9.5zM340.5 372.5h7.5v2.5h-7.5zM353 372.5h17v2.5h-17zM382 372.5h12.5v2.5h-12.5zM144.5 375h7.5v2.5h-7.5zM159 375h12.5v2.5h-12.5zM176.5 375h17v2.5h-17zM203.5 375h2.5v2.5h-2.5zM208.5 375h2v2.5h-2zM223 375h5v2.5h-5zM257 375h7.5v2.5h-7.5zM274.5 375h14.5v2.5h-14.5zM294 375h5v2.5h-5zM321 375h17v2.5h-17zM345.5 375h5v2.5h-5zM382 375h7.5v2.5h-7.5zM392 375h5v2.5h-5zM144.5 377.5h10v2.5h-10zM159 377.5h7.5v2.5h-7.5zM174 377.5h17v2.5h-17zM198.5 377.5h2.5v2.5h-2.5zM206 377.5h2.5v2.5h-2.5zM220.5 377.5h10v2.5h-10zM250 377.5h9.5v2.5h-9.5zM262 377.5h10v2.5h-10zM277 377.5h2.5v2.5h-2.5zM284 377.5h5v2.5h-5zM291.5 377.5h7.5v2.5h-7.5zM326 377.5h12v2.5h-12zM394.5 377.5h5v2.5h-5zM149.5 380h5v2h-5zM159 380h5v2h-5zM198.5 380h2.5v2h-2.5zM206 380h2.5v2h-2.5zM218 380h10v2h-10zM245 380h12v2h-12zM262 380h5v2h-5zM277 380h2.5v2h-2.5zM291.5 380h5v2h-5zM304 380h4.5v2h-4.5zM335.5 380h5v2h-5zM353 380h7v2h-7zM397 380h2.5v2h-2.5zM406.5 380h2.5v2h-2.5zM147 382h17v2.5h-17zM198.5 382h5v2.5h-5zM218 382h7.5v2.5h-7.5zM245 382h10v2.5h-10zM262 382h12.5v2.5h-12.5zM301.5 382h12v2.5h-12zM335.5 382h7.5v2.5h-7.5zM353 382h4.5v2.5h-4.5zM404.5 382h4.5v2.5h-4.5zM147 384.5h19.5v2.5h-19.5zM193.5 384.5h12.5v2.5h-12.5zM218 384.5h7.5v2.5h-7.5zM247.5 384.5h7.5v2.5h-7.5zM262 384.5h15v2.5h-15zM301.5 384.5h14.5v2.5h-14.5zM331 384.5h12v2.5h-12zM345.5 384.5h5v2.5h-5zM404.5 384.5h4.5v2.5h-4.5zM147 387h19.5v2.5h-19.5zM176.5 387h9.5v2.5h-9.5zM188.5 387h17.5v2.5h-17.5zM215.5 387h7.5v2.5h-7.5zM233 387h2v2.5h-2zM247.5 387h7.5v2.5h-7.5zM262 387h12.5v2.5h-12.5zM286.5 387h5v2.5h-5zM301.5 387h19.5v2.5h-19.5zM328.5 387h7v2.5h-7zM343 387h2.5v2.5h-2.5zM367.5 387h2.5v2.5h-2.5zM380 387h2v2.5h-2zM416.5 387h14.5v2.5h-14.5zM144.5 389.5h22v2.5h-22zM176.5 389.5h9.5v2.5h-9.5zM191 389.5h5v2.5h-5zM201 389.5h2.5v2.5h-2.5zM215.5 389.5h7.5v2.5h-7.5zM233 389.5h2v2.5h-2zM247.5 389.5h7.5v2.5h-7.5zM262 389.5h5v2.5h-5zM272 389.5h5v2.5h-5zM291.5 389.5h5v2.5h-5zM301.5 389.5h19.5v2.5h-19.5zM328.5 389.5h7v2.5h-7zM343 389.5h5v2.5h-5zM367.5 389.5h2.5v2.5h-2.5zM380 389.5h2v2.5h-2zM402 389.5h2.5v2.5h-2.5zM411.5 389.5h19.5v2.5h-19.5zM142 392h24.5v2.5h-24.5zM176.5 392h9.5v2.5h-9.5zM198.5 392h5v2.5h-5zM208.5 392h2v2.5h-2zM218 392h10v2.5h-10zM245 392h7.5v2.5h-7.5zM264.5 392h12.5v2.5h-12.5zM291.5 392h19.5v2.5h-19.5zM316 392h2.5v2.5h-2.5zM328.5 392h2.5v2.5h-2.5zM343 392h5v2.5h-5zM362.5 392h5v2.5h-5zM380 392h9.5v2.5h-9.5zM402 392h2.5v2.5h-2.5zM411.5 392h15v2.5h-15zM142 394.5h2.5v2.5h-2.5zM179 394.5h9.5v2.5h-9.5zM193.5 394.5h10v2.5h-10zM208.5 394.5h2v2.5h-2zM218 394.5h10v2.5h-10zM245 394.5h5v2.5h-5zM264.5 394.5h2.5v2.5h-2.5zM272 394.5h5v2.5h-5zM289 394.5h24.5v2.5h-24.5zM328.5 394.5h2.5v2.5h-2.5zM338 394.5h12.5v2.5h-12.5zM360 394.5h5v2.5h-5zM380 394.5h19.5v2.5h-19.5zM411.5 394.5h2.5v2.5h-2.5zM421.5 394.5h2.5v2.5h-2.5zM149.5 397h2.5v2.5h-2.5zM179 397h29.5v2.5h-29.5zM218 397h15v2.5h-15zM250 397h2.5v2.5h-2.5zM255 397h7v2.5h-7zM274.5 397h5v2.5h-5zM289 397h7.5v2.5h-7.5zM301.5 397h14.5v2.5h-14.5zM326 397h5v2.5h-5zM340.5 397h5v2.5h-5zM360 397h5v2.5h-5zM380 397h2v2.5h-2zM387 397h12.5v2.5h-12.5zM421.5 397h5v2.5h-5zM149.5 399.5h14.5v2.5h-14.5zM176.5 399.5h17v2.5h-17zM196 399.5h14.5v2.5h-14.5zM218 399.5h12.5v2.5h-12.5zM257 399.5h5v2.5h-5zM291.5 399.5h5v2.5h-5zM304 399.5h4.5v2.5h-4.5zM313.5 399.5h7.5v2.5h-7.5zM326 399.5h5v2.5h-5zM355 399.5h10v2.5h-10zM370 399.5h24.5v2.5h-24.5zM411.5 399.5h5v2.5h-5zM424 399.5h5v2.5h-5zM149.5 402h14.5v2.5h-14.5zM176.5 402h9.5v2.5h-9.5zM196 402h14.5v2.5h-14.5zM218 402h12.5v2.5h-12.5zM250 402h2.5v2.5h-2.5zM267 402h2.5v2.5h-2.5zM289 402h7.5v2.5h-7.5zM313.5 402h5v2.5h-5zM326 402h7v2.5h-7zM338 402h2.5v2.5h-2.5zM357.5 402h2.5v2.5h-2.5zM370 402h22v2.5h-22zM411.5 402h5v2.5h-5zM424 402h5v2.5h-5zM152 404.5h2.5v2h-2.5zM179 404.5h7v2h-7zM196 404.5h2.5v2h-2.5zM201 404.5h7.5v2h-7.5zM213 404.5h2.5v2h-2.5zM220.5 404.5h10v2h-10zM233 404.5h2v2h-2zM247.5 404.5h5v2h-5zM267 404.5h2.5v2h-2.5zM277 404.5h5v2h-5zM289 404.5h7.5v2h-7.5zM326 404.5h7v2h-7zM365 404.5h2.5v2h-2.5zM411.5 404.5h7.5v2h-7.5zM424 404.5h7v2h-7zM436 404.5h2.5v2h-2.5zM147 406.5h2.5v2.5h-2.5zM166.5 406.5h2.5v2.5h-2.5zM181.5 406.5h4.5v2.5h-4.5zM203.5 406.5h5v2.5h-5zM262 406.5h2.5v2.5h-2.5zM267 406.5h5v2.5h-5zM277 406.5h7v2.5h-7zM306 406.5h5v2.5h-5zM316 406.5h2.5v2.5h-2.5zM323.5 406.5h5v2.5h-5zM357.5 406.5h2.5v2.5h-2.5zM362.5 406.5h7.5v2.5h-7.5zM372.5 406.5h2.5v2.5h-2.5zM414 406.5h5v2.5h-5zM421.5 406.5h5v2.5h-5zM433.5 406.5h7.5v2.5h-7.5zM147 409h2.5v2.5h-2.5zM157 409h4.5v2.5h-4.5zM166.5 409h2.5v2.5h-2.5zM181.5 409h7v2.5h-7zM193.5 409h2.5v2.5h-2.5zM203.5 409h2.5v2.5h-2.5zM230.5 409h4.5v2.5h-4.5zM242.5 409h5v2.5h-5zM259.5 409h5v2.5h-5zM267 409h5v2.5h-5zM279.5 409h7v2.5h-7zM306 409h10v2.5h-10zM323.5 409h5v2.5h-5zM348 409h2.5v2.5h-2.5zM357.5 409h5v2.5h-5zM365 409h2.5v2.5h-2.5zM392 409h5v2.5h-5zM416.5 409h2.5v2.5h-2.5zM433.5 409h5v2.5h-5zM147 411.5h2.5v2.5h-2.5zM154.5 411.5h7v2.5h-7zM181.5 411.5h7v2.5h-7zM191 411.5h7.5v2.5h-7.5zM203.5 411.5h5v2.5h-5zM215.5 411.5h5v2.5h-5zM230.5 411.5h4.5v2.5h-4.5zM242.5 411.5h7.5v2.5h-7.5zM257 411.5h7.5v2.5h-7.5zM282 411.5h14.5v2.5h-14.5zM306 411.5h10v2.5h-10zM323.5 411.5h5v2.5h-5zM335.5 411.5h7.5v2.5h-7.5zM348 411.5h2.5v2.5h-2.5zM357.5 411.5h5v2.5h-5zM389.5 411.5h5v2.5h-5zM399.5 411.5h7v2.5h-7zM414 411.5h5v2.5h-5zM144.5 414h7.5v2.5h-7.5zM154.5 414h7v2.5h-7zM181.5 414h4.5v2.5h-4.5zM201 414h5v2.5h-5zM213 414h7.5v2.5h-7.5zM230.5 414h4.5v2.5h-4.5zM257 414h7.5v2.5h-7.5zM284 414h15v2.5h-15zM306 414h10v2.5h-10zM333 414h10v2.5h-10zM360 414h5v2.5h-5zM389.5 414h5v2.5h-5zM402 414h2.5v2.5h-2.5zM411.5 414h5v2.5h-5zM144.5 416.5h7.5v2.5h-7.5zM157 416.5h2v2.5h-2zM179 416.5h9.5v2.5h-9.5zM198.5 416.5h10v2.5h-10zM210.5 416.5h10v2.5h-10zM230.5 416.5h4.5v2.5h-4.5zM294 416.5h22v2.5h-22zM333 416.5h10v2.5h-10zM353 416.5h9.5v2.5h-9.5zM389.5 416.5h5v2.5h-5zM433.5 416.5h2.5v2.5h-2.5zM147 419h2.5v2.5h-2.5zM176.5 419h12v2.5h-12zM201 419h7.5v2.5h-7.5zM210.5 419h2.5v2.5h-2.5zM218 419h5v2.5h-5zM228 419h2.5v2.5h-2.5zM269.5 419h12.5v2.5h-12.5zM286.5 419h2.5v2.5h-2.5zM296.5 419h9.5v2.5h-9.5zM311 419h5v2.5h-5zM333 419h7.5v2.5h-7.5zM353 419h9.5v2.5h-9.5zM397 419h5v2.5h-5zM424 419h5v2.5h-5zM147 421.5h5v2.5h-5zM176.5 421.5h9.5v2.5h-9.5zM201 421.5h5v2.5h-5zM215.5 421.5h7.5v2.5h-7.5zM242.5 421.5h14.5v2.5h-14.5zM259.5 421.5h2.5v2.5h-2.5zM269.5 421.5h12.5v2.5h-12.5zM284 421.5h7.5v2.5h-7.5zM296.5 421.5h7.5v2.5h-7.5zM316 421.5h2.5v2.5h-2.5zM333 421.5h7.5v2.5h-7.5zM345.5 421.5h2.5v2.5h-2.5zM357.5 421.5h5v2.5h-5zM397 421.5h7.5v2.5h-7.5zM409 421.5h2.5v2.5h-2.5zM424 421.5h9.5v2.5h-9.5zM147 424h14.5v2.5h-14.5zM179 424h12v2.5h-12zM201 424h5v2.5h-5zM215.5 424h7.5v2.5h-7.5zM242.5 424h14.5v2.5h-14.5zM259.5 424h20v2.5h-20zM284 424h7.5v2.5h-7.5zM294 424h10v2.5h-10zM313.5 424h15v2.5h-15zM335.5 424h2.5v2.5h-2.5zM343 424h5v2.5h-5zM357.5 424h5v2.5h-5zM380 424h2v2.5h-2zM421.5 424h5v2.5h-5zM429 424h7v2.5h-7zM147 426.5h17v2.5h-17zM179 426.5h14.5v2.5h-14.5zM201 426.5h9.5v2.5h-9.5zM215.5 426.5h7.5v2.5h-7.5zM225.5 426.5h12v2.5h-12zM259.5 426.5h15v2.5h-15zM277 426.5h2.5v2.5h-2.5zM284 426.5h17.5v2.5h-17.5zM313.5 426.5h7.5v2.5h-7.5zM335.5 426.5h10v2.5h-10zM377.5 426.5h7v2.5h-7zM404.5 426.5h4.5v2.5h-4.5zM429 426.5h7v2.5h-7zM147 429h5v2h-5zM157 429h9.5v2h-9.5zM179 429h19.5v2h-19.5zM203.5 429h7v2h-7zM213 429h5v2h-5zM225.5 429h14.5v2h-14.5zM259.5 429h27v2h-27zM289 429h10v2h-10zM326 429h7v2h-7zM338 429h7.5v2h-7.5zM380 429h7v2h-7zM397 429h14.5v2h-14.5zM431 429h5v2h-5zM147 431h5v2.5h-5zM161.5 431h5v2.5h-5zM176.5 431h2.5v2.5h-2.5zM186 431h15v2.5h-15zM208.5 431h9.5v2.5h-9.5zM225.5 431h5v2.5h-5zM235 431h5v2.5h-5zM257 431h27v2.5h-27zM289 431h10v2.5h-10zM326 431h22v2.5h-22zM367.5 431h5v2.5h-5zM382 431h5v2.5h-5zM389.5 431h5v2.5h-5zM402 431h9.5v2.5h-9.5zM419 431h2.5v2.5h-2.5zM147 433.5h5v2.5h-5zM161.5 433.5h2.5v2.5h-2.5zM174 433.5h10v2.5h-10zM186 433.5h17.5v2.5h-17.5zM208.5 433.5h14.5v2.5h-14.5zM235 433.5h5v2.5h-5zM257 433.5h5v2.5h-5zM264.5 433.5h5v2.5h-5zM272 433.5h10v2.5h-10zM286.5 433.5h12.5v2.5h-12.5zM331 433.5h9.5v2.5h-9.5zM343 433.5h2.5v2.5h-2.5zM353 433.5h4.5v2.5h-4.5zM367.5 433.5h10v2.5h-10zM382 433.5h5v2.5h-5zM389.5 433.5h5v2.5h-5zM404.5 433.5h7v2.5h-7zM419 433.5h7.5v2.5h-7.5z"/>
<path fill="#ff2200" d="M17 139.5h2.5v2.5h-2.5zM41.5 139.5h2.5v2.5h-2.5zM14.5 142h5v2.5h-5zM41.5 142h2.5v2.5h-2.5zM14.5 144.5h5v2.5h-5zM17 147h5v2.5h-5zM17 149.5h2.5v2.5h-2.5zM46.5 154.5h5v2.5h-5zM56.5 154.5h2.5v2.5h-2.5zM51.5 157h2.5v2h-2.5zM56.5 157h2.5v2h-2.5zM12 159h2.5v2.5h-2.5zM17 171.5h2.5v2.5h-2.5zM61.5 181.5h4.5v2.5h-4.5zM32 184h5v2h-5zM61.5 184h2v2h-2zM14.5 186h2.5v2.5h-2.5zM32 186h5v2.5h-5zM49 191h2.5v2.5h-2.5zM54 191h5v2.5h-5zM61.5 198.5h2v2.5h-2zM81 206h2.5v2.5h-2.5zM54 208.5h5v2h-5zM81 208.5h2.5v2h-2.5zM81 210.5h9.5v2.5h-9.5zM88 213h2.5v2.5h-2.5zM100.5 213h2.5v2.5h-2.5zM100.5 215.5h2.5v2.5h-2.5zM37 218h2v2.5h-2zM37 220.5h4.5v2.5h-4.5zM78.5 220.5h2.5v2.5h-2.5zM39 223h2.5v2.5h-2.5zM39 225.5h2.5v2.5h-2.5zM49 225.5h2.5v2.5h-2.5zM29.5 228h2.5v2.5h-2.5zM49 228h2.5v2.5h-2.5zM93 235h2.5v2.5h-2.5zM76 237.5h7.5v2.5h-7.5zM108 247.5h7v2.5h-7zM103 250h14.5v2.5h-14.5zM103 252.5h9.5v2.5h-9.5zM112.5 259.5h10v2.5h-10zM108 262h2.5v2.5h-2.5zM115 262h10v2.5h-10zM130 262h5v2.5h-5zM108 264.5h4.5v2.5h-4.5zM127.5 264.5h7.5v2.5h-7.5zM110.5 267h2v2.5h-2zM125 267h7.5v2.5h-7.5zM112.5 269.5h2.5v2.5h-2.5zM127.5 269.5h2.5v2.5h-2.5zM120 272h2.5v2.5h-2.5zM115 274.5h2.5v2.5h-2.5zM132.5 274.5h2.5v2.5h-2.5zM144.5 274.5h2.5v2.5h-2.5zM130 277h2.5v2.5h-2.5zM142 277h12.5v2.5h-12.5zM147 279.5h7.5v2.5h-7.5zM117.5 282h2.5v2h-2.5zM125 284h7.5v2.5h-7.5zM127.5 286.5h2.5v2.5h-2.5zM137 286.5h5v2.5h-5zM137 289h5v2.5h-5zM164 289h2.5v2.5h-2.5zM139.5 291.5h2.5v2.5h-2.5zM144.5 291.5h2.5v2.5h-2.5zM147 294h2.5v2.5h-2.5zM171.5 294h5v2.5h-5zM171.5 296.5h2.5v2.5h-2.5zM159 299h2.5v2.5h-2.5zM139.5 301.5h5v2.5h-5zM157 301.5h4.5v2.5h-4.5zM142 304h2.5v2h-2.5zM149.5 304h2.5v2h-2.5zM174 304h2.5v2h-2.5zM147 306h5v2.5h-5zM127.5 308.5h2.5v2.5h-2.5zM235 308.5h2.5v2.5h-2.5zM127.5 311h2.5v2.5h-2.5zM152 311h2.5v2.5h-2.5zM215.5 316h2.5v2.5h-2.5zM166.5 321h5v2.5h-5zM166.5 323.5h5v2.5h-5zM169 326h2.5v2.5h-2.5zM166.5 328.5h2.5v2.5h-2.5zM228 333h2.5v2.5h-2.5zM257 333h2.5v2.5h-2.5zM228 335.5h2.5v2.5h-2.5zM225.5 343h5v2.5h-5zM225.5 345.5h2.5v2.5h-2.5zM215.5 355h2.5v2.5h-2.5zM350.5 357.5h2.5v2.5h-2.5zM225.5 360h2.5v2.5h-2.5zM269.5 360h2.5v2.5h-2.5zM223 362.5h5v2.5h-5zM269.5 362.5h2.5v2.5h-2.5zM264.5 365h2.5v2.5h-2.5zM264.5 367.5h2.5v2.5h-2.5zM284 367.5h2.5v2.5h-2.5zM154.5 370h2.5v2.5h-2.5zM154.5 372.5h2.5v2.5h-2.5zM164 380h2.5v2h-2.5zM259.5 380h2.5v2h-2.5zM164 382h2.5v2.5h-2.5zM242.5 389.5h2.5v2.5h-2.5zM313.5 394.5h2.5v2.5h-2.5zM235 399.5h5v2.5h-5zM279.5 399.5h2.5v2.5h-2.5zM321 404.5h2.5v2h-2.5zM318.5 406.5h2.5v2.5h-2.5zM377.5 411.5h2.5v2.5h-2.5zM387 411.5h2.5v2.5h-2.5zM228 414h2.5v2.5h-2.5zM382 414h7.5v2.5h-7.5zM387 416.5h2.5v2.5h-2.5zM436 416.5h5v2.5h-5zM389.5 419h2.5v2.5h-2.5zM387 429h2.5v2h-2.5zM387 431h2.5v2.5h-2.5zM399.5 431h2.5v2.5h-2.5zM414 431h2.5v2.5h-2.5zM159 433.5h2.5v2.5h-2.5zM311 433.5h2.5v2.5h-2.5zM411.5 433.5h7.5v2.5h-7.5z"/>
<polyline points="301.0,295.0 300.0,292.5 295.0,291.0 288.8,290.0 281.2,286.2 275.0,282.5 270.0,278.8 267.5,272.5 267.5,265.0 268.8,257.5 268.8,250.0 265.0,246.0 261.9,245.5 257.7,244.3 253.5,242.9 249.3,241.5 245.1,239.4 241.7,237.3 238.9,234.5 238.2,231.7 239.6,229.6 242.4,228.9 242.4,226.1 242.4,221.9 243.8,220.5 246.5,221.9 249.3,222.6 251.4,224.7 252.8,228.2 255.6,227.5 259.1,224.7 261.9,221.9 264.7,219.1 268.9,216.3 271.0,212.0 273.1,210.0 272.4,206.5 269.0,205.8 264.7,206.5 260.5,204.5 257.0,201.0 253.5,200.3 250.0,201.7 247.2,200.3 249.3,198.2 250.0,195.4 247.2,193.3 241.0,193.3 235.4,193.3 233.3,190.5 232.6,187.0 231.2,183.5 228.4,181.4 219.0,182.5 215.0,180.0 207.5,175.0 205.0,172.5 197.5,174.0 190.0,174.0 185.0,172.5 182.5,167.5 179.0,162.5 175.0,159.0 172.5,156.0 167.5,157.5 161.0,155.5 156.0,151.0 151.0,146.0 146.0,140.0 144.0,134.0 140.0,125.0 136.0,119.0 130.0,115.0 121.0,112.5 112.5,112.0 102.5,114.0 95.0,115.0 87.5,116.0 87.5,114.0 90.0,110.0 94.0,107.5 97.5,105.0 99.0,101.0 96.0,97.5 92.5,95.0 91.0,92.0 92.5,90.0 97.5,86.0 100.0,82.5 106.0,80.0 114.0,77.5 116.0,75.0 112.5,74.0 102.5,72.5 97.5,67.5 95.0,64.0 100.0,60.0 102.5,57.5 107.5,55.0 114.0,56.0 119.0,55.0 125.0,52.5 132.5,51.0 137.5,50.0 135.0,47.5 137.5,44.0 140.0,40.0 146.0,40.0 150.0,37.5 149.0,35.0 142.5,32.5 135.0,30.0 132.5,25.0 127.5,20.0 120.0,19.0 110.0,17.5 104.0,17.5 100.0,15.0 101.0,11.0 104.0,5.0" fill="none" stroke="#000" stroke-width="8" stroke-linejoin="round"/>
<polyline points="490.6,329.6 489.7,331.5 486.8,334.3 483.9,337.2 483.0,342.9 485.8,345.8 488.7,348.6 489.7,352.5 488.7,355.3 484.9,357.2 480.1,357.2 476.3,358.2 472.5,360.1 467.7,361.0 464.9,358.2 463.9,353.4 464.9,350.6 467.7,347.7 472.5,346.7 476.3,344.8 477.3,341.0 474.4,338.2 463.0,338.2 457.2,338.2 456.3,334.3 451.5,336.2 446.7,337.2 443.9,334.3 439.1,333.4 436.2,330.5 430.5,333.4 424.8,332.4 417.2,330.5 411.4,327.7 405.7,324.8 400.0,323.8 395.0,324.0 390.0,324.0 385.0,322.5 380.0,324.0 376.0,325.5 371.0,322.5 366.0,320.0 360.0,317.5 352.5,316.0 345.0,315.0 337.5,312.5 335.0,309.0 330.0,307.5 325.0,304.0 322.5,301.0 315.0,300.0 307.5,299.0 301.0,295.0 300.0,292.5 295.0,291.0" fill="none" stroke="#000" stroke-width="2.5" stroke-linejoin="round"/>
<polygon points="461.0,352.0 465.0,348.0 468.0,355.0 472.0,361.0 480.0,360.0 488.0,357.0 491.0,361.0 482.0,367.0 468.0,368.0 461.0,362.0" fill="#000"/>
<polygon points="130.0,118.0 138.0,118.0 144.0,130.0 146.0,140.0 138.0,136.0 132.0,126.0" fill="#000"/>
<polygon points="95.0,66.0 116.0,72.0 117.0,78.0 100.0,84.0 93.0,80.0" fill="#000"/>
<polygon points="226.0,196.0 247.0,193.0 250.0,196.0 250.0,202.0 256.0,205.0 256.0,220.0 250.0,222.0 246.0,222.0 242.0,222.0 242.0,228.0 238.0,231.0 232.0,230.0" fill="#0022cc"/>
<polygon points="135.0,29.0 150.0,33.0 151.0,40.0 146.0,41.0 139.0,41.0 136.0,36.0" fill="#fff"/>
<polygon points="250.0,201.0 257.0,201.0 262.0,205.0 272.0,206.0 273.0,210.0 269.0,216.0 262.0,222.0 256.0,228.0 252.0,228.0 250.0,222.0 256.0,220.0 256.0,205.0" fill="#fff"/>
<polygon points="330.0,310.0 345.0,315.0 360.0,317.5 371.0,322.5 385.0,322.5 400.0,323.8 411.4,327.7 424.8,332.4 436.2,330.5 446.7,337.2 457.2,338.2 477.3,338.0 477.3,343.0 463.0,344.0 451.0,343.0 440.0,341.0 425.0,338.0 411.0,334.0 400.0,330.0 390.0,328.0 375.0,329.0 365.0,324.0 350.0,320.0 335.0,315.0" fill="#fff"/>
<polygon points="400.0,327.0 411.0,328.6 411.0,331.5 400.0,331.0" fill="#0022cc"/>
<polygon points="451.5,341.0 463.0,341.0 463.0,345.0 451.5,345.0" fill="#0022cc"/>
<polygon points="485.0,334.0 491.0,334.0 491.0,340.0 485.0,340.0" fill="#0022cc"/>
<polygon points="350.0,320.0 362.0,321.0 362.0,325.0 350.0,324.0" fill="#0022cc"/>
<polygon points="105.0,0.0 491.0,0.0 491.0,329.0 490.6,329.6 489.7,331.5 486.8,334.3 483.9,337.2 483.0,342.9 485.8,345.8 488.7,348.6 489.7,352.5 488.7,355.3 484.9,357.2 480.1,357.2 476.3,358.2 472.5,360.1 467.7,361.0 464.9,358.2 463.9,353.4 464.9,350.6 467.7,347.7 472.5,346.7 476.3,344.8 477.3,341.0 474.4,338.2 463.0,338.2 457.2,338.2 456.3,334.3 451.5,336.2 446.7,337.2 443.9,334.3 439.1,333.4 436.2,330.5 430.5,333.4 424.8,332.4 417.2,330.5 411.4,327.7 405.7,324.8 400.0,323.8 395.0,324.0 390.0,324.0 385.0,322.5 380.0,324.0 376.0,325.5 371.0,322.5 366.0,320.0 360.0,317.5 352.5,316.0 345.0,315.0 337.5,312.5 335.0,309.0 330.0,307.5 325.0,304.0 322.5,301.0 315.0,300.0 307.5,299.0 301.0,295.0 300.0,292.5 295.0,291.0 288.8,290.0 281.2,286.2 275.0,282.5 270.0,278.8 267.5,272.5 267.5,265.0 268.8,257.5 268.8,250.0 265.0,246.0 261.9,245.5 257.7,244.3 253.5,242.9 249.3,241.5 245.1,239.4 241.7,237.3 238.9,234.5 238.2,231.7 239.6,229.6 242.4,228.9 242.4,226.1 242.4,221.9 243.8,220.5 246.5,221.9 249.3,222.6 251.4,224.7 252.8,228.2 255.6,227.5 259.1,224.7 261.9,221.9 264.7,219.1 268.9,216.3 271.0,212.0 273.1,210.0 272.4,206.5 269.0,205.8 264.7,206.5 260.5,204.5 257.0,201.0 253.5,200.3 250.0,201.7 247.2,200.3 249.3,198.2 250.0,195.4 247.2,193.3 241.0,193.3 235.4,193.3 233.3,190.5 232.6,187.0 231.2,183.5 228.4,181.4 219.0,182.5 215.0,180.0 207.5,175.0 205.0,172.5 197.5,174.0 190.0,174.0 185.0,172.5 182.5,167.5 179.0,162.5 175.0,159.0 172.5,156.0 167.5,157.5 161.0,155.5 156.0,151.0 151.0,146.0 146.0,140.0 144.0,134.0 140.0,125.0 136.0,119.0 130.0,115.0 121.0,112.5 112.5,112.0 102.5,114.0 95.0,115.0 87.5,116.0 87.5,114.0 90.0,110.0 94.0,107.5 97.5,105.0 99.0,101.0 96.0,97.5 92.5,95.0 91.0,92.0 92.5,90.0 97.5,86.0 100.0,82.5 106.0,80.0 114.0,77.5 116.0,75.0 112.5,74.0 102.5,72.5 97.5,67.5 95.0,64.0 100.0,60.0 102.5,57.5 107.5,55.0 114.0,56.0 119.0,55.0 125.0,52.5 132.5,51.0 137.5,50.0 135.0,47.5 137.5,44.0 140.0,40.0 146.0,40.0 150.0,37.5 149.0,35.0 142.5,32.5 135.0,30.0 132.5,25.0 127.5,20.0 120.0,19.0 110.0,17.5 104.0,17.5 100.0,15.0 101.0,11.0 104.0,5.0" fill="#cbcbcb" stroke="#000" stroke-width="1"/>
<rect x="143.5" y="289" width="3" height="3" fill="#000"/>
<line x1="55.5" y1="0" x2="55.5" y2="436" stroke="#000" stroke-opacity="0.36" stroke-width="1"/>
<line x1="192.5" y1="0" x2="192.5" y2="436" stroke="#000" stroke-opacity="0.36" stroke-width="1"/>
<line x1="328.5" y1="0" x2="328.5" y2="436" stroke="#000" stroke-opacity="0.36" stroke-width="1"/>
<line x1="465" y1="0" x2="465" y2="436" stroke="#000" stroke-opacity="0.36" stroke-width="1"/>
<line x1="0" y1="54.5" x2="492" y2="54.5" stroke="#000" stroke-opacity="0.36" stroke-width="1"/>
<line x1="0" y1="190.5" x2="492" y2="190.5" stroke="#000" stroke-opacity="0.36" stroke-width="1"/>
<line x1="0" y1="326.5" x2="492" y2="326.5" stroke="#000" stroke-opacity="0.36" stroke-width="1"/>
<text y="59" font-family="Liberation Sans" font-size="11.5" fill="#111" stroke="#111" stroke-width="0.2"><tspan x="3.9">34</tspan><tspan x="18.1">°</tspan><tspan x="24.1" letter-spacing="0.5">00'N</tspan></text>
<text y="195.5" font-family="Liberation Sans" font-size="11.5" fill="#111" stroke="#111" stroke-width="0.2"><tspan x="3.9">33</tspan><tspan x="18.1">°</tspan><tspan x="24.1" letter-spacing="0.5">45'N</tspan></text>
<text y="331.5" font-family="Liberation Sans" font-size="11.5" fill="#111" stroke="#111" stroke-width="0.2"><tspan x="3.9">33</tspan><tspan x="18.1">°</tspan><tspan x="24.1" letter-spacing="0.5">30'N</tspan></text>
<text y="433.3" font-family="Liberation Sans" font-size="11.5" fill="#111" stroke="#111" stroke-width="0.2"><tspan x="30.9" letter-spacing="0.5">135</tspan><tspan x="51.5">°</tspan><tspan x="56.5" letter-spacing="0.75">00'E</tspan></text>
<text y="433.3" font-family="Liberation Sans" font-size="11.5" fill="#111" stroke="#111" stroke-width="0.2"><tspan x="167.9" letter-spacing="0.5">135</tspan><tspan x="188.5">°</tspan><tspan x="193.5" letter-spacing="0.75">15'E</tspan></text>
<text y="433.3" font-family="Liberation Sans" font-size="11.5" fill="#111" stroke="#111" stroke-width="0.2"><tspan x="303.9" letter-spacing="0.5">135</tspan><tspan x="324.5">°</tspan><tspan x="329.5" letter-spacing="0.75">30'E</tspan></text>
<text y="433.3" font-family="Liberation Sans" font-size="11.5" fill="#111" stroke="#111" stroke-width="0.2"><tspan x="440.4" letter-spacing="0.5">135</tspan><tspan x="461.0">°</tspan><tspan x="466.0" letter-spacing="0.75">45'E</tspan></text>
<text x="260" y="82" text-anchor="middle" font-family="Liberation Sans" font-size="12" fill="#111" stroke="#111" stroke-width="0.15">km</text>
<rect x="210" y="95" width="100" height="4" fill="#fff" stroke="#555" stroke-width="0.6"/>
<rect x="210" y="95" width="25" height="4" fill="#000"/>
<rect x="260" y="95" width="25" height="4" fill="#000"/>
<line x1="210" y1="95" x2="210" y2="101.5" stroke="#555" stroke-width="0.8"/>
<line x1="260" y1="95" x2="260" y2="101.5" stroke="#555" stroke-width="0.8"/>
<line x1="310" y1="95" x2="310" y2="101.5" stroke="#555" stroke-width="0.8"/>
<text x="210" y="113" text-anchor="middle" font-family="Liberation Sans" font-size="10.5" fill="#111" stroke="#111" stroke-width="0.15">0</text>
<text x="260" y="113" text-anchor="middle" font-family="Liberation Sans" font-size="10.5" fill="#111" stroke="#111" stroke-width="0.15">10</text>
<text x="310" y="113" text-anchor="middle" font-family="Liberation Sans" font-size="10.5" fill="#111" stroke="#111" stroke-width="0.15">20</text>
<text x="414.4" y="28.8" text-anchor="middle" font-family="Liberation Sans" font-size="12" fill="#111" stroke="#111" stroke-width="0.15">[W/m2]</text>
<rect x="407" y="56.50" width="9" height="23.40" fill="#cc0000"/>
<rect x="407" y="79.60" width="9" height="23.40" fill="#ff2200"/>
<rect x="407" y="102.70" width="9" height="23.40" fill="#ff6a00"/>
<rect x="407" y="125.80" width="9" height="23.40" fill="#ffad00"/>
<rect x="407" y="148.90" width="9" height="23.40" fill="#ffff00"/>
<rect x="407" y="172.00" width="9" height="23.40" fill="#ffff00"/>
<rect x="407" y="195.10" width="9" height="23.40" fill="#77ee22"/>
<rect x="407" y="218.20" width="9" height="23.40" fill="#11ee66"/>
<rect x="407" y="241.30" width="9" height="23.40" fill="#0088cc"/>
<rect x="407" y="264.40" width="9" height="23.40" fill="#0022cc"/>
<polygon points="407,56.5 411.5,42.5 416,56.5" fill="#000"/>
<polygon points="407,287.5 411.5,300.5 416,287.5" fill="#fff" stroke="#000" stroke-width="0.8"/>
<rect x="407" y="56.5" width="9" height="231.00" fill="none" stroke="#000" stroke-width="1"/>
<line x1="407" y1="79.60" x2="416" y2="79.60" stroke="#000" stroke-opacity="0.25" stroke-width="0.5"/>
<line x1="407" y1="102.70" x2="416" y2="102.70" stroke="#000" stroke-opacity="0.25" stroke-width="0.5"/>
<line x1="407" y1="125.80" x2="416" y2="125.80" stroke="#000" stroke-opacity="0.25" stroke-width="0.5"/>
<line x1="407" y1="148.90" x2="416" y2="148.90" stroke="#000" stroke-opacity="0.25" stroke-width="0.5"/>
<line x1="407" y1="172.00" x2="416" y2="172.00" stroke="#000" stroke-opacity="0.25" stroke-width="0.5"/>
<line x1="407" y1="195.10" x2="416" y2="195.10" stroke="#000" stroke-opacity="0.25" stroke-width="0.5"/>
<line x1="407" y1="218.20" x2="416" y2="218.20" stroke="#000" stroke-opacity="0.25" stroke-width="0.5"/>
<line x1="407" y1="241.30" x2="416" y2="241.30" stroke="#000" stroke-opacity="0.25" stroke-width="0.5"/>
<line x1="407" y1="264.40" x2="416" y2="264.40" stroke="#000" stroke-opacity="0.25" stroke-width="0.5"/>
<text x="417.7" y="60.50" font-family="Liberation Sans" font-size="11.3" fill="#111" stroke="#111" stroke-width="0.15">600</text>
<text x="417.7" y="83.60" font-family="Liberation Sans" font-size="11.3" fill="#111" stroke="#111" stroke-width="0.15">550</text>
<text x="417.7" y="106.70" font-family="Liberation Sans" font-size="11.3" fill="#111" stroke="#111" stroke-width="0.15">500</text>
<text x="417.7" y="129.80" font-family="Liberation Sans" font-size="11.3" fill="#111" stroke="#111" stroke-width="0.15">450</text>
<text x="417.7" y="152.90" font-family="Liberation Sans" font-size="11.3" fill="#111" stroke="#111" stroke-width="0.15">400</text>
<text x="417.7" y="176.00" font-family="Liberation Sans" font-size="11.3" fill="#111" stroke="#111" stroke-width="0.15">350</text>
<text x="417.7" y="199.10" font-family="Liberation Sans" font-size="11.3" fill="#111" stroke="#111" stroke-width="0.15">300</text>
<text x="417.7" y="222.20" font-family="Liberation Sans" font-size="11.3" fill="#111" stroke="#111" stroke-width="0.15">250</text>
<text x="417.7" y="245.30" font-family="Liberation Sans" font-size="11.3" fill="#111" stroke="#111" stroke-width="0.15">200</text>
<text x="417.7" y="268.40" font-family="Liberation Sans" font-size="11.3" fill="#111" stroke="#111" stroke-width="0.15">150</text>
<text x="417.7" y="291.50" font-family="Liberation Sans" font-size="11.3" fill="#111" stroke="#111" stroke-width="0.15">100</text>
<rect x="0.5" y="0.5" width="491" height="435" fill="none" stroke="#333a48" stroke-width="1.2"/>
</svg></div>
<div class="cap" id="ca" style="left:122px">(<b>a</b>) Mean wind speed at 10 m</div>
<div class="cap" id="cb" style="left:568px">(<b>b</b>) Mean wind energy density at 10 m</div>
</body></html>
